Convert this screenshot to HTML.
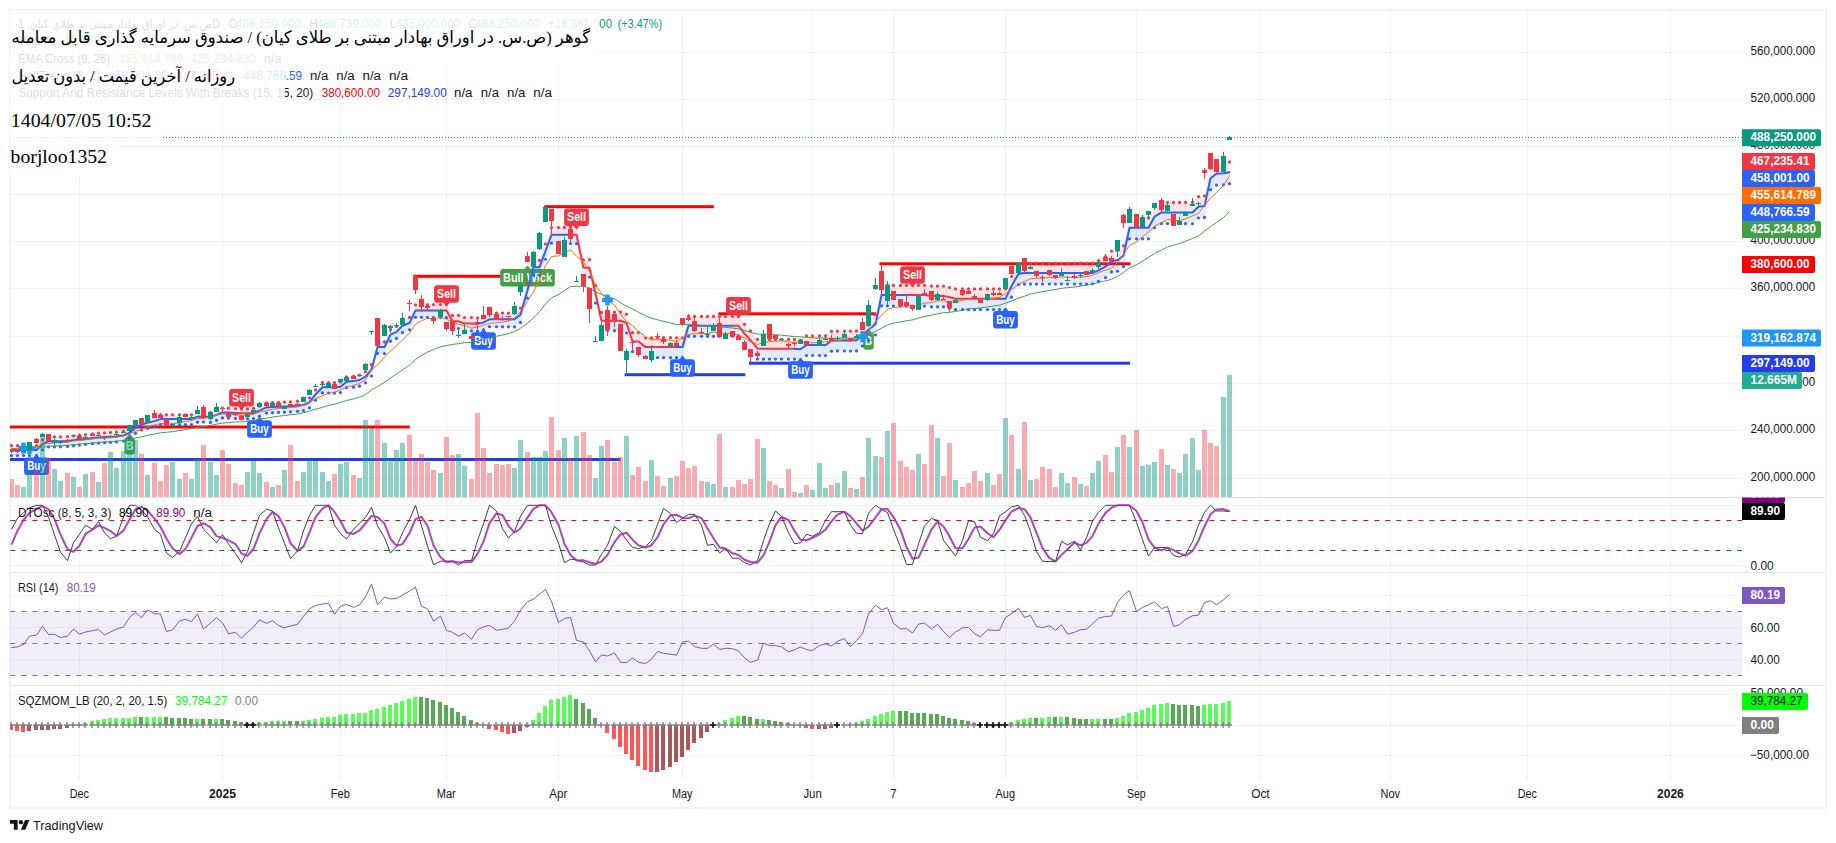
<!DOCTYPE html>
<html><head><meta charset="utf-8"><title>chart</title>
<style>html,body{margin:0;padding:0;background:#fff;overflow:hidden}svg{display:block}text{font-family:"Liberation Sans", Arial, sans-serif;white-space:pre}</style>
</head><body>
<svg width="1836" height="843" viewBox="0 0 1836 843">
<rect width="1836" height="843" fill="#fff"/>
<rect x="10" y="10" width="1816" height="798" fill="none" stroke="#f0f3fa" stroke-width="2" shape-rendering="crispEdges"/>
<g shape-rendering="crispEdges">
<rect x="79" y="11" width="1" height="769" fill="rgba(42,46,57,0.06)"/>
<rect x="222" y="11" width="1" height="769" fill="rgba(42,46,57,0.06)"/>
<rect x="340" y="11" width="1" height="769" fill="rgba(42,46,57,0.06)"/>
<rect x="446" y="11" width="1" height="769" fill="rgba(42,46,57,0.06)"/>
<rect x="558" y="11" width="1" height="769" fill="rgba(42,46,57,0.06)"/>
<rect x="682" y="11" width="1" height="769" fill="rgba(42,46,57,0.06)"/>
<rect x="812" y="11" width="1" height="769" fill="rgba(42,46,57,0.06)"/>
<rect x="893" y="11" width="1" height="769" fill="rgba(42,46,57,0.06)"/>
<rect x="1005" y="11" width="1" height="769" fill="rgba(42,46,57,0.06)"/>
<rect x="1136" y="11" width="1" height="769" fill="rgba(42,46,57,0.06)"/>
<rect x="1260" y="11" width="1" height="769" fill="rgba(42,46,57,0.06)"/>
<rect x="1390" y="11" width="1" height="769" fill="rgba(42,46,57,0.06)"/>
<rect x="1527" y="11" width="1" height="769" fill="rgba(42,46,57,0.06)"/>
<rect x="1670" y="11" width="1" height="769" fill="rgba(42,46,57,0.06)"/>
<rect x="10" y="52" width="1732" height="1" fill="rgba(42,46,57,0.06)"/>
<rect x="10" y="99" width="1732" height="1" fill="rgba(42,46,57,0.06)"/>
<rect x="10" y="146" width="1732" height="1" fill="rgba(42,46,57,0.06)"/>
<rect x="10" y="194" width="1732" height="1" fill="rgba(42,46,57,0.06)"/>
<rect x="10" y="241" width="1732" height="1" fill="rgba(42,46,57,0.06)"/>
<rect x="10" y="288" width="1732" height="1" fill="rgba(42,46,57,0.06)"/>
<rect x="10" y="336" width="1732" height="1" fill="rgba(42,46,57,0.06)"/>
<rect x="10" y="383" width="1732" height="1" fill="rgba(42,46,57,0.06)"/>
<rect x="10" y="430" width="1732" height="1" fill="rgba(42,46,57,0.06)"/>
<rect x="10" y="478" width="1732" height="1" fill="rgba(42,46,57,0.06)"/>
<rect x="10" y="505" width="1732" height="1" fill="rgba(42,46,57,0.06)"/>
<rect x="10" y="565" width="1732" height="1" fill="rgba(42,46,57,0.06)"/>
<rect x="10" y="595" width="1732" height="1" fill="rgba(42,46,57,0.06)"/>
<rect x="10" y="627" width="1732" height="1" fill="rgba(42,46,57,0.06)"/>
<rect x="10" y="659" width="1732" height="1" fill="rgba(42,46,57,0.06)"/>
<rect x="10" y="694" width="1732" height="1" fill="rgba(42,46,57,0.06)"/>
<rect x="10" y="725" width="1732" height="1" fill="rgba(42,46,57,0.06)"/>
<rect x="10" y="755" width="1732" height="1" fill="rgba(42,46,57,0.06)"/>
</g>
<rect x="10" y="611.5" width="1732" height="64" fill="rgba(126,87,194,0.1)"/>
<clipPath id="cm"><rect x="10" y="10" width="1732" height="487"/></clipPath>
<g clip-path="url(#cm)">
<rect x="10" y="425.5" width="399.7" height="3" fill="#ff0000"/>
<rect x="413.3" y="274.8" width="119.7" height="3" fill="#ff0000"/>
<rect x="544.2" y="205.2" width="169.6" height="3" fill="#ff0000"/>
<rect x="718.3" y="312.3" width="157.8" height="3" fill="#ff0000"/>
<rect x="879.4" y="262.3" width="251.2" height="3" fill="#ff0000"/>
<rect x="10" y="458" width="610.7" height="3" fill="#233dee"/>
<rect x="624.6" y="373.2" width="120.7" height="3" fill="#233dee"/>
<rect x="748.9" y="361.7" width="381.1" height="3" fill="#233dee"/>
<path d="M129.7 433.6 L132.7 437.2 L131.95 437.2 Q134.95 437.2 134.95 440.2 L134.95 451.4 Q134.95 454.4 131.95 454.4 L127.45 454.4 Q124.45 454.4 124.45 451.4 L124.45 440.2 Q124.45 437.2 127.45 437.2 L126.7 437.2Z" fill="#43a047" opacity="1"/>
<text x="129.7" y="450.1" font-size="12" fill="#fff" font-weight="bold" text-anchor="middle" textLength="7" lengthAdjust="spacingAndGlyphs">B</text>
<path d="M868.5 328.9 L871.5 332.5 L870.75 332.5 Q873.75 332.5 873.75 335.5 L873.75 346.7 Q873.75 349.7 870.75 349.7 L866.25 349.7 Q863.25 349.7 863.25 346.7 L863.25 335.5 Q863.25 332.5 866.25 332.5 L865.5 332.5Z" fill="#43a047" opacity="1"/>
<text x="868.5" y="345.4" font-size="12" fill="#fff" font-weight="bold" text-anchor="middle" textLength="7" lengthAdjust="spacingAndGlyphs">B</text>
<path d="M527.5 265.5 L530.5 269.1 L551.85 269.1 Q554.85 269.1 554.85 272.1 L554.85 283.6 Q554.85 286.6 551.85 286.6 L503.15 286.6 Q500.15 286.6 500.15 283.6 L500.15 272.1 Q500.15 269.1 503.15 269.1 L524.5 269.1Z" fill="#43a047" opacity="1"/>
<text x="527.5" y="282.15" font-size="12" fill="#fff" font-weight="bold" text-anchor="middle" textLength="48.9" lengthAdjust="spacingAndGlyphs">Bull Wick</text>
<path d="M11.5 450 L17.5 450 L23.5 450 L29.5 450 L36.5 450 L42.5 444.22 L48.5 441.33 L54.5 441.33 L60.5 441.22 L67.5 440.89 L73.5 440.22 L79.5 439.56 L85.5 438.89 L92.5 438.11 L98.5 437.56 L104.5 437.11 L110.5 436.78 L116.5 436.44 L123.5 435.56 L129.5 432.78 L135.5 427.78 L141.5 424.44 L147.5 422.78 L154.5 421.11 L160.5 419.11 L166.5 419.11 L172.5 419.11 L179.5 419.11 L185.5 419.11 L191.5 419.11 L197.5 416.67 L203.5 416.44 L210.5 416.89 L216.5 414.88 L222.5 412.38 L228.5 412.6 L235.5 412.88 L241.5 413.31 L247.5 413.31 L253.5 412.88 L259.5 410.6 L266.5 407.4 L272.5 407.05 L278.5 406.76 L284.5 406.48 L290.5 406.19 L297.5 405.62 L303.5 405 L309.5 402.22 L315.5 394.44 L322.5 387.22 L328.5 387.22 L334.5 387.22 L340.5 386.67 L346.5 381.67 L353.5 381.11 L359.5 380 L365.5 376.67 L371.5 369.78 L377.5 347.11 L384.5 347.11 L390.5 334.67 L396.5 331.89 L402.5 325.78 L409.5 323 L415.5 310.44 L421.5 310.44 L427.5 310.44 L433.5 310.44 L440.5 310.44 L446.5 310.44 L452.5 321.33 L458.5 321.33 L464.5 323.56 L471.5 323.56 L477.5 323.89 L483.5 322.44 L489.5 319.33 L496.5 319.33 L502.5 319.33 L508.5 319.33 L514.5 319.33 L520.5 314.67 L527.5 290.22 L533.5 267.22 L539.5 267.22 L545.5 251 L551.5 234.78 L558.5 234.78 L564.5 234.78 L570.5 234.78 L576.5 234.78 L583.5 267.78 L589.5 267.78 L595.5 293.56 L601.5 320.78 L607.5 320.78 L614.5 320.78 L620.5 320.78 L626.5 323 L632.5 341.56 L638.5 341.56 L645.5 347.11 L651.5 347.11 L657.5 347.11 L663.5 347.11 L670.5 347.11 L676.5 347.11 L682.5 347.11 L688.5 325.78 L694.5 325.78 L701.5 325.78 L707.5 325.78 L713.5 325.78 L719.5 325.78 L725.5 325.78 L732.5 325.78 L738.5 325.78 L744.5 333.56 L750.5 340.22 L757.5 348.56 L763.5 348.67 L769.5 348.67 L775.5 348.67 L781.5 348.67 L788.5 348.67 L794.5 348.67 L800.5 349.22 L806.5 345.11 L812.5 345.11 L819.5 345.11 L825.5 345.11 L831.5 340.67 L837.5 340.44 L844.5 340.44 L850.5 340.44 L856.5 340.33 L862.5 335.33 L868.5 329.78 L875.5 324.22 L881.5 295.11 L887.5 295.11 L893.5 295.11 L900.5 295.11 L906.5 295.11 L912.5 295.11 L918.5 295.11 L924.5 295.11 L931.5 295.89 L937.5 295.89 L943.5 295.89 L949.5 297.33 L955.5 298.67 L962.5 298.67 L968.5 298.67 L974.5 298.67 L980.5 298.67 L987.5 298.67 L993.5 298.67 L999.5 298.67 L1005.5 298.67 L1011.5 286.22 L1018.5 273.67 L1024.5 273.11 L1030.5 273.11 L1036.5 273.11 L1042.5 273.11 L1049.5 273.11 L1055.5 273.11 L1061.5 273.11 L1067.5 273.11 L1074.5 273.11 L1080.5 273.11 L1086.5 273.11 L1092.5 272.89 L1098.5 270.33 L1105.5 266.67 L1111.5 260.89 L1117.5 260.22 L1123.5 255.56 L1129.5 227.78 L1136.5 227.78 L1142.5 227.78 L1148.5 227.78 L1154.5 216.67 L1161.5 212.44 L1167.5 212.44 L1173.5 212.44 L1179.5 212.44 L1185.5 212.44 L1192.5 212.44 L1198.5 206.67 L1204.5 206.11 L1210.5 178.33 L1216.5 173.67 L1223.5 173.33 L1229.5 172.22 L1229.5 161.92 L1223.5 163.07 L1216.5 163.44 L1210.5 168.14 L1204.5 195.96 L1198.5 196.55 L1192.5 202.36 L1185.5 202.4 L1179.5 202.44 L1173.5 202.47 L1167.5 202.51 L1161.5 202.54 L1154.5 206.78 L1148.5 217.9 L1142.5 217.92 L1136.5 217.93 L1129.5 217.94 L1123.5 245.74 L1117.5 250.42 L1111.5 251.1 L1105.5 256.89 L1098.5 260.57 L1092.5 263.14 L1086.5 263.37 L1080.5 263.38 L1074.5 263.4 L1067.5 263.41 L1061.5 263.41 L1055.5 263.4 L1049.5 263.4 L1042.5 263.4 L1036.5 263.39 L1030.5 263.39 L1024.5 263.38 L1018.5 263.93 L1011.5 276.49 L1005.5 288.93 L999.5 288.92 L993.5 288.92 L987.5 288.91 L980.5 288.91 L974.5 288.91 L968.5 288.9 L962.5 288.9 L955.5 288.89 L949.5 287.56 L943.5 286.11 L937.5 286.1 L931.5 286.1 L924.5 285.32 L918.5 285.32 L912.5 285.31 L906.5 285.35 L900.5 285.39 L893.5 285.43 L887.5 285.47 L881.5 285.51 L875.5 314.66 L868.5 320.26 L862.5 325.85 L856.5 330.89 L850.5 331.04 L844.5 331.08 L837.5 331.12 L831.5 331.39 L825.5 335.87 L819.5 335.91 L812.5 335.9 L806.5 335.9 L800.5 340 L794.5 339.44 L788.5 339.43 L781.5 339.43 L775.5 339.42 L769.5 339.41 L763.5 339.41 L757.5 339.29 L750.5 330.95 L744.5 324.28 L738.5 316.49 L732.5 316.48 L725.5 316.48 L719.5 316.47 L713.5 316.46 L707.5 316.45 L701.5 316.44 L694.5 316.43 L688.5 316.42 L682.5 337.74 L676.5 337.73 L670.5 337.72 L663.5 337.71 L657.5 337.81 L651.5 337.91 L645.5 338.01 L638.5 332.56 L632.5 332.66 L626.5 314.2 L620.5 312.08 L614.5 312.18 L607.5 312.28 L601.5 312.38 L595.5 285.32 L589.5 259.71 L583.5 259.88 L576.5 227.04 L570.5 227.21 L564.5 227.38 L558.5 227.5 L551.5 227.62 L545.5 243.97 L539.5 260.31 L533.5 260.43 L527.5 283.56 L520.5 308.12 L514.5 312.91 L508.5 313.03 L502.5 313.07 L496.5 313.11 L489.5 313.15 L483.5 316.3 L477.5 317.78 L471.5 317.49 L464.5 317.52 L458.5 315.34 L452.5 315.38 L446.5 304.53 L440.5 304.57 L433.5 304.61 L427.5 304.64 L421.5 304.73 L415.5 304.82 L409.5 317.46 L402.5 320.32 L396.5 326.52 L390.5 329.38 L384.5 341.91 L377.5 341.98 L371.5 364.72 L365.5 371.68 L359.5 375.08 L353.5 376.26 L346.5 376.89 L340.5 381.96 L334.5 382.58 L328.5 382.65 L322.5 382.72 L315.5 389.95 L309.5 397.74 L303.5 400.52 L297.5 401.15 L290.5 401.73 L284.5 402.02 L278.5 402.32 L272.5 402.61 L266.5 402.97 L259.5 406.18 L253.5 408.47 L247.5 408.91 L241.5 408.91 L235.5 408.49 L228.5 408.22 L222.5 408.01 L216.5 410.51 L210.5 412.53 L203.5 412.1 L197.5 412.33 L191.5 414.78 L185.5 414.79 L179.5 414.8 L172.5 414.8 L166.5 414.81 L160.5 414.81 L154.5 416.8 L147.5 418.47 L141.5 420.13 L135.5 423.46 L129.5 428.45 L123.5 431.23 L116.5 432.11 L110.5 432.44 L104.5 432.77 L98.5 433.21 L92.5 433.76 L85.5 434.54 L79.5 435.2 L73.5 435.86 L67.5 436.52 L60.5 436.85 L54.5 436.96 L48.5 436.96 L42.5 439.84 L36.5 445.62 L29.5 445.61 L23.5 445.61 L17.5 445.6 L11.5 445.6Z" fill="rgba(242,54,69,0.13)"/>
<path d="M11.5 450 L17.5 450 L23.5 450 L29.5 450 L36.5 450 L42.5 444.22 L48.5 441.33 L54.5 441.33 L60.5 441.22 L67.5 440.89 L73.5 440.22 L79.5 439.56 L85.5 438.89 L92.5 438.11 L98.5 437.56 L104.5 437.11 L110.5 436.78 L116.5 436.44 L123.5 435.56 L129.5 432.78 L135.5 427.78 L141.5 424.44 L147.5 422.78 L154.5 421.11 L160.5 419.11 L166.5 419.11 L172.5 419.11 L179.5 419.11 L185.5 419.11 L191.5 419.11 L197.5 416.67 L203.5 416.44 L210.5 416.89 L216.5 414.88 L222.5 412.38 L228.5 412.6 L235.5 412.88 L241.5 413.31 L247.5 413.31 L253.5 412.88 L259.5 410.6 L266.5 407.4 L272.5 407.05 L278.5 406.76 L284.5 406.48 L290.5 406.19 L297.5 405.62 L303.5 405 L309.5 402.22 L315.5 394.44 L322.5 387.22 L328.5 387.22 L334.5 387.22 L340.5 386.67 L346.5 381.67 L353.5 381.11 L359.5 380 L365.5 376.67 L371.5 369.78 L377.5 347.11 L384.5 347.11 L390.5 334.67 L396.5 331.89 L402.5 325.78 L409.5 323 L415.5 310.44 L421.5 310.44 L427.5 310.44 L433.5 310.44 L440.5 310.44 L446.5 310.44 L452.5 321.33 L458.5 321.33 L464.5 323.56 L471.5 323.56 L477.5 323.89 L483.5 322.44 L489.5 319.33 L496.5 319.33 L502.5 319.33 L508.5 319.33 L514.5 319.33 L520.5 314.67 L527.5 290.22 L533.5 267.22 L539.5 267.22 L545.5 251 L551.5 234.78 L558.5 234.78 L564.5 234.78 L570.5 234.78 L576.5 234.78 L583.5 267.78 L589.5 267.78 L595.5 293.56 L601.5 320.78 L607.5 320.78 L614.5 320.78 L620.5 320.78 L626.5 323 L632.5 341.56 L638.5 341.56 L645.5 347.11 L651.5 347.11 L657.5 347.11 L663.5 347.11 L670.5 347.11 L676.5 347.11 L682.5 347.11 L688.5 325.78 L694.5 325.78 L701.5 325.78 L707.5 325.78 L713.5 325.78 L719.5 325.78 L725.5 325.78 L732.5 325.78 L738.5 325.78 L744.5 333.56 L750.5 340.22 L757.5 348.56 L763.5 348.67 L769.5 348.67 L775.5 348.67 L781.5 348.67 L788.5 348.67 L794.5 348.67 L800.5 349.22 L806.5 345.11 L812.5 345.11 L819.5 345.11 L825.5 345.11 L831.5 340.67 L837.5 340.44 L844.5 340.44 L850.5 340.44 L856.5 340.33 L862.5 335.33 L868.5 329.78 L875.5 324.22 L881.5 295.11 L887.5 295.11 L893.5 295.11 L900.5 295.11 L906.5 295.11 L912.5 295.11 L918.5 295.11 L924.5 295.11 L931.5 295.89 L937.5 295.89 L943.5 295.89 L949.5 297.33 L955.5 298.67 L962.5 298.67 L968.5 298.67 L974.5 298.67 L980.5 298.67 L987.5 298.67 L993.5 298.67 L999.5 298.67 L1005.5 298.67 L1011.5 286.22 L1018.5 273.67 L1024.5 273.11 L1030.5 273.11 L1036.5 273.11 L1042.5 273.11 L1049.5 273.11 L1055.5 273.11 L1061.5 273.11 L1067.5 273.11 L1074.5 273.11 L1080.5 273.11 L1086.5 273.11 L1092.5 272.89 L1098.5 270.33 L1105.5 266.67 L1111.5 260.89 L1117.5 260.22 L1123.5 255.56 L1129.5 227.78 L1136.5 227.78 L1142.5 227.78 L1148.5 227.78 L1154.5 216.67 L1161.5 212.44 L1167.5 212.44 L1173.5 212.44 L1179.5 212.44 L1185.5 212.44 L1192.5 212.44 L1198.5 206.67 L1204.5 206.11 L1210.5 178.33 L1216.5 173.67 L1223.5 173.33 L1229.5 172.22 L1229.5 183.72 L1223.5 184.8 L1216.5 185.09 L1210.5 189.72 L1204.5 217.47 L1198.5 217.98 L1192.5 223.73 L1185.5 223.69 L1179.5 223.65 L1173.5 223.62 L1167.5 223.58 L1161.5 223.54 L1154.5 227.75 L1148.5 238.85 L1142.5 238.84 L1136.5 238.82 L1129.5 238.81 L1123.5 266.58 L1117.5 271.23 L1111.5 271.88 L1105.5 277.65 L1098.5 281.3 L1092.5 283.84 L1086.5 284.05 L1080.5 284.04 L1074.5 284.02 L1067.5 284.01 L1061.5 284.02 L1055.5 284.02 L1049.5 284.02 L1042.5 284.03 L1036.5 284.03 L1030.5 284.04 L1024.5 284.04 L1018.5 284.6 L1011.5 297.16 L1005.5 309.61 L999.5 309.61 L993.5 309.61 L987.5 309.62 L980.5 309.62 L974.5 309.63 L968.5 309.63 L962.5 309.63 L955.5 309.64 L949.5 308.31 L943.5 306.87 L937.5 306.87 L931.5 306.88 L924.5 306.1 L918.5 306.11 L912.5 306.11 L906.5 306.07 L900.5 306.03 L893.5 305.99 L887.5 305.95 L881.5 305.91 L875.5 334.98 L868.5 340.5 L862.5 346.01 L856.5 350.97 L850.5 351.04 L844.5 351 L837.5 350.96 L831.5 351.15 L825.5 355.55 L819.5 355.51 L812.5 355.52 L806.5 355.52 L800.5 359.64 L794.5 359.09 L788.5 359.1 L781.5 359.11 L775.5 359.11 L769.5 359.12 L763.5 359.13 L757.5 359.02 L750.5 350.7 L744.5 344.04 L738.5 336.26 L732.5 336.27 L725.5 336.28 L719.5 336.29 L713.5 336.3 L707.5 336.31 L701.5 336.32 L694.5 336.33 L688.5 336.34 L682.5 357.68 L676.5 357.69 L670.5 357.7 L663.5 357.71 L657.5 357.61 L651.5 357.51 L645.5 357.41 L638.5 351.76 L632.5 351.66 L626.5 333 L620.5 330.68 L614.5 330.58 L607.5 330.48 L601.5 330.38 L595.5 302.99 L589.5 277.04 L583.5 276.88 L576.5 243.71 L570.5 243.54 L564.5 243.38 L558.5 243.26 L551.5 243.13 L545.5 259.23 L539.5 275.33 L533.5 275.21 L527.5 298.09 L520.5 322.41 L514.5 326.96 L508.5 326.83 L502.5 326.79 L496.5 326.76 L489.5 326.72 L483.5 329.79 L477.5 331.2 L471.5 330.82 L464.5 330.79 L458.5 328.53 L452.5 328.49 L446.5 317.56 L440.5 317.52 L433.5 317.48 L427.5 317.44 L421.5 317.36 L415.5 317.27 L409.5 329.74 L402.5 332.43 L396.5 338.46 L390.5 341.15 L384.5 353.51 L377.5 353.44 L371.5 376.04 L365.5 382.86 L359.5 386.12 L353.5 387.16 L346.5 387.65 L340.5 392.58 L334.5 393.06 L328.5 392.99 L322.5 392.92 L315.5 400.14 L309.5 407.91 L303.5 410.68 L297.5 411.29 L290.5 411.85 L284.5 412.13 L278.5 412.41 L272.5 412.68 L266.5 413.03 L259.5 416.22 L253.5 418.49 L247.5 418.91 L241.5 418.91 L235.5 418.47 L228.5 418.18 L222.5 417.96 L216.5 420.44 L210.5 422.44 L203.5 421.99 L197.5 422.21 L191.5 424.64 L185.5 424.64 L179.5 424.63 L172.5 424.62 L166.5 424.61 L160.5 424.62 L154.5 426.62 L147.5 428.29 L141.5 429.96 L135.5 433.3 L129.5 438.3 L123.5 441.08 L116.5 441.98 L110.5 442.31 L104.5 442.65 L98.5 443.1 L92.5 443.66 L85.5 444.44 L79.5 445.11 L73.5 445.78 L67.5 446.45 L60.5 446.79 L54.5 446.91 L48.5 446.91 L42.5 449.8 L36.5 455.58 L29.5 455.59 L23.5 455.59 L17.5 455.6 L11.5 455.6Z" fill="rgba(41,98,255,0.14)"/>
<path d="M11.5 450 L17.5 450 L23.5 450 L29.5 450 L36.5 450 L42.5 444.22 L48.5 441.33 L54.5 441.33 L60.5 441.22 L67.5 440.89 L73.5 440.22 L79.5 439.56 L85.5 438.89 L92.5 438.11 L98.5 437.56 L104.5 437.11 L110.5 436.78 L116.5 436.44 L123.5 435.56 L129.5 432.78 L135.5 427.78 L141.5 424.44 L147.5 422.78 L154.5 421.11 L160.5 419.11 L166.5 419.11 L172.5 419.11 L179.5 419.11 L185.5 419.11 L191.5 419.11 L197.5 416.67 L203.5 416.44 L210.5 416.89 L216.5 414.88 L222.5 412.38 L228.5 412.6 L235.5 412.88" stroke="#2962ff" stroke-width="2" fill="none" stroke-linejoin="round" stroke-linecap="round"/>
<path d="M235.5 412.88 L241.5 413.31 L247.5 413.31 L253.5 412.88" stroke="#f23645" stroke-width="2" fill="none" stroke-linejoin="round" stroke-linecap="round"/>
<path d="M253.5 412.88 L259.5 410.6 L266.5 407.4 L272.5 407.05 L278.5 406.76 L284.5 406.48 L290.5 406.19 L297.5 405.62 L303.5 405 L309.5 402.22 L315.5 394.44 L322.5 387.22 L328.5 387.22 L334.5 387.22 L340.5 386.67 L346.5 381.67 L353.5 381.11 L359.5 380 L365.5 376.67 L371.5 369.78 L377.5 347.11 L384.5 347.11 L390.5 334.67 L396.5 331.89 L402.5 325.78 L409.5 323 L415.5 310.44 L421.5 310.44 L427.5 310.44 L433.5 310.44 L440.5 310.44" stroke="#2962ff" stroke-width="2" fill="none" stroke-linejoin="round" stroke-linecap="round"/>
<path d="M440.5 310.44 L446.5 310.44 L452.5 321.33 L458.5 321.33 L464.5 323.56 L471.5 323.56 L477.5 323.89" stroke="#f23645" stroke-width="2" fill="none" stroke-linejoin="round" stroke-linecap="round"/>
<path d="M477.5 323.89 L483.5 322.44 L489.5 319.33 L496.5 319.33 L502.5 319.33 L508.5 319.33 L514.5 319.33 L520.5 314.67 L527.5 290.22 L533.5 267.22 L539.5 267.22 L545.5 251 L551.5 234.78 L558.5 234.78 L564.5 234.78 L570.5 234.78" stroke="#2962ff" stroke-width="2" fill="none" stroke-linejoin="round" stroke-linecap="round"/>
<path d="M570.5 234.78 L576.5 234.78 L583.5 267.78 L589.5 267.78 L595.5 293.56 L601.5 320.78 L607.5 320.78 L614.5 320.78 L620.5 320.78 L626.5 323 L632.5 341.56 L638.5 341.56 L645.5 347.11 L651.5 347.11 L657.5 347.11 L663.5 347.11 L670.5 347.11 L676.5 347.11" stroke="#f23645" stroke-width="2" fill="none" stroke-linejoin="round" stroke-linecap="round"/>
<path d="M676.5 347.11 L682.5 347.11 L688.5 325.78 L694.5 325.78 L701.5 325.78 L707.5 325.78 L713.5 325.78 L719.5 325.78 L725.5 325.78 L732.5 325.78" stroke="#2962ff" stroke-width="2" fill="none" stroke-linejoin="round" stroke-linecap="round"/>
<path d="M732.5 325.78 L738.5 325.78 L744.5 333.56 L750.5 340.22 L757.5 348.56 L763.5 348.67 L769.5 348.67 L775.5 348.67 L781.5 348.67 L788.5 348.67 L794.5 348.67" stroke="#f23645" stroke-width="2" fill="none" stroke-linejoin="round" stroke-linecap="round"/>
<path d="M794.5 348.67 L800.5 349.22 L806.5 345.11 L812.5 345.11 L819.5 345.11 L825.5 345.11 L831.5 340.67 L837.5 340.44 L844.5 340.44 L850.5 340.44 L856.5 340.33 L862.5 335.33 L868.5 329.78 L875.5 324.22 L881.5 295.11 L887.5 295.11 L893.5 295.11 L900.5 295.11 L906.5 295.11" stroke="#2962ff" stroke-width="2" fill="none" stroke-linejoin="round" stroke-linecap="round"/>
<path d="M906.5 295.11 L912.5 295.11 L918.5 295.11 L924.5 295.11 L931.5 295.89 L937.5 295.89 L943.5 295.89 L949.5 297.33 L955.5 298.67 L962.5 298.67 L968.5 298.67 L974.5 298.67 L980.5 298.67 L987.5 298.67 L993.5 298.67 L999.5 298.67" stroke="#f23645" stroke-width="2" fill="none" stroke-linejoin="round" stroke-linecap="round"/>
<path d="M999.5 298.67 L1005.5 298.67 L1011.5 286.22 L1018.5 273.67 L1024.5 273.11 L1030.5 273.11 L1036.5 273.11 L1042.5 273.11 L1049.5 273.11 L1055.5 273.11 L1061.5 273.11 L1067.5 273.11 L1074.5 273.11 L1080.5 273.11 L1086.5 273.11 L1092.5 272.89 L1098.5 270.33 L1105.5 266.67 L1111.5 260.89 L1117.5 260.22 L1123.5 255.56 L1129.5 227.78 L1136.5 227.78 L1142.5 227.78 L1148.5 227.78 L1154.5 216.67 L1161.5 212.44 L1167.5 212.44 L1173.5 212.44 L1179.5 212.44 L1185.5 212.44 L1192.5 212.44 L1198.5 206.67 L1204.5 206.11 L1210.5 178.33 L1216.5 173.67 L1223.5 173.33 L1229.5 172.22" stroke="#2962ff" stroke-width="2" fill="none" stroke-linejoin="round" stroke-linecap="round"/>
<circle cx="11.5" cy="445.6" r="1.6" fill="#f23645"/>
<circle cx="11.5" cy="455.6" r="1.6" fill="#2962ff"/>
<circle cx="17.5" cy="445.6" r="1.6" fill="#f23645"/>
<circle cx="17.5" cy="455.6" r="1.6" fill="#2962ff"/>
<circle cx="23.5" cy="445.61" r="1.6" fill="#f23645"/>
<circle cx="23.5" cy="455.59" r="1.6" fill="#2962ff"/>
<circle cx="29.5" cy="445.61" r="1.6" fill="#f23645"/>
<circle cx="29.5" cy="455.59" r="1.6" fill="#2962ff"/>
<circle cx="36.5" cy="445.62" r="1.6" fill="#f23645"/>
<circle cx="36.5" cy="455.58" r="1.6" fill="#2962ff"/>
<circle cx="42.5" cy="439.84" r="1.6" fill="#f23645"/>
<circle cx="42.5" cy="449.8" r="1.6" fill="#2962ff"/>
<circle cx="48.5" cy="436.96" r="1.6" fill="#f23645"/>
<circle cx="48.5" cy="446.91" r="1.6" fill="#2962ff"/>
<circle cx="54.5" cy="436.96" r="1.6" fill="#f23645"/>
<circle cx="54.5" cy="446.91" r="1.6" fill="#2962ff"/>
<circle cx="60.5" cy="436.85" r="1.6" fill="#f23645"/>
<circle cx="60.5" cy="446.79" r="1.6" fill="#2962ff"/>
<circle cx="67.5" cy="436.52" r="1.6" fill="#f23645"/>
<circle cx="67.5" cy="446.45" r="1.6" fill="#2962ff"/>
<circle cx="73.5" cy="435.86" r="1.6" fill="#f23645"/>
<circle cx="73.5" cy="445.78" r="1.6" fill="#2962ff"/>
<circle cx="79.5" cy="435.2" r="1.6" fill="#f23645"/>
<circle cx="79.5" cy="445.11" r="1.6" fill="#2962ff"/>
<circle cx="85.5" cy="434.54" r="1.6" fill="#f23645"/>
<circle cx="85.5" cy="444.44" r="1.6" fill="#2962ff"/>
<circle cx="92.5" cy="433.76" r="1.6" fill="#f23645"/>
<circle cx="92.5" cy="443.66" r="1.6" fill="#2962ff"/>
<circle cx="98.5" cy="433.21" r="1.6" fill="#f23645"/>
<circle cx="98.5" cy="443.1" r="1.6" fill="#2962ff"/>
<circle cx="104.5" cy="432.77" r="1.6" fill="#f23645"/>
<circle cx="104.5" cy="442.65" r="1.6" fill="#2962ff"/>
<circle cx="110.5" cy="432.44" r="1.6" fill="#f23645"/>
<circle cx="110.5" cy="442.31" r="1.6" fill="#2962ff"/>
<circle cx="116.5" cy="432.11" r="1.6" fill="#f23645"/>
<circle cx="116.5" cy="441.98" r="1.6" fill="#2962ff"/>
<circle cx="123.5" cy="431.23" r="1.6" fill="#f23645"/>
<circle cx="123.5" cy="441.08" r="1.6" fill="#2962ff"/>
<circle cx="129.5" cy="428.45" r="1.6" fill="#f23645"/>
<circle cx="129.5" cy="438.3" r="1.6" fill="#2962ff"/>
<circle cx="135.5" cy="423.46" r="1.6" fill="#f23645"/>
<circle cx="135.5" cy="433.3" r="1.6" fill="#2962ff"/>
<circle cx="141.5" cy="420.13" r="1.6" fill="#f23645"/>
<circle cx="141.5" cy="429.96" r="1.6" fill="#2962ff"/>
<circle cx="147.5" cy="418.47" r="1.6" fill="#f23645"/>
<circle cx="147.5" cy="428.29" r="1.6" fill="#2962ff"/>
<circle cx="154.5" cy="416.8" r="1.6" fill="#f23645"/>
<circle cx="154.5" cy="426.62" r="1.6" fill="#2962ff"/>
<circle cx="160.5" cy="414.81" r="1.6" fill="#f23645"/>
<circle cx="160.5" cy="424.62" r="1.6" fill="#2962ff"/>
<circle cx="166.5" cy="414.81" r="1.6" fill="#f23645"/>
<circle cx="166.5" cy="424.61" r="1.6" fill="#2962ff"/>
<circle cx="172.5" cy="414.8" r="1.6" fill="#f23645"/>
<circle cx="172.5" cy="424.62" r="1.6" fill="#2962ff"/>
<circle cx="179.5" cy="414.8" r="1.6" fill="#f23645"/>
<circle cx="179.5" cy="424.63" r="1.6" fill="#2962ff"/>
<circle cx="185.5" cy="414.79" r="1.6" fill="#f23645"/>
<circle cx="185.5" cy="424.64" r="1.6" fill="#2962ff"/>
<circle cx="191.5" cy="414.78" r="1.6" fill="#f23645"/>
<circle cx="191.5" cy="424.64" r="1.6" fill="#2962ff"/>
<circle cx="197.5" cy="412.33" r="1.6" fill="#f23645"/>
<circle cx="197.5" cy="422.21" r="1.6" fill="#2962ff"/>
<circle cx="203.5" cy="412.1" r="1.6" fill="#f23645"/>
<circle cx="203.5" cy="421.99" r="1.6" fill="#2962ff"/>
<circle cx="210.5" cy="412.53" r="1.6" fill="#f23645"/>
<circle cx="210.5" cy="422.44" r="1.6" fill="#2962ff"/>
<circle cx="216.5" cy="410.51" r="1.6" fill="#f23645"/>
<circle cx="216.5" cy="420.44" r="1.6" fill="#2962ff"/>
<circle cx="222.5" cy="408.01" r="1.6" fill="#f23645"/>
<circle cx="222.5" cy="417.96" r="1.6" fill="#2962ff"/>
<circle cx="228.5" cy="408.22" r="1.6" fill="#f23645"/>
<circle cx="228.5" cy="418.18" r="1.6" fill="#2962ff"/>
<circle cx="235.5" cy="408.49" r="1.6" fill="#f23645"/>
<circle cx="235.5" cy="418.47" r="1.6" fill="#2962ff"/>
<circle cx="241.5" cy="408.91" r="1.6" fill="#f23645"/>
<circle cx="241.5" cy="418.91" r="1.6" fill="#2962ff"/>
<circle cx="247.5" cy="408.91" r="1.6" fill="#f23645"/>
<circle cx="247.5" cy="418.91" r="1.6" fill="#2962ff"/>
<circle cx="253.5" cy="408.47" r="1.6" fill="#f23645"/>
<circle cx="253.5" cy="418.49" r="1.6" fill="#2962ff"/>
<circle cx="259.5" cy="406.18" r="1.6" fill="#f23645"/>
<circle cx="259.5" cy="416.22" r="1.6" fill="#2962ff"/>
<circle cx="266.5" cy="402.97" r="1.6" fill="#f23645"/>
<circle cx="266.5" cy="413.03" r="1.6" fill="#2962ff"/>
<circle cx="272.5" cy="402.61" r="1.6" fill="#f23645"/>
<circle cx="272.5" cy="412.68" r="1.6" fill="#2962ff"/>
<circle cx="278.5" cy="402.32" r="1.6" fill="#f23645"/>
<circle cx="278.5" cy="412.41" r="1.6" fill="#2962ff"/>
<circle cx="284.5" cy="402.02" r="1.6" fill="#f23645"/>
<circle cx="284.5" cy="412.13" r="1.6" fill="#2962ff"/>
<circle cx="290.5" cy="401.73" r="1.6" fill="#f23645"/>
<circle cx="290.5" cy="411.85" r="1.6" fill="#2962ff"/>
<circle cx="297.5" cy="401.15" r="1.6" fill="#f23645"/>
<circle cx="297.5" cy="411.29" r="1.6" fill="#2962ff"/>
<circle cx="303.5" cy="400.52" r="1.6" fill="#f23645"/>
<circle cx="303.5" cy="410.68" r="1.6" fill="#2962ff"/>
<circle cx="309.5" cy="397.74" r="1.6" fill="#f23645"/>
<circle cx="309.5" cy="407.91" r="1.6" fill="#2962ff"/>
<circle cx="315.5" cy="389.95" r="1.6" fill="#f23645"/>
<circle cx="315.5" cy="400.14" r="1.6" fill="#2962ff"/>
<circle cx="322.5" cy="382.72" r="1.6" fill="#f23645"/>
<circle cx="322.5" cy="392.92" r="1.6" fill="#2962ff"/>
<circle cx="328.5" cy="382.65" r="1.6" fill="#f23645"/>
<circle cx="328.5" cy="392.99" r="1.6" fill="#2962ff"/>
<circle cx="334.5" cy="382.58" r="1.6" fill="#f23645"/>
<circle cx="334.5" cy="393.06" r="1.6" fill="#2962ff"/>
<circle cx="340.5" cy="381.96" r="1.6" fill="#f23645"/>
<circle cx="340.5" cy="392.58" r="1.6" fill="#2962ff"/>
<circle cx="346.5" cy="376.89" r="1.6" fill="#f23645"/>
<circle cx="346.5" cy="387.65" r="1.6" fill="#2962ff"/>
<circle cx="353.5" cy="376.26" r="1.6" fill="#f23645"/>
<circle cx="353.5" cy="387.16" r="1.6" fill="#2962ff"/>
<circle cx="359.5" cy="375.08" r="1.6" fill="#f23645"/>
<circle cx="359.5" cy="386.12" r="1.6" fill="#2962ff"/>
<circle cx="365.5" cy="371.68" r="1.6" fill="#f23645"/>
<circle cx="365.5" cy="382.86" r="1.6" fill="#2962ff"/>
<circle cx="371.5" cy="364.72" r="1.6" fill="#f23645"/>
<circle cx="371.5" cy="376.04" r="1.6" fill="#2962ff"/>
<circle cx="377.5" cy="341.98" r="1.6" fill="#f23645"/>
<circle cx="377.5" cy="353.44" r="1.6" fill="#2962ff"/>
<circle cx="384.5" cy="341.91" r="1.6" fill="#f23645"/>
<circle cx="384.5" cy="353.51" r="1.6" fill="#2962ff"/>
<circle cx="390.5" cy="329.38" r="1.6" fill="#f23645"/>
<circle cx="390.5" cy="341.15" r="1.6" fill="#2962ff"/>
<circle cx="396.5" cy="326.52" r="1.6" fill="#f23645"/>
<circle cx="396.5" cy="338.46" r="1.6" fill="#2962ff"/>
<circle cx="402.5" cy="320.32" r="1.6" fill="#f23645"/>
<circle cx="402.5" cy="332.43" r="1.6" fill="#2962ff"/>
<circle cx="409.5" cy="317.46" r="1.6" fill="#f23645"/>
<circle cx="409.5" cy="329.74" r="1.6" fill="#2962ff"/>
<circle cx="415.5" cy="304.82" r="1.6" fill="#f23645"/>
<circle cx="415.5" cy="317.27" r="1.6" fill="#2962ff"/>
<circle cx="421.5" cy="304.73" r="1.6" fill="#f23645"/>
<circle cx="421.5" cy="317.36" r="1.6" fill="#2962ff"/>
<circle cx="427.5" cy="304.64" r="1.6" fill="#f23645"/>
<circle cx="427.5" cy="317.44" r="1.6" fill="#2962ff"/>
<circle cx="433.5" cy="304.61" r="1.6" fill="#f23645"/>
<circle cx="433.5" cy="317.48" r="1.6" fill="#2962ff"/>
<circle cx="440.5" cy="304.57" r="1.6" fill="#f23645"/>
<circle cx="440.5" cy="317.52" r="1.6" fill="#2962ff"/>
<circle cx="446.5" cy="304.53" r="1.6" fill="#f23645"/>
<circle cx="446.5" cy="317.56" r="1.6" fill="#2962ff"/>
<circle cx="452.5" cy="315.38" r="1.6" fill="#f23645"/>
<circle cx="452.5" cy="328.49" r="1.6" fill="#2962ff"/>
<circle cx="458.5" cy="315.34" r="1.6" fill="#f23645"/>
<circle cx="458.5" cy="328.53" r="1.6" fill="#2962ff"/>
<circle cx="464.5" cy="317.52" r="1.6" fill="#f23645"/>
<circle cx="464.5" cy="330.79" r="1.6" fill="#2962ff"/>
<circle cx="471.5" cy="317.49" r="1.6" fill="#f23645"/>
<circle cx="471.5" cy="330.82" r="1.6" fill="#2962ff"/>
<circle cx="477.5" cy="317.78" r="1.6" fill="#f23645"/>
<circle cx="477.5" cy="331.2" r="1.6" fill="#2962ff"/>
<circle cx="483.5" cy="316.3" r="1.6" fill="#f23645"/>
<circle cx="483.5" cy="329.79" r="1.6" fill="#2962ff"/>
<circle cx="489.5" cy="313.15" r="1.6" fill="#f23645"/>
<circle cx="489.5" cy="326.72" r="1.6" fill="#2962ff"/>
<circle cx="496.5" cy="313.11" r="1.6" fill="#f23645"/>
<circle cx="496.5" cy="326.76" r="1.6" fill="#2962ff"/>
<circle cx="502.5" cy="313.07" r="1.6" fill="#f23645"/>
<circle cx="502.5" cy="326.79" r="1.6" fill="#2962ff"/>
<circle cx="508.5" cy="313.03" r="1.6" fill="#f23645"/>
<circle cx="508.5" cy="326.83" r="1.6" fill="#2962ff"/>
<circle cx="514.5" cy="312.91" r="1.6" fill="#f23645"/>
<circle cx="514.5" cy="326.96" r="1.6" fill="#2962ff"/>
<circle cx="520.5" cy="308.12" r="1.6" fill="#f23645"/>
<circle cx="520.5" cy="322.41" r="1.6" fill="#2962ff"/>
<circle cx="527.5" cy="283.56" r="1.6" fill="#f23645"/>
<circle cx="527.5" cy="298.09" r="1.6" fill="#2962ff"/>
<circle cx="533.5" cy="260.43" r="1.6" fill="#f23645"/>
<circle cx="533.5" cy="275.21" r="1.6" fill="#2962ff"/>
<circle cx="539.5" cy="260.31" r="1.6" fill="#f23645"/>
<circle cx="539.5" cy="275.33" r="1.6" fill="#2962ff"/>
<circle cx="545.5" cy="243.97" r="1.6" fill="#f23645"/>
<circle cx="545.5" cy="259.23" r="1.6" fill="#2962ff"/>
<circle cx="551.5" cy="227.62" r="1.6" fill="#f23645"/>
<circle cx="551.5" cy="243.13" r="1.6" fill="#2962ff"/>
<circle cx="558.5" cy="227.5" r="1.6" fill="#f23645"/>
<circle cx="558.5" cy="243.26" r="1.6" fill="#2962ff"/>
<circle cx="564.5" cy="227.38" r="1.6" fill="#f23645"/>
<circle cx="564.5" cy="243.38" r="1.6" fill="#2962ff"/>
<circle cx="570.5" cy="227.21" r="1.6" fill="#f23645"/>
<circle cx="570.5" cy="243.54" r="1.6" fill="#2962ff"/>
<circle cx="576.5" cy="227.04" r="1.6" fill="#f23645"/>
<circle cx="576.5" cy="243.71" r="1.6" fill="#2962ff"/>
<circle cx="583.5" cy="259.88" r="1.6" fill="#f23645"/>
<circle cx="583.5" cy="276.88" r="1.6" fill="#2962ff"/>
<circle cx="589.5" cy="259.71" r="1.6" fill="#f23645"/>
<circle cx="589.5" cy="277.04" r="1.6" fill="#2962ff"/>
<circle cx="595.5" cy="285.32" r="1.6" fill="#f23645"/>
<circle cx="595.5" cy="302.99" r="1.6" fill="#2962ff"/>
<circle cx="601.5" cy="312.38" r="1.6" fill="#f23645"/>
<circle cx="601.5" cy="330.38" r="1.6" fill="#2962ff"/>
<circle cx="607.5" cy="312.28" r="1.6" fill="#f23645"/>
<circle cx="607.5" cy="330.48" r="1.6" fill="#2962ff"/>
<circle cx="614.5" cy="312.18" r="1.6" fill="#f23645"/>
<circle cx="614.5" cy="330.58" r="1.6" fill="#2962ff"/>
<circle cx="620.5" cy="312.08" r="1.6" fill="#f23645"/>
<circle cx="620.5" cy="330.68" r="1.6" fill="#2962ff"/>
<circle cx="626.5" cy="314.2" r="1.6" fill="#f23645"/>
<circle cx="626.5" cy="333" r="1.6" fill="#2962ff"/>
<circle cx="632.5" cy="332.66" r="1.6" fill="#f23645"/>
<circle cx="632.5" cy="351.66" r="1.6" fill="#2962ff"/>
<circle cx="638.5" cy="332.56" r="1.6" fill="#f23645"/>
<circle cx="638.5" cy="351.76" r="1.6" fill="#2962ff"/>
<circle cx="645.5" cy="338.01" r="1.6" fill="#f23645"/>
<circle cx="645.5" cy="357.41" r="1.6" fill="#2962ff"/>
<circle cx="651.5" cy="337.91" r="1.6" fill="#f23645"/>
<circle cx="651.5" cy="357.51" r="1.6" fill="#2962ff"/>
<circle cx="657.5" cy="337.81" r="1.6" fill="#f23645"/>
<circle cx="657.5" cy="357.61" r="1.6" fill="#2962ff"/>
<circle cx="663.5" cy="337.71" r="1.6" fill="#f23645"/>
<circle cx="663.5" cy="357.71" r="1.6" fill="#2962ff"/>
<circle cx="670.5" cy="337.72" r="1.6" fill="#f23645"/>
<circle cx="670.5" cy="357.7" r="1.6" fill="#2962ff"/>
<circle cx="676.5" cy="337.73" r="1.6" fill="#f23645"/>
<circle cx="676.5" cy="357.69" r="1.6" fill="#2962ff"/>
<circle cx="682.5" cy="337.74" r="1.6" fill="#f23645"/>
<circle cx="682.5" cy="357.68" r="1.6" fill="#2962ff"/>
<circle cx="688.5" cy="316.42" r="1.6" fill="#f23645"/>
<circle cx="688.5" cy="336.34" r="1.6" fill="#2962ff"/>
<circle cx="694.5" cy="316.43" r="1.6" fill="#f23645"/>
<circle cx="694.5" cy="336.33" r="1.6" fill="#2962ff"/>
<circle cx="701.5" cy="316.44" r="1.6" fill="#f23645"/>
<circle cx="701.5" cy="336.32" r="1.6" fill="#2962ff"/>
<circle cx="707.5" cy="316.45" r="1.6" fill="#f23645"/>
<circle cx="707.5" cy="336.31" r="1.6" fill="#2962ff"/>
<circle cx="713.5" cy="316.46" r="1.6" fill="#f23645"/>
<circle cx="713.5" cy="336.3" r="1.6" fill="#2962ff"/>
<circle cx="719.5" cy="316.47" r="1.6" fill="#f23645"/>
<circle cx="719.5" cy="336.29" r="1.6" fill="#2962ff"/>
<circle cx="725.5" cy="316.48" r="1.6" fill="#f23645"/>
<circle cx="725.5" cy="336.28" r="1.6" fill="#2962ff"/>
<circle cx="732.5" cy="316.48" r="1.6" fill="#f23645"/>
<circle cx="732.5" cy="336.27" r="1.6" fill="#2962ff"/>
<circle cx="738.5" cy="316.49" r="1.6" fill="#f23645"/>
<circle cx="738.5" cy="336.26" r="1.6" fill="#2962ff"/>
<circle cx="744.5" cy="324.28" r="1.6" fill="#f23645"/>
<circle cx="744.5" cy="344.04" r="1.6" fill="#2962ff"/>
<circle cx="750.5" cy="330.95" r="1.6" fill="#f23645"/>
<circle cx="750.5" cy="350.7" r="1.6" fill="#2962ff"/>
<circle cx="757.5" cy="339.29" r="1.6" fill="#f23645"/>
<circle cx="757.5" cy="359.02" r="1.6" fill="#2962ff"/>
<circle cx="763.5" cy="339.41" r="1.6" fill="#f23645"/>
<circle cx="763.5" cy="359.13" r="1.6" fill="#2962ff"/>
<circle cx="769.5" cy="339.41" r="1.6" fill="#f23645"/>
<circle cx="769.5" cy="359.12" r="1.6" fill="#2962ff"/>
<circle cx="775.5" cy="339.42" r="1.6" fill="#f23645"/>
<circle cx="775.5" cy="359.11" r="1.6" fill="#2962ff"/>
<circle cx="781.5" cy="339.43" r="1.6" fill="#f23645"/>
<circle cx="781.5" cy="359.11" r="1.6" fill="#2962ff"/>
<circle cx="788.5" cy="339.43" r="1.6" fill="#f23645"/>
<circle cx="788.5" cy="359.1" r="1.6" fill="#2962ff"/>
<circle cx="794.5" cy="339.44" r="1.6" fill="#f23645"/>
<circle cx="794.5" cy="359.09" r="1.6" fill="#2962ff"/>
<circle cx="800.5" cy="340" r="1.6" fill="#f23645"/>
<circle cx="800.5" cy="359.64" r="1.6" fill="#2962ff"/>
<circle cx="806.5" cy="335.9" r="1.6" fill="#f23645"/>
<circle cx="806.5" cy="355.52" r="1.6" fill="#2962ff"/>
<circle cx="812.5" cy="335.9" r="1.6" fill="#f23645"/>
<circle cx="812.5" cy="355.52" r="1.6" fill="#2962ff"/>
<circle cx="819.5" cy="335.91" r="1.6" fill="#f23645"/>
<circle cx="819.5" cy="355.51" r="1.6" fill="#2962ff"/>
<circle cx="825.5" cy="335.87" r="1.6" fill="#f23645"/>
<circle cx="825.5" cy="355.55" r="1.6" fill="#2962ff"/>
<circle cx="831.5" cy="331.39" r="1.6" fill="#f23645"/>
<circle cx="831.5" cy="351.15" r="1.6" fill="#2962ff"/>
<circle cx="837.5" cy="331.12" r="1.6" fill="#f23645"/>
<circle cx="837.5" cy="350.96" r="1.6" fill="#2962ff"/>
<circle cx="844.5" cy="331.08" r="1.6" fill="#f23645"/>
<circle cx="844.5" cy="351" r="1.6" fill="#2962ff"/>
<circle cx="850.5" cy="331.04" r="1.6" fill="#f23645"/>
<circle cx="850.5" cy="351.04" r="1.6" fill="#2962ff"/>
<circle cx="856.5" cy="330.89" r="1.6" fill="#f23645"/>
<circle cx="856.5" cy="350.97" r="1.6" fill="#2962ff"/>
<circle cx="862.5" cy="325.85" r="1.6" fill="#f23645"/>
<circle cx="862.5" cy="346.01" r="1.6" fill="#2962ff"/>
<circle cx="868.5" cy="320.26" r="1.6" fill="#f23645"/>
<circle cx="868.5" cy="340.5" r="1.6" fill="#2962ff"/>
<circle cx="875.5" cy="314.66" r="1.6" fill="#f23645"/>
<circle cx="875.5" cy="334.98" r="1.6" fill="#2962ff"/>
<circle cx="881.5" cy="285.51" r="1.6" fill="#f23645"/>
<circle cx="881.5" cy="305.91" r="1.6" fill="#2962ff"/>
<circle cx="887.5" cy="285.47" r="1.6" fill="#f23645"/>
<circle cx="887.5" cy="305.95" r="1.6" fill="#2962ff"/>
<circle cx="893.5" cy="285.43" r="1.6" fill="#f23645"/>
<circle cx="893.5" cy="305.99" r="1.6" fill="#2962ff"/>
<circle cx="900.5" cy="285.39" r="1.6" fill="#f23645"/>
<circle cx="900.5" cy="306.03" r="1.6" fill="#2962ff"/>
<circle cx="906.5" cy="285.35" r="1.6" fill="#f23645"/>
<circle cx="906.5" cy="306.07" r="1.6" fill="#2962ff"/>
<circle cx="912.5" cy="285.31" r="1.6" fill="#f23645"/>
<circle cx="912.5" cy="306.11" r="1.6" fill="#2962ff"/>
<circle cx="918.5" cy="285.32" r="1.6" fill="#f23645"/>
<circle cx="918.5" cy="306.11" r="1.6" fill="#2962ff"/>
<circle cx="924.5" cy="285.32" r="1.6" fill="#f23645"/>
<circle cx="924.5" cy="306.1" r="1.6" fill="#2962ff"/>
<circle cx="931.5" cy="286.1" r="1.6" fill="#f23645"/>
<circle cx="931.5" cy="306.88" r="1.6" fill="#2962ff"/>
<circle cx="937.5" cy="286.1" r="1.6" fill="#f23645"/>
<circle cx="937.5" cy="306.87" r="1.6" fill="#2962ff"/>
<circle cx="943.5" cy="286.11" r="1.6" fill="#f23645"/>
<circle cx="943.5" cy="306.87" r="1.6" fill="#2962ff"/>
<circle cx="949.5" cy="287.56" r="1.6" fill="#f23645"/>
<circle cx="949.5" cy="308.31" r="1.6" fill="#2962ff"/>
<circle cx="955.5" cy="288.89" r="1.6" fill="#f23645"/>
<circle cx="955.5" cy="309.64" r="1.6" fill="#2962ff"/>
<circle cx="962.5" cy="288.9" r="1.6" fill="#f23645"/>
<circle cx="962.5" cy="309.63" r="1.6" fill="#2962ff"/>
<circle cx="968.5" cy="288.9" r="1.6" fill="#f23645"/>
<circle cx="968.5" cy="309.63" r="1.6" fill="#2962ff"/>
<circle cx="974.5" cy="288.91" r="1.6" fill="#f23645"/>
<circle cx="974.5" cy="309.63" r="1.6" fill="#2962ff"/>
<circle cx="980.5" cy="288.91" r="1.6" fill="#f23645"/>
<circle cx="980.5" cy="309.62" r="1.6" fill="#2962ff"/>
<circle cx="987.5" cy="288.91" r="1.6" fill="#f23645"/>
<circle cx="987.5" cy="309.62" r="1.6" fill="#2962ff"/>
<circle cx="993.5" cy="288.92" r="1.6" fill="#f23645"/>
<circle cx="993.5" cy="309.61" r="1.6" fill="#2962ff"/>
<circle cx="999.5" cy="288.92" r="1.6" fill="#f23645"/>
<circle cx="999.5" cy="309.61" r="1.6" fill="#2962ff"/>
<circle cx="1005.5" cy="288.93" r="1.6" fill="#f23645"/>
<circle cx="1005.5" cy="309.61" r="1.6" fill="#2962ff"/>
<circle cx="1011.5" cy="276.49" r="1.6" fill="#f23645"/>
<circle cx="1011.5" cy="297.16" r="1.6" fill="#2962ff"/>
<circle cx="1018.5" cy="263.93" r="1.6" fill="#f23645"/>
<circle cx="1018.5" cy="284.6" r="1.6" fill="#2962ff"/>
<circle cx="1024.5" cy="263.38" r="1.6" fill="#f23645"/>
<circle cx="1024.5" cy="284.04" r="1.6" fill="#2962ff"/>
<circle cx="1030.5" cy="263.39" r="1.6" fill="#f23645"/>
<circle cx="1030.5" cy="284.04" r="1.6" fill="#2962ff"/>
<circle cx="1036.5" cy="263.39" r="1.6" fill="#f23645"/>
<circle cx="1036.5" cy="284.03" r="1.6" fill="#2962ff"/>
<circle cx="1042.5" cy="263.4" r="1.6" fill="#f23645"/>
<circle cx="1042.5" cy="284.03" r="1.6" fill="#2962ff"/>
<circle cx="1049.5" cy="263.4" r="1.6" fill="#f23645"/>
<circle cx="1049.5" cy="284.02" r="1.6" fill="#2962ff"/>
<circle cx="1055.5" cy="263.4" r="1.6" fill="#f23645"/>
<circle cx="1055.5" cy="284.02" r="1.6" fill="#2962ff"/>
<circle cx="1061.5" cy="263.41" r="1.6" fill="#f23645"/>
<circle cx="1061.5" cy="284.02" r="1.6" fill="#2962ff"/>
<circle cx="1067.5" cy="263.41" r="1.6" fill="#f23645"/>
<circle cx="1067.5" cy="284.01" r="1.6" fill="#2962ff"/>
<circle cx="1074.5" cy="263.4" r="1.6" fill="#f23645"/>
<circle cx="1074.5" cy="284.02" r="1.6" fill="#2962ff"/>
<circle cx="1080.5" cy="263.38" r="1.6" fill="#f23645"/>
<circle cx="1080.5" cy="284.04" r="1.6" fill="#2962ff"/>
<circle cx="1086.5" cy="263.37" r="1.6" fill="#f23645"/>
<circle cx="1086.5" cy="284.05" r="1.6" fill="#2962ff"/>
<circle cx="1092.5" cy="263.14" r="1.6" fill="#f23645"/>
<circle cx="1092.5" cy="283.84" r="1.6" fill="#2962ff"/>
<circle cx="1098.5" cy="260.57" r="1.6" fill="#f23645"/>
<circle cx="1098.5" cy="281.3" r="1.6" fill="#2962ff"/>
<circle cx="1105.5" cy="256.89" r="1.6" fill="#f23645"/>
<circle cx="1105.5" cy="277.65" r="1.6" fill="#2962ff"/>
<circle cx="1111.5" cy="251.1" r="1.6" fill="#f23645"/>
<circle cx="1111.5" cy="271.88" r="1.6" fill="#2962ff"/>
<circle cx="1117.5" cy="250.42" r="1.6" fill="#f23645"/>
<circle cx="1117.5" cy="271.23" r="1.6" fill="#2962ff"/>
<circle cx="1123.5" cy="245.74" r="1.6" fill="#f23645"/>
<circle cx="1123.5" cy="266.58" r="1.6" fill="#2962ff"/>
<circle cx="1129.5" cy="217.94" r="1.6" fill="#f23645"/>
<circle cx="1129.5" cy="238.81" r="1.6" fill="#2962ff"/>
<circle cx="1136.5" cy="217.93" r="1.6" fill="#f23645"/>
<circle cx="1136.5" cy="238.82" r="1.6" fill="#2962ff"/>
<circle cx="1142.5" cy="217.92" r="1.6" fill="#f23645"/>
<circle cx="1142.5" cy="238.84" r="1.6" fill="#2962ff"/>
<circle cx="1148.5" cy="217.9" r="1.6" fill="#f23645"/>
<circle cx="1148.5" cy="238.85" r="1.6" fill="#2962ff"/>
<circle cx="1154.5" cy="206.78" r="1.6" fill="#f23645"/>
<circle cx="1154.5" cy="227.75" r="1.6" fill="#2962ff"/>
<circle cx="1161.5" cy="202.54" r="1.6" fill="#f23645"/>
<circle cx="1161.5" cy="223.54" r="1.6" fill="#2962ff"/>
<circle cx="1167.5" cy="202.51" r="1.6" fill="#f23645"/>
<circle cx="1167.5" cy="223.58" r="1.6" fill="#2962ff"/>
<circle cx="1173.5" cy="202.47" r="1.6" fill="#f23645"/>
<circle cx="1173.5" cy="223.62" r="1.6" fill="#2962ff"/>
<circle cx="1179.5" cy="202.44" r="1.6" fill="#f23645"/>
<circle cx="1179.5" cy="223.65" r="1.6" fill="#2962ff"/>
<circle cx="1185.5" cy="202.4" r="1.6" fill="#f23645"/>
<circle cx="1185.5" cy="223.69" r="1.6" fill="#2962ff"/>
<circle cx="1192.5" cy="202.36" r="1.6" fill="#f23645"/>
<circle cx="1192.5" cy="223.73" r="1.6" fill="#2962ff"/>
<circle cx="1198.5" cy="196.55" r="1.6" fill="#f23645"/>
<circle cx="1198.5" cy="217.98" r="1.6" fill="#2962ff"/>
<circle cx="1204.5" cy="195.96" r="1.6" fill="#f23645"/>
<circle cx="1204.5" cy="217.47" r="1.6" fill="#2962ff"/>
<circle cx="1210.5" cy="168.14" r="1.6" fill="#f23645"/>
<circle cx="1210.5" cy="189.72" r="1.6" fill="#2962ff"/>
<circle cx="1216.5" cy="163.44" r="1.6" fill="#f23645"/>
<circle cx="1216.5" cy="185.09" r="1.6" fill="#2962ff"/>
<circle cx="1223.5" cy="163.07" r="1.6" fill="#f23645"/>
<circle cx="1223.5" cy="184.8" r="1.6" fill="#2962ff"/>
<circle cx="1229.5" cy="161.92" r="1.6" fill="#f23645"/>
<circle cx="1229.5" cy="183.72" r="1.6" fill="#2962ff"/>
<path d="M36.5 453.8 L39.5 457.4 L45.9 457.4 Q48.9 457.4 48.9 460.4 L48.9 471.9 Q48.9 474.9 45.9 474.9 L27.1 474.9 Q24.1 474.9 24.1 471.9 L24.1 460.4 Q24.1 457.4 27.1 457.4 L33.5 457.4Z" fill="#2962ff" opacity="1"/>
<text x="36.5" y="470.45" font-size="12" fill="#fff" font-weight="bold" text-anchor="middle" textLength="18.5" lengthAdjust="spacingAndGlyphs">Buy</text>
<path d="M259.5 416.6 L262.5 420.2 L268.9 420.2 Q271.9 420.2 271.9 423.2 L271.9 434.7 Q271.9 437.7 268.9 437.7 L250.1 437.7 Q247.1 437.7 247.1 434.7 L247.1 423.2 Q247.1 420.2 250.1 420.2 L256.5 420.2Z" fill="#2962ff" opacity="1"/>
<text x="259.5" y="433.25" font-size="12" fill="#fff" font-weight="bold" text-anchor="middle" textLength="18.5" lengthAdjust="spacingAndGlyphs">Buy</text>
<path d="M483.5 328.6 L486.5 332.2 L492.9 332.2 Q495.9 332.2 495.9 335.2 L495.9 346.7 Q495.9 349.7 492.9 349.7 L474.1 349.7 Q471.1 349.7 471.1 346.7 L471.1 335.2 Q471.1 332.2 474.1 332.2 L480.5 332.2Z" fill="#2962ff" opacity="1"/>
<text x="483.5" y="345.25" font-size="12" fill="#fff" font-weight="bold" text-anchor="middle" textLength="18.5" lengthAdjust="spacingAndGlyphs">Buy</text>
<path d="M682.5 355.7 L685.5 359.3 L691.9 359.3 Q694.9 359.3 694.9 362.3 L694.9 373.8 Q694.9 376.8 691.9 376.8 L673.1 376.8 Q670.1 376.8 670.1 373.8 L670.1 362.3 Q670.1 359.3 673.1 359.3 L679.5 359.3Z" fill="#2962ff" opacity="1"/>
<text x="682.5" y="372.35" font-size="12" fill="#fff" font-weight="bold" text-anchor="middle" textLength="18.5" lengthAdjust="spacingAndGlyphs">Buy</text>
<path d="M800.5 357.7 L803.5 361.3 L809.9 361.3 Q812.9 361.3 812.9 364.3 L812.9 375.8 Q812.9 378.8 809.9 378.8 L791.1 378.8 Q788.1 378.8 788.1 375.8 L788.1 364.3 Q788.1 361.3 791.1 361.3 L797.5 361.3Z" fill="#2962ff" opacity="1"/>
<text x="800.5" y="374.35" font-size="12" fill="#fff" font-weight="bold" text-anchor="middle" textLength="18.5" lengthAdjust="spacingAndGlyphs">Buy</text>
<path d="M1005.5 307.5 L1008.5 311.1 L1014.9 311.1 Q1017.9 311.1 1017.9 314.1 L1017.9 325.6 Q1017.9 328.6 1014.9 328.6 L996.1 328.6 Q993.1 328.6 993.1 325.6 L993.1 314.1 Q993.1 311.1 996.1 311.1 L1002.5 311.1Z" fill="#2962ff" opacity="1"/>
<text x="1005.5" y="324.15" font-size="12" fill="#fff" font-weight="bold" text-anchor="middle" textLength="18.5" lengthAdjust="spacingAndGlyphs">Buy</text>
<path d="M241.5 410.1 L244.5 406.5 L250.9 406.5 Q253.9 406.5 253.9 403.5 L253.9 392 Q253.9 389 250.9 389 L232.1 389 Q229.1 389 229.1 392 L229.1 403.5 Q229.1 406.5 232.1 406.5 L238.5 406.5Z" fill="#f23645" opacity="1"/>
<text x="241.5" y="402.05" font-size="12" fill="#fff" font-weight="bold" text-anchor="middle" textLength="18.9" lengthAdjust="spacingAndGlyphs">Sell</text>
<path d="M446.5 306.3 L449.5 302.7 L455.9 302.7 Q458.9 302.7 458.9 299.7 L458.9 288.2 Q458.9 285.2 455.9 285.2 L437.1 285.2 Q434.1 285.2 434.1 288.2 L434.1 299.7 Q434.1 302.7 437.1 302.7 L443.5 302.7Z" fill="#f23645" opacity="1"/>
<text x="446.5" y="298.25" font-size="12" fill="#fff" font-weight="bold" text-anchor="middle" textLength="18.9" lengthAdjust="spacingAndGlyphs">Sell</text>
<path d="M576.5 229.5 L579.5 225.9 L585.9 225.9 Q588.9 225.9 588.9 222.9 L588.9 211.4 Q588.9 208.4 585.9 208.4 L567.1 208.4 Q564.1 208.4 564.1 211.4 L564.1 222.9 Q564.1 225.9 567.1 225.9 L573.5 225.9Z" fill="#f23645" opacity="1"/>
<text x="576.5" y="221.45" font-size="12" fill="#fff" font-weight="bold" text-anchor="middle" textLength="18.9" lengthAdjust="spacingAndGlyphs">Sell</text>
<path d="M738.5 318 L741.5 314.4 L747.9 314.4 Q750.9 314.4 750.9 311.4 L750.9 299.9 Q750.9 296.9 747.9 296.9 L729.1 296.9 Q726.1 296.9 726.1 299.9 L726.1 311.4 Q726.1 314.4 729.1 314.4 L735.5 314.4Z" fill="#f23645" opacity="1"/>
<text x="738.5" y="309.95" font-size="12" fill="#fff" font-weight="bold" text-anchor="middle" textLength="18.9" lengthAdjust="spacingAndGlyphs">Sell</text>
<path d="M912.5 287.3 L915.5 283.7 L921.9 283.7 Q924.9 283.7 924.9 280.7 L924.9 269.2 Q924.9 266.2 921.9 266.2 L903.1 266.2 Q900.1 266.2 900.1 269.2 L900.1 280.7 Q900.1 283.7 903.1 283.7 L909.5 283.7Z" fill="#f23645" opacity="1"/>
<text x="912.5" y="279.25" font-size="12" fill="#fff" font-weight="bold" text-anchor="middle" textLength="18.9" lengthAdjust="spacingAndGlyphs">Sell</text>
<path d="M11.5 448.44 L17.5 449.2 L23.5 449.47 L29.5 448.02 L36.5 446.97 L42.5 444.36 L48.5 443.6 L54.5 442.88 L60.5 442.66 L67.5 442.35 L73.5 440.88 L79.5 440.48 L85.5 439.83 L92.5 439.02 L98.5 438.26 L104.5 438.27 L110.5 437.77 L116.5 437.04 L123.5 436.06 L129.5 433.91 L135.5 431.13 L141.5 429.68 L147.5 426.79 L154.5 424.99 L160.5 423.55 L166.5 423.95 L172.5 424.05 L179.5 422.57 L185.5 421.39 L191.5 420.56 L197.5 418.45 L203.5 418.42 L210.5 417.18 L216.5 415.12 L222.5 413.99 L228.5 414.52 L235.5 414.69 L241.5 415.7 L247.5 415.34 L253.5 414.27 L259.5 412.04 L266.5 410.74 L272.5 409.22 L278.5 408.48 L284.5 408.08 L290.5 407.57 L297.5 407.06 L303.5 405.09 L309.5 402.07 L315.5 398.81 L322.5 395.83 L328.5 393.29 L334.5 392.36 L340.5 389.71 L346.5 387.15 L353.5 385.45 L359.5 383.36 L365.5 379.47 L371.5 369.84 L377.5 365.03 L384.5 357.07 L390.5 350.81 L396.5 345.62 L402.5 340.14 L409.5 332.92 L415.5 324.27 L421.5 320.79 L427.5 318.28 L433.5 318.89 L440.5 317.11 L446.5 319.4 L452.5 321.68 L458.5 324.32 L464.5 325.54 L471.5 328.15 L477.5 327.09 L483.5 325.39 L489.5 323.35 L496.5 322.73 L502.5 322.09 L508.5 321.01 L514.5 318.07 L520.5 311.5 L527.5 301.54 L533.5 291.67 L539.5 280 L545.5 265.45 L551.5 256.47 L558.5 255.91 L564.5 252.73 L570.5 249.89 L576.5 256.14 L583.5 262.18 L589.5 271.45 L595.5 285.38 L601.5 293.35 L607.5 300.61 L614.5 304.98 L620.5 314.14 L626.5 321.47 L632.5 325.62 L638.5 331.43 L645.5 336.85 L651.5 339.64 L657.5 339.11 L663.5 339.67 L670.5 340.33 L676.5 341.42 L682.5 337.89 L688.5 334.4 L694.5 333.79 L701.5 333.65 L707.5 333.63 L713.5 332.06 L719.5 333.03 L725.5 333.24 L732.5 333.93 L738.5 335.08 L744.5 337.99 L750.5 341.88 L757.5 344.62 L763.5 342.43 L769.5 341.68 L775.5 341.19 L781.5 340.79 L788.5 341.88 L794.5 342.33 L800.5 341.93 L806.5 342.5 L812.5 342.84 L819.5 342.34 L825.5 341.65 L831.5 341.45 L837.5 340.74 L844.5 339.44 L850.5 339.84 L856.5 339.05 L862.5 337.19 L868.5 330.78 L875.5 321.64 L881.5 315.27 L887.5 309.24 L893.5 307.3 L900.5 307.02 L906.5 306.79 L912.5 307.28 L918.5 305 L924.5 303.18 L931.5 302.61 L937.5 300.93 L943.5 300.75 L949.5 302.22 L955.5 301.84 L962.5 300.43 L968.5 299.19 L974.5 299.19 L980.5 299.87 L987.5 298.74 L993.5 298.06 L999.5 297.4 L1005.5 293.54 L1011.5 289.57 L1018.5 284.28 L1024.5 281.6 L1030.5 278.75 L1036.5 278.29 L1042.5 278.16 L1049.5 277.6 L1055.5 277.77 L1061.5 276.72 L1067.5 277.38 L1074.5 277.59 L1080.5 277.1 L1086.5 276.63 L1092.5 275.22 L1098.5 272.57 L1105.5 270.17 L1111.5 268.25 L1117.5 262.6 L1123.5 254.63 L1129.5 245.53 L1136.5 241.87 L1142.5 236.94 L1148.5 231.82 L1154.5 226.08 L1161.5 222.82 L1167.5 219.25 L1173.5 220.51 L1179.5 220.63 L1185.5 218.91 L1192.5 215.9 L1198.5 213.34 L1204.5 205.23 L1210.5 197.96 L1216.5 192.7 L1223.5 185.43 L1229.5 175.68" stroke="#ff6d00" stroke-width="1" fill="none" stroke-linejoin="round"/>
<path d="M11.5 448.59 L17.5 448.86 L23.5 448.99 L29.5 448.48 L36.5 448.06 L42.5 447.01 L48.5 446.53 L54.5 446.05 L60.5 445.73 L67.5 445.39 L73.5 444.62 L79.5 444.2 L85.5 443.68 L92.5 443.09 L98.5 442.51 L104.5 442.2 L110.5 441.73 L116.5 441.16 L123.5 440.49 L129.5 439.37 L135.5 437.93 L141.5 436.89 L147.5 435.29 L154.5 433.99 L160.5 432.79 L166.5 432.25 L172.5 431.68 L179.5 430.56 L185.5 429.53 L191.5 428.62 L197.5 427.24 L203.5 426.58 L210.5 425.52 L216.5 424.14 L222.5 423.05 L228.5 422.58 L235.5 422.04 L241.5 421.87 L247.5 421.28 L253.5 420.45 L259.5 419.16 L266.5 418.15 L272.5 417.04 L278.5 416.19 L284.5 415.47 L290.5 414.73 L297.5 414.01 L303.5 412.77 L309.5 411.08 L315.5 409.21 L322.5 407.33 L328.5 405.54 L334.5 404.29 L340.5 402.42 L346.5 400.53 L353.5 398.91 L359.5 397.14 L365.5 394.68 L371.5 389.99 L377.5 386.71 L384.5 382.16 L390.5 377.98 L396.5 374.05 L402.5 369.91 L409.5 365.03 L415.5 359.45 L421.5 355.55 L427.5 352.05 L433.5 349.77 L440.5 346.83 L446.5 345.47 L452.5 344.38 L458.5 343.68 L464.5 342.7 L471.5 342.39 L477.5 340.95 L483.5 339.29 L489.5 337.51 L496.5 336.23 L502.5 334.99 L508.5 333.63 L514.5 331.61 L520.5 328.18 L527.5 323.25 L533.5 317.99 L539.5 311.72 L545.5 303.98 L551.5 297.8 L558.5 294.53 L564.5 290.49 L570.5 286.64 L576.5 286.23 L583.5 286.24 L589.5 287.89 L595.5 291.84 L601.5 294.31 L607.5 296.93 L614.5 298.82 L620.5 302.67 L626.5 306.23 L632.5 308.9 L638.5 312.29 L645.5 315.71 L651.5 318.31 L657.5 319.7 L663.5 321.34 L670.5 322.94 L676.5 324.64 L682.5 324.57 L688.5 324.27 L694.5 324.79 L701.5 325.41 L707.5 326.01 L713.5 325.99 L719.5 326.8 L725.5 327.34 L732.5 328.03 L738.5 328.89 L744.5 330.43 L750.5 332.43 L757.5 334.15 L763.5 334.11 L769.5 334.45 L775.5 334.8 L781.5 335.13 L788.5 335.95 L794.5 336.56 L800.5 336.84 L806.5 337.42 L812.5 337.93 L819.5 338.11 L825.5 338.16 L831.5 338.35 L837.5 338.31 L844.5 338.01 L850.5 338.27 L856.5 338.09 L862.5 337.47 L868.5 335.08 L875.5 331.38 L881.5 328.29 L887.5 325.1 L893.5 323.2 L900.5 321.92 L906.5 320.73 L912.5 319.88 L918.5 318.1 L924.5 316.46 L931.5 315.26 L937.5 313.71 L943.5 312.69 L949.5 312.35 L955.5 311.46 L962.5 310.22 L968.5 309.04 L974.5 308.31 L980.5 307.89 L987.5 306.87 L993.5 306.02 L999.5 305.19 L1005.5 303.18 L1011.5 300.99 L1018.5 298.19 L1024.5 296.17 L1030.5 294.03 L1036.5 292.73 L1042.5 291.61 L1049.5 290.41 L1055.5 289.52 L1061.5 288.26 L1067.5 287.65 L1074.5 286.97 L1080.5 286.09 L1086.5 285.25 L1092.5 284.09 L1098.5 282.45 L1105.5 280.83 L1111.5 279.33 L1117.5 276.42 L1123.5 272.44 L1129.5 267.75 L1136.5 264.75 L1142.5 261.23 L1148.5 257.53 L1154.5 253.5 L1161.5 250.26 L1167.5 246.91 L1173.5 245.33 L1179.5 243.53 L1185.5 241.2 L1192.5 238.44 L1198.5 235.82 L1204.5 231.15 L1210.5 226.54 L1216.5 222.47 L1223.5 217.57 L1229.5 211.58" stroke="#43a047" stroke-width="1" fill="none" stroke-linejoin="round"/>
<rect x="18" y="445.9" width="11" height="4.4" fill="#2196f3"/>
<rect x="21.3" y="442.6" width="4.4" height="11" fill="#2196f3"/>
<rect x="24" y="446.3" width="11" height="4.4" fill="#2196f3"/>
<rect x="27.3" y="443" width="4.4" height="11" fill="#2196f3"/>
<rect x="602" y="297.8" width="11" height="4.4" fill="#2196f3"/>
<rect x="605.3" y="294.5" width="4.4" height="11" fill="#2196f3"/>
<rect x="857" y="334.5" width="11" height="4.4" fill="#2196f3"/>
<rect x="860.3" y="331.2" width="4.4" height="11" fill="#2196f3"/>
</g>
<g shape-rendering="crispEdges">
<rect x="10" y="479" width="4" height="18" fill="rgba(242,54,69,0.42)"/>
<rect x="15" y="485" width="5" height="12" fill="rgba(242,54,69,0.42)"/>
<rect x="21" y="487" width="5" height="10" fill="rgba(8,153,129,0.45)"/>
<rect x="27" y="471" width="5" height="26" fill="rgba(8,153,129,0.45)"/>
<rect x="34" y="469" width="5" height="28" fill="rgba(242,54,69,0.42)"/>
<rect x="40" y="437" width="5" height="60" fill="rgba(8,153,129,0.45)"/>
<rect x="46" y="459" width="5" height="38" fill="rgba(242,54,69,0.42)"/>
<rect x="52" y="469" width="5" height="28" fill="rgba(8,153,129,0.45)"/>
<rect x="58" y="481" width="5" height="16" fill="rgba(8,153,129,0.45)"/>
<rect x="65" y="473" width="5" height="24" fill="rgba(242,54,69,0.42)"/>
<rect x="71" y="477" width="5" height="20" fill="rgba(8,153,129,0.45)"/>
<rect x="77" y="487" width="5" height="10" fill="rgba(242,54,69,0.42)"/>
<rect x="83" y="474" width="5" height="23" fill="rgba(8,153,129,0.45)"/>
<rect x="90" y="472" width="5" height="25" fill="rgba(242,54,69,0.42)"/>
<rect x="96" y="482" width="5" height="15" fill="rgba(8,153,129,0.45)"/>
<rect x="102" y="463" width="5" height="34" fill="rgba(242,54,69,0.42)"/>
<rect x="108" y="452" width="5" height="45" fill="rgba(8,153,129,0.45)"/>
<rect x="114" y="468" width="5" height="29" fill="rgba(8,153,129,0.45)"/>
<rect x="121" y="451" width="5" height="46" fill="rgba(8,153,129,0.45)"/>
<rect x="127" y="438" width="5" height="59" fill="rgba(8,153,129,0.45)"/>
<rect x="133" y="440" width="5" height="57" fill="rgba(8,153,129,0.45)"/>
<rect x="139" y="454" width="5" height="43" fill="rgba(242,54,69,0.42)"/>
<rect x="145" y="475" width="5" height="22" fill="rgba(8,153,129,0.45)"/>
<rect x="152" y="463" width="5" height="34" fill="rgba(242,54,69,0.42)"/>
<rect x="158" y="481" width="5" height="16" fill="rgba(242,54,69,0.42)"/>
<rect x="164" y="465" width="5" height="32" fill="rgba(242,54,69,0.42)"/>
<rect x="170" y="462" width="5" height="35" fill="rgba(8,153,129,0.45)"/>
<rect x="177" y="479" width="5" height="18" fill="rgba(8,153,129,0.45)"/>
<rect x="183" y="473" width="5" height="24" fill="rgba(242,54,69,0.42)"/>
<rect x="189" y="479" width="5" height="18" fill="rgba(8,153,129,0.45)"/>
<rect x="195" y="459" width="5" height="38" fill="rgba(8,153,129,0.45)"/>
<rect x="201" y="445" width="5" height="52" fill="rgba(242,54,69,0.42)"/>
<rect x="208" y="462" width="5" height="35" fill="rgba(8,153,129,0.45)"/>
<rect x="214" y="475" width="5" height="22" fill="rgba(8,153,129,0.45)"/>
<rect x="220" y="450" width="5" height="47" fill="rgba(242,54,69,0.42)"/>
<rect x="226" y="464" width="5" height="33" fill="rgba(242,54,69,0.42)"/>
<rect x="233" y="483" width="5" height="14" fill="rgba(242,54,69,0.42)"/>
<rect x="239" y="485" width="5" height="12" fill="rgba(242,54,69,0.42)"/>
<rect x="245" y="472" width="5" height="25" fill="rgba(8,153,129,0.45)"/>
<rect x="251" y="461" width="5" height="36" fill="rgba(8,153,129,0.45)"/>
<rect x="257" y="473" width="5" height="24" fill="rgba(8,153,129,0.45)"/>
<rect x="264" y="482" width="5" height="15" fill="rgba(242,54,69,0.42)"/>
<rect x="270" y="487" width="5" height="10" fill="rgba(8,153,129,0.45)"/>
<rect x="276" y="485" width="5" height="12" fill="rgba(242,54,69,0.42)"/>
<rect x="282" y="470" width="5" height="27" fill="rgba(8,153,129,0.45)"/>
<rect x="288" y="445" width="5" height="52" fill="rgba(242,54,69,0.42)"/>
<rect x="295" y="481" width="5" height="16" fill="rgba(242,54,69,0.42)"/>
<rect x="301" y="472" width="5" height="25" fill="rgba(8,153,129,0.45)"/>
<rect x="307" y="460" width="5" height="37" fill="rgba(8,153,129,0.45)"/>
<rect x="313" y="461" width="5" height="36" fill="rgba(8,153,129,0.45)"/>
<rect x="320" y="472" width="5" height="25" fill="rgba(8,153,129,0.45)"/>
<rect x="326" y="481" width="5" height="16" fill="rgba(8,153,129,0.45)"/>
<rect x="332" y="474" width="5" height="23" fill="rgba(242,54,69,0.42)"/>
<rect x="338" y="464" width="5" height="33" fill="rgba(8,153,129,0.45)"/>
<rect x="344" y="462" width="5" height="35" fill="rgba(8,153,129,0.45)"/>
<rect x="351" y="475" width="5" height="22" fill="rgba(242,54,69,0.42)"/>
<rect x="357" y="478" width="5" height="19" fill="rgba(8,153,129,0.45)"/>
<rect x="363" y="420" width="5" height="77" fill="rgba(8,153,129,0.45)"/>
<rect x="369" y="428" width="5" height="69" fill="rgba(8,153,129,0.45)"/>
<rect x="375" y="420" width="5" height="77" fill="rgba(242,54,69,0.42)"/>
<rect x="382" y="443" width="5" height="54" fill="rgba(8,153,129,0.45)"/>
<rect x="388" y="459" width="5" height="38" fill="rgba(8,153,129,0.45)"/>
<rect x="394" y="450" width="5" height="47" fill="rgba(8,153,129,0.45)"/>
<rect x="400" y="443" width="5" height="54" fill="rgba(8,153,129,0.45)"/>
<rect x="407" y="435" width="5" height="62" fill="rgba(242,54,69,0.42)"/>
<rect x="413" y="459" width="5" height="38" fill="rgba(242,54,69,0.42)"/>
<rect x="419" y="454" width="5" height="43" fill="rgba(242,54,69,0.42)"/>
<rect x="425" y="462" width="5" height="35" fill="rgba(242,54,69,0.42)"/>
<rect x="431" y="470" width="5" height="27" fill="rgba(242,54,69,0.42)"/>
<rect x="438" y="473" width="5" height="24" fill="rgba(8,153,129,0.45)"/>
<rect x="444" y="437" width="5" height="60" fill="rgba(242,54,69,0.42)"/>
<rect x="450" y="455" width="5" height="42" fill="rgba(242,54,69,0.42)"/>
<rect x="456" y="454" width="5" height="43" fill="rgba(8,153,129,0.45)"/>
<rect x="462" y="466" width="5" height="31" fill="rgba(8,153,129,0.45)"/>
<rect x="469" y="479" width="5" height="18" fill="rgba(242,54,69,0.42)"/>
<rect x="475" y="413" width="5" height="84" fill="rgba(242,54,69,0.42)"/>
<rect x="481" y="448" width="5" height="49" fill="rgba(242,54,69,0.42)"/>
<rect x="487" y="473" width="5" height="24" fill="rgba(242,54,69,0.42)"/>
<rect x="494" y="464" width="5" height="33" fill="rgba(242,54,69,0.42)"/>
<rect x="500" y="465" width="5" height="32" fill="rgba(242,54,69,0.42)"/>
<rect x="506" y="464" width="5" height="33" fill="rgba(242,54,69,0.42)"/>
<rect x="512" y="468" width="5" height="29" fill="rgba(8,153,129,0.45)"/>
<rect x="518" y="440" width="5" height="57" fill="rgba(8,153,129,0.45)"/>
<rect x="525" y="452" width="5" height="45" fill="rgba(242,54,69,0.42)"/>
<rect x="531" y="457" width="5" height="40" fill="rgba(8,153,129,0.45)"/>
<rect x="537" y="457" width="5" height="40" fill="rgba(8,153,129,0.45)"/>
<rect x="543" y="451" width="5" height="46" fill="rgba(8,153,129,0.45)"/>
<rect x="549" y="417" width="5" height="80" fill="rgba(242,54,69,0.42)"/>
<rect x="556" y="450" width="5" height="47" fill="rgba(242,54,69,0.42)"/>
<rect x="562" y="438" width="5" height="59" fill="rgba(8,153,129,0.45)"/>
<rect x="568" y="458" width="5" height="39" fill="rgba(242,54,69,0.42)"/>
<rect x="574" y="436" width="5" height="61" fill="rgba(8,153,129,0.45)"/>
<rect x="581" y="432" width="5" height="65" fill="rgba(242,54,69,0.42)"/>
<rect x="587" y="455" width="5" height="42" fill="rgba(242,54,69,0.42)"/>
<rect x="593" y="478" width="5" height="19" fill="rgba(8,153,129,0.45)"/>
<rect x="599" y="446" width="5" height="51" fill="rgba(8,153,129,0.45)"/>
<rect x="605" y="440" width="5" height="57" fill="rgba(242,54,69,0.42)"/>
<rect x="612" y="462" width="5" height="35" fill="rgba(242,54,69,0.42)"/>
<rect x="618" y="457" width="5" height="40" fill="rgba(242,54,69,0.42)"/>
<rect x="624" y="436" width="5" height="61" fill="rgba(8,153,129,0.45)"/>
<rect x="630" y="475" width="5" height="22" fill="rgba(242,54,69,0.42)"/>
<rect x="636" y="467" width="5" height="30" fill="rgba(242,54,69,0.42)"/>
<rect x="643" y="481" width="5" height="16" fill="rgba(242,54,69,0.42)"/>
<rect x="649" y="460" width="5" height="37" fill="rgba(8,153,129,0.45)"/>
<rect x="655" y="476" width="5" height="21" fill="rgba(242,54,69,0.42)"/>
<rect x="661" y="486" width="5" height="11" fill="rgba(242,54,69,0.42)"/>
<rect x="668" y="478" width="5" height="19" fill="rgba(8,153,129,0.45)"/>
<rect x="674" y="476" width="5" height="21" fill="rgba(242,54,69,0.42)"/>
<rect x="680" y="461" width="5" height="36" fill="rgba(242,54,69,0.42)"/>
<rect x="686" y="468" width="5" height="29" fill="rgba(242,54,69,0.42)"/>
<rect x="692" y="466" width="5" height="31" fill="rgba(242,54,69,0.42)"/>
<rect x="699" y="481" width="5" height="16" fill="rgba(242,54,69,0.42)"/>
<rect x="705" y="482" width="5" height="15" fill="rgba(8,153,129,0.45)"/>
<rect x="711" y="484" width="5" height="13" fill="rgba(8,153,129,0.45)"/>
<rect x="717" y="434" width="5" height="63" fill="rgba(242,54,69,0.42)"/>
<rect x="723" y="487" width="5" height="10" fill="rgba(8,153,129,0.45)"/>
<rect x="730" y="487" width="5" height="10" fill="rgba(242,54,69,0.42)"/>
<rect x="736" y="480" width="5" height="17" fill="rgba(242,54,69,0.42)"/>
<rect x="742" y="484" width="5" height="13" fill="rgba(242,54,69,0.42)"/>
<rect x="748" y="479" width="5" height="18" fill="rgba(242,54,69,0.42)"/>
<rect x="755" y="439" width="5" height="58" fill="rgba(242,54,69,0.42)"/>
<rect x="761" y="448" width="5" height="49" fill="rgba(8,153,129,0.45)"/>
<rect x="767" y="481" width="5" height="16" fill="rgba(242,54,69,0.42)"/>
<rect x="773" y="485" width="5" height="12" fill="rgba(242,54,69,0.42)"/>
<rect x="779" y="488" width="5" height="9" fill="rgba(8,153,129,0.45)"/>
<rect x="786" y="469" width="5" height="28" fill="rgba(242,54,69,0.42)"/>
<rect x="792" y="492" width="5" height="5" fill="rgba(242,54,69,0.42)"/>
<rect x="798" y="493" width="5" height="4" fill="rgba(8,153,129,0.45)"/>
<rect x="804" y="485" width="5" height="12" fill="rgba(242,54,69,0.42)"/>
<rect x="810" y="490" width="5" height="7" fill="rgba(8,153,129,0.45)"/>
<rect x="817" y="463" width="5" height="34" fill="rgba(8,153,129,0.45)"/>
<rect x="823" y="488" width="5" height="9" fill="rgba(8,153,129,0.45)"/>
<rect x="829" y="485" width="5" height="12" fill="rgba(242,54,69,0.42)"/>
<rect x="835" y="483" width="5" height="14" fill="rgba(8,153,129,0.45)"/>
<rect x="842" y="471" width="5" height="26" fill="rgba(8,153,129,0.45)"/>
<rect x="848" y="488" width="5" height="9" fill="rgba(242,54,69,0.42)"/>
<rect x="854" y="489" width="5" height="8" fill="rgba(8,153,129,0.45)"/>
<rect x="860" y="477" width="5" height="20" fill="rgba(242,54,69,0.42)"/>
<rect x="866" y="438" width="5" height="59" fill="rgba(8,153,129,0.45)"/>
<rect x="873" y="456" width="5" height="41" fill="rgba(8,153,129,0.45)"/>
<rect x="879" y="457" width="5" height="40" fill="rgba(242,54,69,0.42)"/>
<rect x="885" y="431" width="5" height="66" fill="rgba(8,153,129,0.45)"/>
<rect x="891" y="423" width="5" height="74" fill="rgba(242,54,69,0.42)"/>
<rect x="898" y="461" width="5" height="36" fill="rgba(242,54,69,0.42)"/>
<rect x="904" y="467" width="5" height="30" fill="rgba(242,54,69,0.42)"/>
<rect x="910" y="470" width="5" height="27" fill="rgba(242,54,69,0.42)"/>
<rect x="916" y="454" width="5" height="43" fill="rgba(8,153,129,0.45)"/>
<rect x="922" y="464" width="5" height="33" fill="rgba(242,54,69,0.42)"/>
<rect x="929" y="425" width="5" height="72" fill="rgba(242,54,69,0.42)"/>
<rect x="935" y="438" width="5" height="59" fill="rgba(8,153,129,0.45)"/>
<rect x="941" y="476" width="5" height="21" fill="rgba(242,54,69,0.42)"/>
<rect x="947" y="443" width="5" height="54" fill="rgba(242,54,69,0.42)"/>
<rect x="953" y="480" width="5" height="17" fill="rgba(8,153,129,0.45)"/>
<rect x="960" y="487" width="5" height="10" fill="rgba(242,54,69,0.42)"/>
<rect x="966" y="483" width="5" height="14" fill="rgba(242,54,69,0.42)"/>
<rect x="972" y="471" width="5" height="26" fill="rgba(242,54,69,0.42)"/>
<rect x="978" y="481" width="5" height="16" fill="rgba(242,54,69,0.42)"/>
<rect x="985" y="473" width="5" height="24" fill="rgba(8,153,129,0.45)"/>
<rect x="991" y="485" width="5" height="12" fill="rgba(242,54,69,0.42)"/>
<rect x="997" y="474" width="5" height="23" fill="rgba(242,54,69,0.42)"/>
<rect x="1003" y="418" width="5" height="79" fill="rgba(8,153,129,0.45)"/>
<rect x="1009" y="435" width="5" height="62" fill="rgba(242,54,69,0.42)"/>
<rect x="1016" y="469" width="5" height="28" fill="rgba(8,153,129,0.45)"/>
<rect x="1022" y="422" width="5" height="75" fill="rgba(242,54,69,0.42)"/>
<rect x="1028" y="480" width="5" height="17" fill="rgba(8,153,129,0.45)"/>
<rect x="1034" y="479" width="5" height="18" fill="rgba(242,54,69,0.42)"/>
<rect x="1040" y="467" width="5" height="30" fill="rgba(242,54,69,0.42)"/>
<rect x="1047" y="469" width="5" height="28" fill="rgba(242,54,69,0.42)"/>
<rect x="1053" y="487" width="5" height="10" fill="rgba(242,54,69,0.42)"/>
<rect x="1059" y="473" width="5" height="24" fill="rgba(8,153,129,0.45)"/>
<rect x="1065" y="483" width="5" height="14" fill="rgba(8,153,129,0.45)"/>
<rect x="1072" y="477" width="5" height="20" fill="rgba(242,54,69,0.42)"/>
<rect x="1078" y="484" width="5" height="13" fill="rgba(8,153,129,0.45)"/>
<rect x="1084" y="486" width="5" height="11" fill="rgba(242,54,69,0.42)"/>
<rect x="1090" y="473" width="5" height="24" fill="rgba(8,153,129,0.45)"/>
<rect x="1096" y="461" width="5" height="36" fill="rgba(8,153,129,0.45)"/>
<rect x="1103" y="455" width="5" height="42" fill="rgba(242,54,69,0.42)"/>
<rect x="1109" y="472" width="5" height="25" fill="rgba(242,54,69,0.42)"/>
<rect x="1115" y="447" width="5" height="50" fill="rgba(8,153,129,0.45)"/>
<rect x="1121" y="435" width="5" height="62" fill="rgba(242,54,69,0.42)"/>
<rect x="1127" y="447" width="5" height="50" fill="rgba(8,153,129,0.45)"/>
<rect x="1134" y="430" width="5" height="67" fill="rgba(242,54,69,0.42)"/>
<rect x="1140" y="466" width="5" height="31" fill="rgba(8,153,129,0.45)"/>
<rect x="1146" y="465" width="5" height="32" fill="rgba(8,153,129,0.45)"/>
<rect x="1152" y="462" width="5" height="35" fill="rgba(8,153,129,0.45)"/>
<rect x="1159" y="449" width="5" height="48" fill="rgba(242,54,69,0.42)"/>
<rect x="1165" y="465" width="5" height="32" fill="rgba(8,153,129,0.45)"/>
<rect x="1171" y="469" width="5" height="28" fill="rgba(242,54,69,0.42)"/>
<rect x="1177" y="473" width="5" height="24" fill="rgba(8,153,129,0.45)"/>
<rect x="1183" y="454" width="5" height="43" fill="rgba(8,153,129,0.45)"/>
<rect x="1190" y="438" width="5" height="59" fill="rgba(8,153,129,0.45)"/>
<rect x="1196" y="470" width="5" height="27" fill="rgba(8,153,129,0.45)"/>
<rect x="1202" y="430" width="5" height="67" fill="rgba(242,54,69,0.42)"/>
<rect x="1208" y="443" width="5" height="54" fill="rgba(242,54,69,0.42)"/>
<rect x="1214" y="446" width="5" height="51" fill="rgba(242,54,69,0.42)"/>
<rect x="1221" y="397" width="5" height="100" fill="rgba(8,153,129,0.45)"/>
<rect x="1227" y="375" width="5" height="122" fill="rgba(8,153,129,0.45)"/>
</g>
<g shape-rendering="crispEdges">
<rect x="11" y="449" width="1" height="4" fill="#f23645"/>
<rect x="10" y="449" width="4" height="3" fill="#f23645"/>
<rect x="17" y="449" width="1" height="4" fill="#f23645"/>
<rect x="15" y="449" width="5" height="3" fill="#f23645"/>
<rect x="23" y="450" width="1" height="2" fill="#089981"/>
<rect x="21" y="451" width="5" height="1" fill="#089981"/>
<rect x="29" y="442" width="1" height="9" fill="#089981"/>
<rect x="27" y="442" width="5" height="8" fill="#089981"/>
<rect x="36" y="438" width="1" height="5" fill="#f23645"/>
<rect x="34" y="439" width="5" height="4" fill="#f23645"/>
<rect x="42" y="433" width="1" height="4" fill="#089981"/>
<rect x="40" y="434" width="5" height="3" fill="#089981"/>
<rect x="48" y="434" width="1" height="7" fill="#f23645"/>
<rect x="46" y="434" width="5" height="7" fill="#f23645"/>
<rect x="54" y="439" width="1" height="7" fill="#089981"/>
<rect x="52" y="440" width="5" height="3" fill="#089981"/>
<rect x="60" y="441" width="1" height="3" fill="#089981"/>
<rect x="58" y="442" width="5" height="1" fill="#089981"/>
<rect x="67" y="439" width="1" height="3" fill="#f23645"/>
<rect x="65" y="440" width="5" height="1" fill="#f23645"/>
<rect x="73" y="435" width="1" height="1" fill="#089981"/>
<rect x="71" y="435" width="5" height="1" fill="#089981"/>
<rect x="79" y="434" width="1" height="5" fill="#f23645"/>
<rect x="77" y="436" width="5" height="3" fill="#f23645"/>
<rect x="85" y="435" width="1" height="5" fill="#089981"/>
<rect x="83" y="437" width="5" height="2" fill="#089981"/>
<rect x="92" y="434" width="1" height="2" fill="#f23645"/>
<rect x="90" y="434" width="5" height="2" fill="#f23645"/>
<rect x="98" y="435" width="1" height="1" fill="#089981"/>
<rect x="96" y="435" width="5" height="1" fill="#089981"/>
<rect x="104" y="437" width="1" height="3" fill="#f23645"/>
<rect x="102" y="437" width="5" height="1" fill="#f23645"/>
<rect x="110" y="435" width="1" height="3" fill="#089981"/>
<rect x="108" y="436" width="5" height="1" fill="#089981"/>
<rect x="116" y="434" width="1" height="2" fill="#089981"/>
<rect x="114" y="434" width="5" height="1" fill="#089981"/>
<rect x="123" y="432" width="1" height="1" fill="#089981"/>
<rect x="121" y="432" width="5" height="1" fill="#089981"/>
<rect x="129" y="425" width="1" height="7" fill="#089981"/>
<rect x="127" y="425" width="5" height="6" fill="#089981"/>
<rect x="135" y="420" width="1" height="6" fill="#089981"/>
<rect x="133" y="420" width="5" height="6" fill="#089981"/>
<rect x="141" y="418" width="1" height="6" fill="#f23645"/>
<rect x="139" y="418" width="5" height="6" fill="#f23645"/>
<rect x="147" y="415" width="1" height="8" fill="#089981"/>
<rect x="145" y="415" width="5" height="8" fill="#089981"/>
<rect x="154" y="410" width="1" height="8" fill="#f23645"/>
<rect x="152" y="413" width="5" height="5" fill="#f23645"/>
<rect x="160" y="413" width="1" height="5" fill="#f23645"/>
<rect x="158" y="415" width="5" height="3" fill="#f23645"/>
<rect x="166" y="419" width="1" height="7" fill="#f23645"/>
<rect x="164" y="419" width="5" height="7" fill="#f23645"/>
<rect x="172" y="424" width="1" height="5" fill="#089981"/>
<rect x="170" y="424" width="5" height="2" fill="#089981"/>
<rect x="179" y="415" width="1" height="8" fill="#089981"/>
<rect x="177" y="417" width="5" height="6" fill="#089981"/>
<rect x="185" y="414" width="1" height="3" fill="#f23645"/>
<rect x="183" y="414" width="5" height="3" fill="#f23645"/>
<rect x="191" y="416" width="1" height="4" fill="#089981"/>
<rect x="189" y="417" width="5" height="2" fill="#089981"/>
<rect x="197" y="406" width="1" height="8" fill="#089981"/>
<rect x="195" y="410" width="5" height="4" fill="#089981"/>
<rect x="203" y="405" width="1" height="14" fill="#f23645"/>
<rect x="201" y="407" width="5" height="11" fill="#f23645"/>
<rect x="210" y="411" width="1" height="9" fill="#089981"/>
<rect x="208" y="412" width="5" height="7" fill="#089981"/>
<rect x="216" y="403" width="1" height="9" fill="#089981"/>
<rect x="214" y="407" width="5" height="5" fill="#089981"/>
<rect x="222" y="407" width="1" height="5" fill="#f23645"/>
<rect x="220" y="408" width="5" height="1" fill="#f23645"/>
<rect x="228" y="412" width="1" height="5" fill="#f23645"/>
<rect x="226" y="412" width="5" height="5" fill="#f23645"/>
<rect x="235" y="413" width="1" height="3" fill="#f23645"/>
<rect x="233" y="414" width="5" height="1" fill="#f23645"/>
<rect x="241" y="415" width="1" height="5" fill="#f23645"/>
<rect x="239" y="416" width="5" height="4" fill="#f23645"/>
<rect x="247" y="413" width="1" height="5" fill="#089981"/>
<rect x="245" y="414" width="5" height="3" fill="#089981"/>
<rect x="253" y="409" width="1" height="4" fill="#089981"/>
<rect x="251" y="410" width="5" height="3" fill="#089981"/>
<rect x="259" y="402" width="1" height="5" fill="#089981"/>
<rect x="257" y="403" width="5" height="4" fill="#089981"/>
<rect x="266" y="403" width="1" height="4" fill="#f23645"/>
<rect x="264" y="403" width="5" height="3" fill="#f23645"/>
<rect x="272" y="401" width="1" height="5" fill="#089981"/>
<rect x="270" y="403" width="5" height="3" fill="#089981"/>
<rect x="278" y="402" width="1" height="4" fill="#f23645"/>
<rect x="276" y="403" width="5" height="3" fill="#f23645"/>
<rect x="284" y="406" width="1" height="3" fill="#089981"/>
<rect x="282" y="406" width="5" height="3" fill="#089981"/>
<rect x="290" y="404" width="1" height="2" fill="#f23645"/>
<rect x="288" y="404" width="5" height="2" fill="#f23645"/>
<rect x="297" y="403" width="1" height="2" fill="#f23645"/>
<rect x="295" y="404" width="5" height="1" fill="#f23645"/>
<rect x="303" y="397" width="1" height="5" fill="#089981"/>
<rect x="301" y="397" width="5" height="5" fill="#089981"/>
<rect x="309" y="389" width="1" height="6" fill="#089981"/>
<rect x="307" y="390" width="5" height="5" fill="#089981"/>
<rect x="315" y="384" width="1" height="3" fill="#089981"/>
<rect x="313" y="386" width="5" height="1" fill="#089981"/>
<rect x="322" y="383" width="1" height="3" fill="#089981"/>
<rect x="320" y="384" width="5" height="1" fill="#089981"/>
<rect x="328" y="383" width="1" height="4" fill="#089981"/>
<rect x="326" y="383" width="5" height="4" fill="#089981"/>
<rect x="334" y="384" width="1" height="5" fill="#f23645"/>
<rect x="332" y="384" width="5" height="5" fill="#f23645"/>
<rect x="340" y="379" width="1" height="3" fill="#089981"/>
<rect x="338" y="379" width="5" height="3" fill="#089981"/>
<rect x="346" y="376" width="1" height="5" fill="#089981"/>
<rect x="344" y="377" width="5" height="4" fill="#089981"/>
<rect x="353" y="375" width="1" height="4" fill="#f23645"/>
<rect x="351" y="376" width="5" height="3" fill="#f23645"/>
<rect x="359" y="375" width="1" height="1" fill="#089981"/>
<rect x="357" y="375" width="5" height="1" fill="#089981"/>
<rect x="365" y="363" width="1" height="8" fill="#089981"/>
<rect x="363" y="364" width="5" height="6" fill="#089981"/>
<rect x="371" y="331" width="1" height="4" fill="#089981"/>
<rect x="369" y="331" width="5" height="1" fill="#089981"/>
<rect x="377" y="318" width="1" height="29" fill="#f23645"/>
<rect x="375" y="318" width="5" height="28" fill="#f23645"/>
<rect x="384" y="324" width="1" height="12" fill="#089981"/>
<rect x="382" y="325" width="5" height="11" fill="#089981"/>
<rect x="390" y="325" width="1" height="8" fill="#089981"/>
<rect x="388" y="326" width="5" height="2" fill="#089981"/>
<rect x="396" y="323" width="1" height="4" fill="#089981"/>
<rect x="394" y="325" width="5" height="1" fill="#089981"/>
<rect x="402" y="313" width="1" height="12" fill="#089981"/>
<rect x="400" y="318" width="5" height="7" fill="#089981"/>
<rect x="409" y="300" width="1" height="11" fill="#f23645"/>
<rect x="407" y="303" width="5" height="1" fill="#f23645"/>
<rect x="415" y="275" width="1" height="19" fill="#f23645"/>
<rect x="413" y="276" width="5" height="14" fill="#f23645"/>
<rect x="421" y="295" width="1" height="17" fill="#f23645"/>
<rect x="419" y="299" width="5" height="8" fill="#f23645"/>
<rect x="427" y="304" width="1" height="7" fill="#f23645"/>
<rect x="425" y="306" width="5" height="2" fill="#f23645"/>
<rect x="433" y="317" width="1" height="7" fill="#f23645"/>
<rect x="431" y="318" width="5" height="3" fill="#f23645"/>
<rect x="440" y="309" width="1" height="9" fill="#089981"/>
<rect x="438" y="310" width="5" height="7" fill="#089981"/>
<rect x="446" y="322" width="1" height="9" fill="#f23645"/>
<rect x="444" y="322" width="5" height="7" fill="#f23645"/>
<rect x="452" y="321" width="1" height="14" fill="#f23645"/>
<rect x="450" y="321" width="5" height="10" fill="#f23645"/>
<rect x="458" y="328" width="1" height="10" fill="#089981"/>
<rect x="456" y="335" width="5" height="1" fill="#089981"/>
<rect x="464" y="324" width="1" height="10" fill="#089981"/>
<rect x="462" y="330" width="5" height="4" fill="#089981"/>
<rect x="471" y="336" width="1" height="3" fill="#f23645"/>
<rect x="469" y="336" width="5" height="3" fill="#f23645"/>
<rect x="477" y="317" width="1" height="12" fill="#f23645"/>
<rect x="475" y="322" width="5" height="1" fill="#f23645"/>
<rect x="483" y="306" width="1" height="13" fill="#f23645"/>
<rect x="481" y="315" width="5" height="4" fill="#f23645"/>
<rect x="489" y="307" width="1" height="10" fill="#f23645"/>
<rect x="487" y="307" width="5" height="8" fill="#f23645"/>
<rect x="496" y="312" width="1" height="8" fill="#f23645"/>
<rect x="494" y="314" width="5" height="6" fill="#f23645"/>
<rect x="502" y="316" width="1" height="5" fill="#f23645"/>
<rect x="500" y="319" width="5" height="1" fill="#f23645"/>
<rect x="508" y="316" width="1" height="5" fill="#f23645"/>
<rect x="506" y="316" width="5" height="1" fill="#f23645"/>
<rect x="514" y="302" width="1" height="13" fill="#089981"/>
<rect x="512" y="306" width="5" height="8" fill="#089981"/>
<rect x="520" y="284" width="1" height="12" fill="#089981"/>
<rect x="518" y="285" width="5" height="7" fill="#089981"/>
<rect x="527" y="252" width="1" height="10" fill="#f23645"/>
<rect x="525" y="256" width="5" height="6" fill="#f23645"/>
<rect x="533" y="251" width="1" height="16" fill="#089981"/>
<rect x="531" y="252" width="5" height="15" fill="#089981"/>
<rect x="539" y="232" width="1" height="18" fill="#089981"/>
<rect x="537" y="233" width="5" height="16" fill="#089981"/>
<rect x="545" y="207" width="1" height="15" fill="#089981"/>
<rect x="543" y="207" width="5" height="15" fill="#089981"/>
<rect x="551" y="209" width="1" height="26" fill="#f23645"/>
<rect x="549" y="209" width="5" height="12" fill="#f23645"/>
<rect x="558" y="241" width="1" height="13" fill="#f23645"/>
<rect x="556" y="241" width="5" height="13" fill="#f23645"/>
<rect x="564" y="237" width="1" height="20" fill="#089981"/>
<rect x="562" y="240" width="5" height="17" fill="#089981"/>
<rect x="570" y="227" width="1" height="15" fill="#f23645"/>
<rect x="568" y="229" width="5" height="10" fill="#f23645"/>
<rect x="576" y="276" width="1" height="6" fill="#089981"/>
<rect x="574" y="281" width="5" height="1" fill="#089981"/>
<rect x="583" y="274" width="1" height="18" fill="#f23645"/>
<rect x="581" y="274" width="5" height="12" fill="#f23645"/>
<rect x="589" y="288" width="1" height="35" fill="#f23645"/>
<rect x="587" y="288" width="5" height="21" fill="#f23645"/>
<rect x="595" y="336" width="1" height="6" fill="#089981"/>
<rect x="593" y="341" width="5" height="1" fill="#089981"/>
<rect x="601" y="322" width="1" height="19" fill="#089981"/>
<rect x="599" y="325" width="5" height="16" fill="#089981"/>
<rect x="607" y="306" width="1" height="30" fill="#f23645"/>
<rect x="605" y="310" width="5" height="20" fill="#f23645"/>
<rect x="614" y="311" width="1" height="16" fill="#f23645"/>
<rect x="612" y="314" width="5" height="8" fill="#f23645"/>
<rect x="620" y="324" width="1" height="27" fill="#f23645"/>
<rect x="618" y="324" width="5" height="27" fill="#f23645"/>
<rect x="626" y="349" width="1" height="26" fill="#089981"/>
<rect x="624" y="351" width="5" height="9" fill="#089981"/>
<rect x="632" y="341" width="1" height="9" fill="#f23645"/>
<rect x="630" y="342" width="5" height="1" fill="#f23645"/>
<rect x="638" y="347" width="1" height="10" fill="#f23645"/>
<rect x="636" y="347" width="5" height="8" fill="#f23645"/>
<rect x="645" y="355" width="1" height="4" fill="#f23645"/>
<rect x="643" y="356" width="5" height="3" fill="#f23645"/>
<rect x="651" y="345" width="1" height="17" fill="#089981"/>
<rect x="649" y="351" width="5" height="9" fill="#089981"/>
<rect x="657" y="333" width="1" height="6" fill="#f23645"/>
<rect x="655" y="336" width="5" height="1" fill="#f23645"/>
<rect x="663" y="337" width="1" height="7" fill="#f23645"/>
<rect x="661" y="339" width="5" height="3" fill="#f23645"/>
<rect x="670" y="342" width="1" height="4" fill="#089981"/>
<rect x="668" y="343" width="5" height="3" fill="#089981"/>
<rect x="676" y="340" width="1" height="6" fill="#f23645"/>
<rect x="674" y="343" width="5" height="3" fill="#f23645"/>
<rect x="682" y="318" width="1" height="8" fill="#f23645"/>
<rect x="680" y="318" width="5" height="6" fill="#f23645"/>
<rect x="688" y="314" width="1" height="7" fill="#f23645"/>
<rect x="686" y="318" width="5" height="2" fill="#f23645"/>
<rect x="694" y="317" width="1" height="15" fill="#f23645"/>
<rect x="692" y="321" width="5" height="10" fill="#f23645"/>
<rect x="701" y="328" width="1" height="6" fill="#f23645"/>
<rect x="699" y="332" width="5" height="1" fill="#f23645"/>
<rect x="707" y="327" width="1" height="9" fill="#089981"/>
<rect x="705" y="334" width="5" height="1" fill="#089981"/>
<rect x="713" y="323" width="1" height="8" fill="#089981"/>
<rect x="711" y="326" width="5" height="5" fill="#089981"/>
<rect x="719" y="314" width="1" height="23" fill="#f23645"/>
<rect x="717" y="323" width="5" height="14" fill="#f23645"/>
<rect x="725" y="332" width="1" height="7" fill="#089981"/>
<rect x="723" y="334" width="5" height="5" fill="#089981"/>
<rect x="732" y="331" width="1" height="6" fill="#f23645"/>
<rect x="730" y="331" width="5" height="6" fill="#f23645"/>
<rect x="738" y="334" width="1" height="6" fill="#f23645"/>
<rect x="736" y="336" width="5" height="4" fill="#f23645"/>
<rect x="744" y="340" width="1" height="10" fill="#f23645"/>
<rect x="742" y="342" width="5" height="8" fill="#f23645"/>
<rect x="750" y="349" width="1" height="14" fill="#f23645"/>
<rect x="748" y="349" width="5" height="8" fill="#f23645"/>
<rect x="757" y="351" width="1" height="8" fill="#f23645"/>
<rect x="755" y="353" width="5" height="3" fill="#f23645"/>
<rect x="763" y="330" width="1" height="16" fill="#089981"/>
<rect x="761" y="334" width="5" height="12" fill="#089981"/>
<rect x="769" y="324" width="1" height="16" fill="#f23645"/>
<rect x="767" y="324" width="5" height="15" fill="#f23645"/>
<rect x="775" y="335" width="1" height="4" fill="#f23645"/>
<rect x="773" y="335" width="5" height="4" fill="#f23645"/>
<rect x="781" y="338" width="1" height="3" fill="#089981"/>
<rect x="779" y="339" width="5" height="1" fill="#089981"/>
<rect x="788" y="343" width="1" height="5" fill="#f23645"/>
<rect x="786" y="344" width="5" height="2" fill="#f23645"/>
<rect x="794" y="342" width="1" height="4" fill="#f23645"/>
<rect x="792" y="343" width="5" height="1" fill="#f23645"/>
<rect x="800" y="339" width="1" height="5" fill="#089981"/>
<rect x="798" y="340" width="5" height="4" fill="#089981"/>
<rect x="806" y="341" width="1" height="4" fill="#f23645"/>
<rect x="804" y="341" width="5" height="4" fill="#f23645"/>
<rect x="812" y="344" width="1" height="1" fill="#089981"/>
<rect x="810" y="344" width="5" height="1" fill="#089981"/>
<rect x="819" y="338" width="1" height="8" fill="#089981"/>
<rect x="817" y="340" width="5" height="5" fill="#089981"/>
<rect x="825" y="337" width="1" height="3" fill="#089981"/>
<rect x="823" y="339" width="5" height="1" fill="#089981"/>
<rect x="831" y="335" width="1" height="6" fill="#f23645"/>
<rect x="829" y="338" width="5" height="3" fill="#f23645"/>
<rect x="837" y="336" width="1" height="4" fill="#089981"/>
<rect x="835" y="338" width="5" height="1" fill="#089981"/>
<rect x="844" y="330" width="1" height="8" fill="#089981"/>
<rect x="842" y="334" width="5" height="4" fill="#089981"/>
<rect x="850" y="338" width="1" height="4" fill="#f23645"/>
<rect x="848" y="338" width="5" height="3" fill="#f23645"/>
<rect x="856" y="334" width="1" height="4" fill="#089981"/>
<rect x="854" y="336" width="5" height="2" fill="#089981"/>
<rect x="862" y="318" width="1" height="12" fill="#f23645"/>
<rect x="860" y="322" width="5" height="8" fill="#f23645"/>
<rect x="868" y="300" width="1" height="27" fill="#089981"/>
<rect x="866" y="305" width="5" height="21" fill="#089981"/>
<rect x="875" y="278" width="1" height="12" fill="#089981"/>
<rect x="873" y="285" width="5" height="4" fill="#089981"/>
<rect x="881" y="264" width="1" height="31" fill="#f23645"/>
<rect x="879" y="271" width="5" height="19" fill="#f23645"/>
<rect x="887" y="281" width="1" height="25" fill="#089981"/>
<rect x="885" y="285" width="5" height="16" fill="#089981"/>
<rect x="893" y="291" width="1" height="9" fill="#f23645"/>
<rect x="891" y="291" width="5" height="9" fill="#f23645"/>
<rect x="900" y="299" width="1" height="7" fill="#f23645"/>
<rect x="898" y="299" width="5" height="7" fill="#f23645"/>
<rect x="906" y="295" width="1" height="11" fill="#f23645"/>
<rect x="904" y="302" width="5" height="4" fill="#f23645"/>
<rect x="912" y="305" width="1" height="6" fill="#f23645"/>
<rect x="910" y="305" width="5" height="4" fill="#f23645"/>
<rect x="918" y="294" width="1" height="16" fill="#089981"/>
<rect x="916" y="296" width="5" height="14" fill="#089981"/>
<rect x="924" y="289" width="1" height="7" fill="#f23645"/>
<rect x="922" y="293" width="5" height="3" fill="#f23645"/>
<rect x="931" y="291" width="1" height="10" fill="#f23645"/>
<rect x="929" y="291" width="5" height="9" fill="#f23645"/>
<rect x="937" y="292" width="1" height="9" fill="#089981"/>
<rect x="935" y="294" width="5" height="6" fill="#089981"/>
<rect x="943" y="297" width="1" height="3" fill="#f23645"/>
<rect x="941" y="299" width="5" height="1" fill="#f23645"/>
<rect x="949" y="301" width="1" height="11" fill="#f23645"/>
<rect x="947" y="301" width="5" height="7" fill="#f23645"/>
<rect x="955" y="299" width="1" height="4" fill="#089981"/>
<rect x="953" y="300" width="5" height="3" fill="#089981"/>
<rect x="962" y="288" width="1" height="8" fill="#f23645"/>
<rect x="960" y="290" width="5" height="5" fill="#f23645"/>
<rect x="968" y="288" width="1" height="6" fill="#f23645"/>
<rect x="966" y="291" width="5" height="3" fill="#f23645"/>
<rect x="974" y="294" width="1" height="5" fill="#f23645"/>
<rect x="972" y="296" width="5" height="3" fill="#f23645"/>
<rect x="980" y="300" width="1" height="3" fill="#f23645"/>
<rect x="978" y="300" width="5" height="3" fill="#f23645"/>
<rect x="987" y="294" width="1" height="7" fill="#089981"/>
<rect x="985" y="294" width="5" height="6" fill="#089981"/>
<rect x="993" y="291" width="1" height="5" fill="#f23645"/>
<rect x="991" y="293" width="5" height="2" fill="#f23645"/>
<rect x="999" y="292" width="1" height="3" fill="#f23645"/>
<rect x="997" y="293" width="5" height="2" fill="#f23645"/>
<rect x="1005" y="278" width="1" height="11" fill="#089981"/>
<rect x="1003" y="278" width="5" height="11" fill="#089981"/>
<rect x="1011" y="266" width="1" height="8" fill="#f23645"/>
<rect x="1009" y="266" width="5" height="8" fill="#f23645"/>
<rect x="1018" y="263" width="1" height="10" fill="#089981"/>
<rect x="1016" y="263" width="5" height="10" fill="#089981"/>
<rect x="1024" y="258" width="1" height="15" fill="#f23645"/>
<rect x="1022" y="258" width="5" height="13" fill="#f23645"/>
<rect x="1030" y="265" width="1" height="4" fill="#089981"/>
<rect x="1028" y="267" width="5" height="2" fill="#089981"/>
<rect x="1036" y="271" width="1" height="7" fill="#f23645"/>
<rect x="1034" y="271" width="5" height="5" fill="#f23645"/>
<rect x="1042" y="275" width="1" height="7" fill="#f23645"/>
<rect x="1040" y="277" width="5" height="1" fill="#f23645"/>
<rect x="1049" y="270" width="1" height="6" fill="#f23645"/>
<rect x="1047" y="270" width="5" height="5" fill="#f23645"/>
<rect x="1055" y="275" width="1" height="4" fill="#f23645"/>
<rect x="1053" y="275" width="5" height="3" fill="#f23645"/>
<rect x="1061" y="268" width="1" height="8" fill="#089981"/>
<rect x="1059" y="273" width="5" height="3" fill="#089981"/>
<rect x="1067" y="276" width="1" height="5" fill="#089981"/>
<rect x="1065" y="280" width="5" height="1" fill="#089981"/>
<rect x="1074" y="274" width="1" height="5" fill="#f23645"/>
<rect x="1072" y="276" width="5" height="2" fill="#f23645"/>
<rect x="1080" y="274" width="1" height="4" fill="#089981"/>
<rect x="1078" y="275" width="5" height="1" fill="#089981"/>
<rect x="1086" y="271" width="1" height="4" fill="#f23645"/>
<rect x="1084" y="271" width="5" height="4" fill="#f23645"/>
<rect x="1092" y="268" width="1" height="4" fill="#089981"/>
<rect x="1090" y="270" width="5" height="2" fill="#089981"/>
<rect x="1098" y="262" width="1" height="7" fill="#089981"/>
<rect x="1096" y="262" width="5" height="5" fill="#089981"/>
<rect x="1105" y="254" width="1" height="7" fill="#f23645"/>
<rect x="1103" y="257" width="5" height="4" fill="#f23645"/>
<rect x="1111" y="256" width="1" height="5" fill="#f23645"/>
<rect x="1109" y="258" width="5" height="3" fill="#f23645"/>
<rect x="1117" y="240" width="1" height="17" fill="#089981"/>
<rect x="1115" y="240" width="5" height="11" fill="#089981"/>
<rect x="1123" y="214" width="1" height="14" fill="#f23645"/>
<rect x="1121" y="215" width="5" height="8" fill="#f23645"/>
<rect x="1129" y="207" width="1" height="16" fill="#089981"/>
<rect x="1127" y="209" width="5" height="14" fill="#089981"/>
<rect x="1136" y="214" width="1" height="15" fill="#f23645"/>
<rect x="1134" y="214" width="5" height="13" fill="#f23645"/>
<rect x="1142" y="215" width="1" height="12" fill="#089981"/>
<rect x="1140" y="217" width="5" height="10" fill="#089981"/>
<rect x="1148" y="211" width="1" height="6" fill="#089981"/>
<rect x="1146" y="211" width="5" height="4" fill="#089981"/>
<rect x="1154" y="203" width="1" height="7" fill="#089981"/>
<rect x="1152" y="203" width="5" height="5" fill="#089981"/>
<rect x="1161" y="198" width="1" height="15" fill="#f23645"/>
<rect x="1159" y="200" width="5" height="10" fill="#f23645"/>
<rect x="1167" y="204" width="1" height="9" fill="#089981"/>
<rect x="1165" y="205" width="5" height="6" fill="#089981"/>
<rect x="1173" y="214" width="1" height="12" fill="#f23645"/>
<rect x="1171" y="214" width="5" height="12" fill="#f23645"/>
<rect x="1179" y="217" width="1" height="8" fill="#089981"/>
<rect x="1177" y="221" width="5" height="4" fill="#089981"/>
<rect x="1185" y="211" width="1" height="5" fill="#089981"/>
<rect x="1183" y="212" width="5" height="4" fill="#089981"/>
<rect x="1192" y="198" width="1" height="8" fill="#089981"/>
<rect x="1190" y="204" width="5" height="2" fill="#089981"/>
<rect x="1198" y="202" width="1" height="5" fill="#089981"/>
<rect x="1196" y="203" width="5" height="1" fill="#089981"/>
<rect x="1204" y="168" width="1" height="11" fill="#f23645"/>
<rect x="1202" y="170" width="5" height="3" fill="#f23645"/>
<rect x="1210" y="153" width="1" height="17" fill="#f23645"/>
<rect x="1208" y="153" width="5" height="16" fill="#f23645"/>
<rect x="1216" y="159" width="1" height="15" fill="#f23645"/>
<rect x="1214" y="159" width="5" height="13" fill="#f23645"/>
<rect x="1223" y="152" width="1" height="20" fill="#089981"/>
<rect x="1221" y="156" width="5" height="16" fill="#089981"/>
<rect x="1229" y="136" width="1" height="4" fill="#089981"/>
<rect x="1227" y="137" width="5" height="3" fill="#089981"/>
</g>
<line x1="13" y1="137.5" x2="1742" y2="137.5" stroke="#089981" stroke-width="1" stroke-dasharray="1 2"/>
<clipPath id="c2"><rect x="10" y="498" width="1732" height="74"/></clipPath><g clip-path="url(#c2)">
<line x1="10" y1="520.5" x2="1742" y2="520.5" stroke="#ff0000" stroke-width="1" stroke-dasharray="5 6" stroke-dashoffset="-0.36"/>
<line x1="10" y1="550.5" x2="1742" y2="550.5" stroke="#008000" stroke-width="1" stroke-dasharray="5 6" stroke-dashoffset="-0.36"/>
<path d="M11.5 529.33 L17.5 518.22 L23.5 512.67 L29.5 507.81 L36.5 505.31 L42.5 505.31 L48.5 516.83 L54.5 534.89 L60.5 552.25 L67.5 560.58 L73.5 542.53 L79.5 534.19 L85.5 525.17 L92.5 529.33 L98.5 521.69 L104.5 532.81 L110.5 538.78 L116.5 536.28 L123.5 516.83 L129.5 505.31 L135.5 505.31 L141.5 509.89 L147.5 516.83 L154.5 529.33 L160.5 534.19 L166.5 552.94 L172.5 557.39 L179.5 551.56 L185.5 537.67 L191.5 523.78 L197.5 516.56 L203.5 529.33 L210.5 536.28 L216.5 542.81 L222.5 534.61 L228.5 543.92 L235.5 553.64 L241.5 562.67 L247.5 551.56 L253.5 532.81 L259.5 515.44 L266.5 509.19 L272.5 511 L278.5 527.94 L284.5 543.22 L290.5 558.5 L297.5 550.86 L303.5 530.72 L309.5 515.44 L315.5 505.31 L322.5 505.31 L328.5 505.31 L334.5 525.17 L340.5 533.5 L346.5 539.06 L353.5 529.33 L359.5 523.08 L365.5 517.53 L371.5 507.39 L377.5 525.86 L384.5 537.67 L390.5 552.94 L396.5 546.69 L402.5 532.81 L409.5 519.61 L415.5 505.31 L421.5 525.86 L427.5 546 L433.5 564.75 L440.5 561.28 L446.5 561 L452.5 561.28 L458.5 565.03 L464.5 560.58 L471.5 560.58 L477.5 540.44 L483.5 523.78 L489.5 505.31 L496.5 511 L502.5 528.64 L508.5 538.08 L514.5 531.42 L520.5 516.14 L527.5 505.31 L533.5 505.31 L539.5 505.31 L545.5 505.31 L551.5 525.86 L558.5 543.22 L564.5 562.67 L570.5 559.19 L576.5 559.89 L583.5 561.97 L589.5 565.03 L595.5 565.03 L601.5 554.33 L607.5 545.31 L614.5 526.56 L620.5 531.42 L626.5 540.17 L632.5 547.39 L638.5 548.5 L645.5 546.69 L651.5 540.44 L657.5 524.47 L663.5 508.5 L670.5 513.36 L676.5 522.39 L682.5 518.22 L688.5 514.33 L694.5 514.33 L701.5 525.17 L707.5 545.31 L713.5 544.33 L719.5 552.94 L725.5 548.5 L732.5 558.22 L738.5 558.22 L744.5 562.67 L750.5 565.03 L757.5 560.58 L763.5 540.44 L769.5 523.78 L775.5 511 L781.5 516.14 L788.5 532.81 L794.5 543.64 L800.5 542.81 L806.5 534.19 L812.5 536.28 L819.5 532.39 L825.5 520.31 L831.5 511.69 L837.5 511.69 L844.5 511.69 L850.5 525.17 L856.5 533.22 L862.5 533.5 L868.5 513.36 L875.5 505.31 L881.5 509.19 L887.5 512.67 L893.5 529.33 L900.5 547.39 L906.5 564.47 L912.5 564.47 L918.5 543.92 L924.5 525.86 L931.5 518.5 L937.5 520.31 L943.5 540.44 L949.5 548.08 L955.5 556 L962.5 540.44 L968.5 520.72 L974.5 521.69 L980.5 537.25 L987.5 540.72 L993.5 533.5 L999.5 515.72 L1005.5 511.97 L1011.5 506.83 L1018.5 505.31 L1024.5 515.44 L1030.5 531.42 L1036.5 551.56 L1042.5 561.28 L1049.5 561.56 L1055.5 561.56 L1061.5 541.56 L1067.5 544.89 L1074.5 541.14 L1080.5 549.89 L1086.5 537.67 L1092.5 521 L1098.5 512.39 L1105.5 505.31 L1111.5 505.31 L1117.5 505.31 L1123.5 505.31 L1129.5 505.31 L1136.5 522.39 L1142.5 539.75 L1148.5 556 L1154.5 547.67 L1161.5 547.39 L1167.5 547.67 L1173.5 555.44 L1179.5 557.11 L1185.5 554.33 L1192.5 541.83 L1198.5 525.17 L1204.5 512.39 L1210.5 505.31 L1216.5 511 L1223.5 511 L1229.5 511.56" stroke="#2a2a2a" stroke-width="0.9" fill="none" stroke-linejoin="round"/>
<path d="M11.5 544.61 L17.5 530.72 L23.5 520.07 L29.5 512.9 L36.5 508.59 L42.5 506.14 L48.5 509.15 L54.5 519.01 L60.5 534.66 L67.5 549.24 L73.5 551.79 L79.5 545.77 L85.5 533.96 L92.5 529.56 L98.5 525.4 L104.5 527.94 L110.5 531.09 L116.5 535.95 L123.5 530.63 L129.5 519.47 L135.5 509.15 L141.5 506.83 L147.5 510.68 L154.5 518.69 L160.5 526.79 L166.5 538.82 L172.5 548.18 L179.5 553.96 L185.5 548.87 L191.5 537.67 L197.5 526 L203.5 523.22 L210.5 527.39 L216.5 536.14 L222.5 537.9 L228.5 540.44 L235.5 544.06 L241.5 553.41 L247.5 555.95 L253.5 549.01 L259.5 533.27 L266.5 519.15 L272.5 511.88 L278.5 516.05 L284.5 527.39 L290.5 543.22 L297.5 550.86 L303.5 546.69 L309.5 532.34 L315.5 517.16 L322.5 508.69 L328.5 505.31 L334.5 511.93 L340.5 521.32 L346.5 532.57 L353.5 533.96 L359.5 530.49 L365.5 523.31 L371.5 516 L377.5 516.93 L384.5 523.64 L390.5 538.82 L396.5 545.77 L402.5 544.15 L409.5 533.04 L415.5 519.24 L421.5 516.93 L427.5 525.72 L433.5 545.54 L440.5 557.34 L446.5 562.34 L452.5 561.19 L458.5 562.44 L464.5 562.3 L471.5 562.06 L477.5 553.87 L483.5 541.6 L489.5 523.18 L496.5 513.36 L502.5 514.98 L508.5 525.91 L514.5 532.71 L520.5 528.55 L527.5 517.62 L533.5 508.92 L539.5 505.31 L545.5 505.31 L551.5 512.16 L558.5 524.8 L564.5 543.92 L570.5 555.03 L576.5 560.58 L583.5 560.35 L589.5 562.3 L595.5 564.01 L601.5 561.46 L607.5 554.89 L614.5 542.06 L620.5 534.43 L626.5 532.71 L632.5 539.66 L638.5 545.35 L645.5 547.53 L651.5 545.21 L657.5 537.2 L663.5 524.47 L670.5 515.44 L676.5 514.75 L682.5 517.99 L688.5 518.31 L694.5 515.63 L701.5 517.94 L707.5 528.27 L713.5 538.27 L719.5 547.53 L725.5 548.59 L732.5 553.22 L738.5 554.98 L744.5 559.7 L750.5 561.97 L757.5 562.76 L763.5 555.35 L769.5 541.6 L775.5 525.07 L781.5 516.97 L788.5 519.98 L794.5 530.86 L800.5 539.75 L806.5 540.21 L812.5 537.76 L819.5 534.29 L825.5 529.66 L831.5 521.46 L837.5 514.56 L844.5 511.69 L850.5 516.19 L856.5 523.36 L862.5 530.63 L868.5 526.69 L875.5 517.39 L881.5 509.29 L887.5 509.06 L893.5 517.06 L900.5 529.8 L906.5 547.06 L912.5 558.78 L918.5 557.62 L924.5 544.75 L931.5 529.43 L937.5 521.56 L943.5 526.42 L949.5 536.28 L955.5 548.18 L962.5 548.18 L968.5 539.06 L974.5 527.62 L980.5 526.56 L987.5 533.22 L993.5 537.16 L999.5 529.98 L1005.5 520.4 L1011.5 511.51 L1018.5 508.04 L1024.5 509.19 L1030.5 517.39 L1036.5 532.81 L1042.5 548.08 L1049.5 558.13 L1055.5 561.46 L1061.5 554.89 L1067.5 549.33 L1074.5 542.53 L1080.5 545.31 L1086.5 542.9 L1092.5 536.19 L1098.5 523.69 L1105.5 512.9 L1111.5 507.67 L1117.5 505.31 L1123.5 505.31 L1129.5 505.31 L1136.5 511 L1142.5 522.48 L1148.5 539.38 L1154.5 547.81 L1161.5 550.35 L1167.5 547.57 L1173.5 550.17 L1179.5 553.41 L1185.5 555.63 L1192.5 551.09 L1198.5 540.44 L1204.5 526.46 L1210.5 514.29 L1216.5 509.56 L1223.5 509.1 L1229.5 511.19" stroke="#9c27b0" stroke-width="2" fill="none" stroke-linejoin="round" opacity="0.85"/>
</g>
<line x1="10" y1="611.5" x2="1742" y2="611.5" stroke="#787b86" stroke-width="1" stroke-dasharray="5 6" stroke-dashoffset="-0.36"/>
<line x1="10" y1="643.5" x2="1742" y2="643.5" stroke="#787b86" stroke-width="1" stroke-dasharray="5 6" stroke-dashoffset="-0.36"/>
<line x1="10" y1="675.5" x2="1742" y2="675.5" stroke="#787b86" stroke-width="1" stroke-dasharray="5 6" stroke-dashoffset="-0.36"/>
<path d="M11.5 647.58 L17.5 646.89 L23.5 644.53 L29.5 636.19 L36.5 635.08 L42.5 626.19 L48.5 634.53 L54.5 634.25 L60.5 637.58 L67.5 636.19 L73.5 628.97 L79.5 634.11 L85.5 632.03 L92.5 630.64 L98.5 629.53 L104.5 634.81 L110.5 632.03 L116.5 628.97 L123.5 626.89 L129.5 617.44 L135.5 612.31 L141.5 617.86 L147.5 609.81 L154.5 613.69 L160.5 613.97 L166.5 631.61 L172.5 629.94 L179.5 620.92 L185.5 619.25 L191.5 621.61 L197.5 613.97 L203.5 628.97 L210.5 623 L216.5 617.72 L222.5 622.72 L228.5 633.69 L235.5 632.31 L241.5 638.28 L247.5 632.03 L253.5 627.17 L259.5 619.81 L266.5 623.42 L272.5 620.64 L278.5 625.5 L284.5 627.86 L290.5 626.06 L297.5 624.39 L303.5 616.33 L309.5 608.83 L315.5 605.5 L322.5 604.11 L328.5 603.28 L334.5 614.39 L340.5 606.33 L346.5 604.39 L353.5 607.44 L359.5 604.94 L365.5 596.89 L371.5 584.11 L377.5 604.67 L384.5 597.17 L390.5 598.97 L396.5 598.42 L402.5 595.22 L409.5 591.06 L415.5 587.31 L421.5 606.33 L427.5 608.83 L433.5 621.19 L440.5 616.06 L446.5 630.36 L452.5 632.31 L458.5 636.19 L464.5 633 L471.5 639.25 L477.5 629.67 L483.5 626.89 L489.5 625.36 L496.5 630.22 L502.5 629.25 L508.5 628.14 L514.5 620.92 L520.5 610.22 L527.5 601.75 L533.5 599.11 L539.5 594.11 L545.5 589.39 L551.5 601.47 L558.5 622.58 L564.5 618.42 L570.5 617.44 L576.5 640.36 L583.5 642.03 L589.5 650.78 L595.5 661.89 L601.5 654.94 L607.5 656.06 L614.5 652.86 L620.5 662.31 L626.5 662.58 L632.5 658 L638.5 662.31 L645.5 663.56 L651.5 659.11 L657.5 651.47 L663.5 653.28 L670.5 654.25 L676.5 655.22 L682.5 642.03 L688.5 641.06 L694.5 646.61 L701.5 648.28 L707.5 648.42 L713.5 644.11 L719.5 649.39 L725.5 648.28 L732.5 648.69 L738.5 651.06 L744.5 657.72 L750.5 662.31 L757.5 660.08 L763.5 643.14 L769.5 645.64 L775.5 645.64 L781.5 646.89 L788.5 651.75 L794.5 649.81 L800.5 647.03 L806.5 649.67 L812.5 650.5 L819.5 645.5 L825.5 643.83 L831.5 645.92 L837.5 641.33 L844.5 638.56 L850.5 646.61 L856.5 640.64 L862.5 633.69 L868.5 613.97 L875.5 605.22 L881.5 609.81 L887.5 607.72 L893.5 623.28 L900.5 628.97 L906.5 628.56 L912.5 633 L918.5 624.11 L924.5 623 L931.5 628.97 L937.5 624.39 L943.5 631.33 L949.5 637.58 L955.5 632.03 L962.5 627.86 L968.5 627.44 L974.5 633.69 L980.5 636.89 L987.5 629.67 L993.5 630.36 L999.5 630.22 L1005.5 617.44 L1011.5 613.69 L1018.5 608.14 L1024.5 617.44 L1030.5 615.36 L1036.5 626.47 L1042.5 627.58 L1049.5 625.78 L1055.5 630.22 L1061.5 624.67 L1067.5 634.11 L1074.5 632.31 L1080.5 629.67 L1086.5 629.25 L1092.5 623.69 L1098.5 618.14 L1105.5 616.47 L1111.5 616.06 L1117.5 602.44 L1123.5 594.94 L1129.5 590.64 L1136.5 611.47 L1142.5 607.44 L1148.5 604.67 L1154.5 601.89 L1161.5 608.69 L1167.5 606.61 L1173.5 626.47 L1179.5 624.67 L1185.5 619.53 L1192.5 615.78 L1198.5 615.08 L1204.5 602.44 L1210.5 600.78 L1216.5 604.67 L1223.5 599.81 L1229.5 594.53" stroke="#7e57c2" stroke-width="1" fill="none" stroke-linejoin="round"/>
<g shape-rendering="crispEdges">
<rect x="10" y="725" width="3" height="5" fill="rgba(255,0,0,0.66)"/>
<rect x="15" y="725" width="4" height="6" fill="rgba(255,0,0,0.66)"/>
<rect x="21" y="725" width="4" height="7" fill="rgba(255,0,0,0.66)"/>
<rect x="27" y="725" width="4" height="6" fill="rgba(128,0,0,0.66)"/>
<rect x="34" y="725" width="4" height="5" fill="rgba(128,0,0,0.66)"/>
<rect x="40" y="725" width="4" height="5" fill="rgba(128,0,0,0.66)"/>
<rect x="46" y="725" width="4" height="5" fill="rgba(128,0,0,0.66)"/>
<rect x="52" y="725" width="4" height="4" fill="rgba(128,0,0,0.66)"/>
<rect x="58" y="725" width="4" height="4" fill="rgba(128,0,0,0.66)"/>
<rect x="65" y="725" width="4" height="3" fill="rgba(128,0,0,0.66)"/>
<rect x="71" y="725" width="4" height="1" fill="rgba(128,0,0,0.66)"/>
<rect x="77" y="724" width="4" height="1" fill="rgba(0,255,0,0.66)"/>
<rect x="83" y="723" width="4" height="2" fill="rgba(0,255,0,0.66)"/>
<rect x="90" y="721" width="4" height="4" fill="rgba(0,255,0,0.66)"/>
<rect x="96" y="720" width="4" height="5" fill="rgba(0,255,0,0.66)"/>
<rect x="102" y="719" width="4" height="6" fill="rgba(0,255,0,0.66)"/>
<rect x="108" y="718" width="4" height="7" fill="rgba(0,255,0,0.66)"/>
<rect x="114" y="718" width="4" height="7" fill="rgba(0,255,0,0.66)"/>
<rect x="121" y="718" width="4" height="7" fill="rgba(0,255,0,0.66)"/>
<rect x="127" y="718" width="4" height="7" fill="rgba(0,255,0,0.66)"/>
<rect x="133" y="717" width="4" height="8" fill="rgba(0,255,0,0.66)"/>
<rect x="139" y="717" width="4" height="8" fill="rgba(0,128,0,0.66)"/>
<rect x="145" y="717" width="4" height="8" fill="rgba(0,255,0,0.66)"/>
<rect x="152" y="717" width="4" height="8" fill="rgba(0,255,0,0.66)"/>
<rect x="158" y="717" width="4" height="8" fill="rgba(0,255,0,0.66)"/>
<rect x="164" y="717" width="4" height="8" fill="rgba(0,128,0,0.66)"/>
<rect x="170" y="718" width="4" height="7" fill="rgba(0,128,0,0.66)"/>
<rect x="177" y="718" width="4" height="7" fill="rgba(0,128,0,0.66)"/>
<rect x="183" y="718" width="4" height="7" fill="rgba(0,128,0,0.66)"/>
<rect x="189" y="719" width="4" height="6" fill="rgba(0,128,0,0.66)"/>
<rect x="195" y="719" width="4" height="6" fill="rgba(0,255,0,0.66)"/>
<rect x="201" y="719" width="4" height="6" fill="rgba(0,128,0,0.66)"/>
<rect x="208" y="719" width="4" height="6" fill="rgba(0,128,0,0.66)"/>
<rect x="214" y="719" width="4" height="6" fill="rgba(0,255,0,0.66)"/>
<rect x="220" y="719" width="4" height="6" fill="rgba(0,128,0,0.66)"/>
<rect x="226" y="720" width="4" height="5" fill="rgba(0,128,0,0.66)"/>
<rect x="233" y="721" width="4" height="4" fill="rgba(0,128,0,0.66)"/>
<rect x="239" y="722" width="4" height="3" fill="rgba(0,128,0,0.66)"/>
<rect x="245" y="723" width="4" height="2" fill="rgba(0,128,0,0.66)"/>
<rect x="251" y="723" width="4" height="2" fill="rgba(0,128,0,0.66)"/>
<rect x="257" y="722" width="4" height="3" fill="rgba(0,255,0,0.66)"/>
<rect x="264" y="722" width="4" height="3" fill="rgba(0,255,0,0.66)"/>
<rect x="270" y="721" width="4" height="4" fill="rgba(0,255,0,0.66)"/>
<rect x="276" y="721" width="4" height="4" fill="rgba(0,255,0,0.66)"/>
<rect x="282" y="721" width="4" height="4" fill="rgba(0,255,0,0.66)"/>
<rect x="288" y="721" width="4" height="4" fill="rgba(0,128,0,0.66)"/>
<rect x="295" y="721" width="4" height="4" fill="rgba(0,128,0,0.66)"/>
<rect x="301" y="721" width="4" height="4" fill="rgba(0,255,0,0.66)"/>
<rect x="307" y="720" width="4" height="5" fill="rgba(0,255,0,0.66)"/>
<rect x="313" y="719" width="4" height="6" fill="rgba(0,255,0,0.66)"/>
<rect x="320" y="718" width="4" height="7" fill="rgba(0,255,0,0.66)"/>
<rect x="326" y="717" width="4" height="8" fill="rgba(0,255,0,0.66)"/>
<rect x="332" y="717" width="4" height="8" fill="rgba(0,255,0,0.66)"/>
<rect x="338" y="715" width="4" height="10" fill="rgba(0,255,0,0.66)"/>
<rect x="344" y="714" width="4" height="11" fill="rgba(0,255,0,0.66)"/>
<rect x="351" y="714" width="4" height="11" fill="rgba(0,255,0,0.66)"/>
<rect x="357" y="713" width="4" height="12" fill="rgba(0,255,0,0.66)"/>
<rect x="363" y="713" width="4" height="12" fill="rgba(0,255,0,0.66)"/>
<rect x="369" y="710" width="4" height="15" fill="rgba(0,255,0,0.66)"/>
<rect x="375" y="709" width="4" height="16" fill="rgba(0,255,0,0.66)"/>
<rect x="382" y="707" width="4" height="18" fill="rgba(0,255,0,0.66)"/>
<rect x="388" y="705" width="4" height="20" fill="rgba(0,255,0,0.66)"/>
<rect x="394" y="703" width="4" height="22" fill="rgba(0,255,0,0.66)"/>
<rect x="400" y="701" width="4" height="24" fill="rgba(0,255,0,0.66)"/>
<rect x="407" y="699" width="4" height="26" fill="rgba(0,255,0,0.66)"/>
<rect x="413" y="697" width="4" height="28" fill="rgba(0,255,0,0.66)"/>
<rect x="419" y="697" width="4" height="28" fill="rgba(0,128,0,0.66)"/>
<rect x="425" y="698" width="4" height="27" fill="rgba(0,128,0,0.66)"/>
<rect x="431" y="700" width="4" height="25" fill="rgba(0,128,0,0.66)"/>
<rect x="438" y="702" width="4" height="23" fill="rgba(0,128,0,0.66)"/>
<rect x="444" y="705" width="4" height="20" fill="rgba(0,128,0,0.66)"/>
<rect x="450" y="708" width="4" height="17" fill="rgba(0,128,0,0.66)"/>
<rect x="456" y="712" width="4" height="13" fill="rgba(0,128,0,0.66)"/>
<rect x="462" y="716" width="4" height="9" fill="rgba(0,128,0,0.66)"/>
<rect x="469" y="720" width="4" height="5" fill="rgba(0,128,0,0.66)"/>
<rect x="475" y="723" width="4" height="2" fill="rgba(0,128,0,0.66)"/>
<rect x="487" y="725" width="4" height="4" fill="rgba(255,0,0,0.66)"/>
<rect x="494" y="725" width="4" height="5" fill="rgba(255,0,0,0.66)"/>
<rect x="500" y="725" width="4" height="7" fill="rgba(255,0,0,0.66)"/>
<rect x="506" y="725" width="4" height="9" fill="rgba(255,0,0,0.66)"/>
<rect x="512" y="725" width="4" height="8" fill="rgba(128,0,0,0.66)"/>
<rect x="518" y="725" width="4" height="6" fill="rgba(128,0,0,0.66)"/>
<rect x="525" y="725" width="4" height="2" fill="rgba(128,0,0,0.66)"/>
<rect x="531" y="720" width="4" height="5" fill="rgba(0,255,0,0.66)"/>
<rect x="537" y="713" width="4" height="12" fill="rgba(0,255,0,0.66)"/>
<rect x="543" y="706" width="4" height="19" fill="rgba(0,255,0,0.66)"/>
<rect x="549" y="700" width="4" height="25" fill="rgba(0,255,0,0.66)"/>
<rect x="556" y="699" width="4" height="26" fill="rgba(0,255,0,0.66)"/>
<rect x="562" y="697" width="4" height="28" fill="rgba(0,255,0,0.66)"/>
<rect x="568" y="695" width="4" height="30" fill="rgba(0,255,0,0.66)"/>
<rect x="574" y="699" width="4" height="26" fill="rgba(0,128,0,0.66)"/>
<rect x="581" y="703" width="4" height="22" fill="rgba(0,128,0,0.66)"/>
<rect x="587" y="709" width="4" height="16" fill="rgba(0,128,0,0.66)"/>
<rect x="593" y="718" width="4" height="7" fill="rgba(0,128,0,0.66)"/>
<rect x="605" y="725" width="4" height="8" fill="rgba(255,0,0,0.66)"/>
<rect x="612" y="725" width="4" height="14" fill="rgba(255,0,0,0.66)"/>
<rect x="618" y="725" width="4" height="22" fill="rgba(255,0,0,0.66)"/>
<rect x="624" y="725" width="4" height="29" fill="rgba(255,0,0,0.66)"/>
<rect x="630" y="725" width="4" height="35" fill="rgba(255,0,0,0.66)"/>
<rect x="636" y="725" width="4" height="41" fill="rgba(255,0,0,0.66)"/>
<rect x="643" y="725" width="4" height="45" fill="rgba(255,0,0,0.66)"/>
<rect x="649" y="725" width="4" height="47" fill="rgba(255,0,0,0.66)"/>
<rect x="655" y="725" width="4" height="47" fill="rgba(128,0,0,0.66)"/>
<rect x="661" y="725" width="4" height="45" fill="rgba(128,0,0,0.66)"/>
<rect x="668" y="725" width="4" height="42" fill="rgba(128,0,0,0.66)"/>
<rect x="674" y="725" width="4" height="37" fill="rgba(128,0,0,0.66)"/>
<rect x="680" y="725" width="4" height="32" fill="rgba(128,0,0,0.66)"/>
<rect x="686" y="725" width="4" height="25" fill="rgba(128,0,0,0.66)"/>
<rect x="692" y="725" width="4" height="18" fill="rgba(128,0,0,0.66)"/>
<rect x="699" y="725" width="4" height="13" fill="rgba(128,0,0,0.66)"/>
<rect x="705" y="725" width="4" height="7" fill="rgba(128,0,0,0.66)"/>
<rect x="711" y="725" width="4" height="1" fill="rgba(128,0,0,0.66)"/>
<rect x="717" y="723" width="4" height="2" fill="rgba(0,255,0,0.66)"/>
<rect x="723" y="720" width="4" height="5" fill="rgba(0,255,0,0.66)"/>
<rect x="730" y="718" width="4" height="7" fill="rgba(0,255,0,0.66)"/>
<rect x="736" y="716" width="4" height="9" fill="rgba(0,255,0,0.66)"/>
<rect x="742" y="716" width="4" height="9" fill="rgba(0,128,0,0.66)"/>
<rect x="748" y="717" width="4" height="8" fill="rgba(0,128,0,0.66)"/>
<rect x="755" y="719" width="4" height="6" fill="rgba(0,128,0,0.66)"/>
<rect x="761" y="719" width="4" height="6" fill="rgba(0,255,0,0.66)"/>
<rect x="767" y="720" width="4" height="5" fill="rgba(0,128,0,0.66)"/>
<rect x="773" y="721" width="4" height="4" fill="rgba(0,128,0,0.66)"/>
<rect x="779" y="722" width="4" height="3" fill="rgba(0,128,0,0.66)"/>
<rect x="786" y="723" width="4" height="2" fill="rgba(0,128,0,0.66)"/>
<rect x="798" y="725" width="4" height="1" fill="rgba(255,0,0,0.66)"/>
<rect x="804" y="725" width="4" height="3" fill="rgba(255,0,0,0.66)"/>
<rect x="810" y="725" width="4" height="4" fill="rgba(255,0,0,0.66)"/>
<rect x="817" y="725" width="4" height="4" fill="rgba(128,0,0,0.66)"/>
<rect x="823" y="725" width="4" height="4" fill="rgba(128,0,0,0.66)"/>
<rect x="829" y="725" width="4" height="3" fill="rgba(128,0,0,0.66)"/>
<rect x="835" y="725" width="4" height="1" fill="rgba(128,0,0,0.66)"/>
<rect x="848" y="724" width="4" height="1" fill="rgba(0,255,0,0.66)"/>
<rect x="854" y="723" width="4" height="2" fill="rgba(0,255,0,0.66)"/>
<rect x="860" y="721" width="4" height="4" fill="rgba(0,255,0,0.66)"/>
<rect x="866" y="719" width="4" height="6" fill="rgba(0,255,0,0.66)"/>
<rect x="873" y="716" width="4" height="9" fill="rgba(0,255,0,0.66)"/>
<rect x="879" y="714" width="4" height="11" fill="rgba(0,255,0,0.66)"/>
<rect x="885" y="712" width="4" height="13" fill="rgba(0,255,0,0.66)"/>
<rect x="891" y="711" width="4" height="14" fill="rgba(0,255,0,0.66)"/>
<rect x="898" y="711" width="4" height="14" fill="rgba(0,128,0,0.66)"/>
<rect x="904" y="711" width="4" height="14" fill="rgba(0,128,0,0.66)"/>
<rect x="910" y="713" width="4" height="12" fill="rgba(0,128,0,0.66)"/>
<rect x="916" y="713" width="4" height="12" fill="rgba(0,128,0,0.66)"/>
<rect x="922" y="713" width="4" height="12" fill="rgba(0,128,0,0.66)"/>
<rect x="929" y="714" width="4" height="11" fill="rgba(0,128,0,0.66)"/>
<rect x="935" y="714" width="4" height="11" fill="rgba(0,128,0,0.66)"/>
<rect x="941" y="716" width="4" height="9" fill="rgba(0,128,0,0.66)"/>
<rect x="947" y="718" width="4" height="7" fill="rgba(0,128,0,0.66)"/>
<rect x="953" y="719" width="4" height="6" fill="rgba(0,128,0,0.66)"/>
<rect x="960" y="720" width="4" height="5" fill="rgba(0,128,0,0.66)"/>
<rect x="966" y="721" width="4" height="4" fill="rgba(0,128,0,0.66)"/>
<rect x="972" y="723" width="4" height="2" fill="rgba(0,128,0,0.66)"/>
<rect x="985" y="725" width="4" height="1" fill="rgba(255,0,0,0.66)"/>
<rect x="991" y="725" width="4" height="2" fill="rgba(255,0,0,0.66)"/>
<rect x="997" y="725" width="4" height="1" fill="rgba(128,0,0,0.66)"/>
<rect x="1009" y="722" width="4" height="3" fill="rgba(0,255,0,0.66)"/>
<rect x="1016" y="720" width="4" height="5" fill="rgba(0,255,0,0.66)"/>
<rect x="1022" y="719" width="4" height="6" fill="rgba(0,255,0,0.66)"/>
<rect x="1028" y="718" width="4" height="7" fill="rgba(0,255,0,0.66)"/>
<rect x="1034" y="718" width="4" height="7" fill="rgba(0,128,0,0.66)"/>
<rect x="1040" y="718" width="4" height="7" fill="rgba(0,255,0,0.66)"/>
<rect x="1047" y="717" width="4" height="8" fill="rgba(0,255,0,0.66)"/>
<rect x="1053" y="717" width="4" height="8" fill="rgba(0,128,0,0.66)"/>
<rect x="1059" y="717" width="4" height="8" fill="rgba(0,255,0,0.66)"/>
<rect x="1065" y="717" width="4" height="8" fill="rgba(0,128,0,0.66)"/>
<rect x="1072" y="718" width="4" height="7" fill="rgba(0,128,0,0.66)"/>
<rect x="1078" y="719" width="4" height="6" fill="rgba(0,128,0,0.66)"/>
<rect x="1084" y="719" width="4" height="6" fill="rgba(0,128,0,0.66)"/>
<rect x="1090" y="719" width="4" height="6" fill="rgba(0,255,0,0.66)"/>
<rect x="1096" y="719" width="4" height="6" fill="rgba(0,255,0,0.66)"/>
<rect x="1103" y="719" width="4" height="6" fill="rgba(0,128,0,0.66)"/>
<rect x="1109" y="719" width="4" height="6" fill="rgba(0,128,0,0.66)"/>
<rect x="1115" y="718" width="4" height="7" fill="rgba(0,255,0,0.66)"/>
<rect x="1121" y="716" width="4" height="9" fill="rgba(0,255,0,0.66)"/>
<rect x="1127" y="713" width="4" height="12" fill="rgba(0,255,0,0.66)"/>
<rect x="1134" y="712" width="4" height="13" fill="rgba(0,255,0,0.66)"/>
<rect x="1140" y="710" width="4" height="15" fill="rgba(0,255,0,0.66)"/>
<rect x="1146" y="708" width="4" height="17" fill="rgba(0,255,0,0.66)"/>
<rect x="1152" y="705" width="4" height="20" fill="rgba(0,255,0,0.66)"/>
<rect x="1159" y="704" width="4" height="21" fill="rgba(0,255,0,0.66)"/>
<rect x="1165" y="703" width="4" height="22" fill="rgba(0,255,0,0.66)"/>
<rect x="1171" y="704" width="4" height="21" fill="rgba(0,128,0,0.66)"/>
<rect x="1177" y="705" width="4" height="20" fill="rgba(0,128,0,0.66)"/>
<rect x="1183" y="705" width="4" height="20" fill="rgba(0,128,0,0.66)"/>
<rect x="1190" y="705" width="4" height="20" fill="rgba(0,128,0,0.66)"/>
<rect x="1196" y="706" width="4" height="19" fill="rgba(0,128,0,0.66)"/>
<rect x="1202" y="705" width="4" height="20" fill="rgba(0,255,0,0.66)"/>
<rect x="1208" y="704" width="4" height="21" fill="rgba(0,255,0,0.66)"/>
<rect x="1214" y="704" width="4" height="21" fill="rgba(0,255,0,0.66)"/>
<rect x="1221" y="703" width="4" height="22" fill="rgba(0,255,0,0.66)"/>
<rect x="1227" y="701" width="4" height="24" fill="rgba(0,255,0,0.66)"/>
<rect x="10" y="724" width="4" height="2" fill="rgba(128,128,128,0.72)"/>
<rect x="10" y="722" width="2" height="6" fill="rgba(128,128,128,0.72)"/>
<rect x="14" y="724" width="6" height="2" fill="rgba(128,128,128,0.72)"/>
<rect x="16" y="722" width="2" height="6" fill="rgba(128,128,128,0.72)"/>
<rect x="20" y="724" width="6" height="2" fill="rgba(128,128,128,0.72)"/>
<rect x="22" y="722" width="2" height="6" fill="rgba(128,128,128,0.72)"/>
<rect x="26" y="724" width="6" height="2" fill="rgba(128,128,128,0.72)"/>
<rect x="28" y="722" width="2" height="6" fill="rgba(128,128,128,0.72)"/>
<rect x="33" y="724" width="6" height="2" fill="rgba(128,128,128,0.72)"/>
<rect x="35" y="722" width="2" height="6" fill="rgba(128,128,128,0.72)"/>
<rect x="39" y="724" width="6" height="2" fill="rgba(128,128,128,0.72)"/>
<rect x="41" y="722" width="2" height="6" fill="rgba(128,128,128,0.72)"/>
<rect x="45" y="724" width="6" height="2" fill="rgba(128,128,128,0.72)"/>
<rect x="47" y="722" width="2" height="6" fill="rgba(128,128,128,0.72)"/>
<rect x="51" y="724" width="6" height="2" fill="rgba(128,128,128,0.72)"/>
<rect x="53" y="722" width="2" height="6" fill="rgba(128,128,128,0.72)"/>
<rect x="57" y="724" width="6" height="2" fill="rgba(128,128,128,0.72)"/>
<rect x="59" y="722" width="2" height="6" fill="rgba(128,128,128,0.72)"/>
<rect x="64" y="724" width="6" height="2" fill="rgba(128,128,128,0.72)"/>
<rect x="66" y="722" width="2" height="6" fill="rgba(128,128,128,0.72)"/>
<rect x="70" y="724" width="6" height="2" fill="rgba(128,128,128,0.72)"/>
<rect x="72" y="722" width="2" height="6" fill="rgba(128,128,128,0.72)"/>
<rect x="76" y="724" width="6" height="2" fill="rgba(128,128,128,0.72)"/>
<rect x="78" y="722" width="2" height="6" fill="rgba(128,128,128,0.72)"/>
<rect x="82" y="724" width="6" height="2" fill="rgba(128,128,128,0.72)"/>
<rect x="84" y="722" width="2" height="6" fill="rgba(128,128,128,0.72)"/>
<rect x="89" y="724" width="6" height="2" fill="rgba(128,128,128,0.72)"/>
<rect x="91" y="722" width="2" height="6" fill="rgba(128,128,128,0.72)"/>
<rect x="95" y="724" width="6" height="2" fill="rgba(128,128,128,0.72)"/>
<rect x="97" y="722" width="2" height="6" fill="rgba(128,128,128,0.72)"/>
<rect x="101" y="724" width="6" height="2" fill="rgba(128,128,128,0.72)"/>
<rect x="103" y="722" width="2" height="6" fill="rgba(128,128,128,0.72)"/>
<rect x="107" y="724" width="6" height="2" fill="rgba(128,128,128,0.72)"/>
<rect x="109" y="722" width="2" height="6" fill="rgba(128,128,128,0.72)"/>
<rect x="113" y="724" width="6" height="2" fill="rgba(128,128,128,0.72)"/>
<rect x="115" y="722" width="2" height="6" fill="rgba(128,128,128,0.72)"/>
<rect x="120" y="724" width="6" height="2" fill="rgba(128,128,128,0.72)"/>
<rect x="122" y="722" width="2" height="6" fill="rgba(128,128,128,0.72)"/>
<rect x="126" y="724" width="6" height="2" fill="rgba(128,128,128,0.72)"/>
<rect x="128" y="722" width="2" height="6" fill="rgba(128,128,128,0.72)"/>
<rect x="132" y="724" width="6" height="2" fill="rgba(128,128,128,0.72)"/>
<rect x="134" y="722" width="2" height="6" fill="rgba(128,128,128,0.72)"/>
<rect x="138" y="724" width="6" height="2" fill="rgba(128,128,128,0.72)"/>
<rect x="140" y="722" width="2" height="6" fill="rgba(128,128,128,0.72)"/>
<rect x="144" y="724" width="6" height="2" fill="rgba(128,128,128,0.72)"/>
<rect x="146" y="722" width="2" height="6" fill="rgba(128,128,128,0.72)"/>
<rect x="151" y="724" width="6" height="2" fill="rgba(128,128,128,0.72)"/>
<rect x="153" y="722" width="2" height="6" fill="rgba(128,128,128,0.72)"/>
<rect x="157" y="724" width="6" height="2" fill="rgba(128,128,128,0.72)"/>
<rect x="159" y="722" width="2" height="6" fill="rgba(128,128,128,0.72)"/>
<rect x="163" y="724" width="6" height="2" fill="rgba(128,128,128,0.72)"/>
<rect x="165" y="722" width="2" height="6" fill="rgba(128,128,128,0.72)"/>
<rect x="169" y="724" width="6" height="2" fill="rgba(128,128,128,0.72)"/>
<rect x="171" y="722" width="2" height="6" fill="rgba(128,128,128,0.72)"/>
<rect x="176" y="724" width="6" height="2" fill="rgba(128,128,128,0.72)"/>
<rect x="178" y="722" width="2" height="6" fill="rgba(128,128,128,0.72)"/>
<rect x="182" y="724" width="6" height="2" fill="rgba(128,128,128,0.72)"/>
<rect x="184" y="722" width="2" height="6" fill="rgba(128,128,128,0.72)"/>
<rect x="188" y="724" width="6" height="2" fill="rgba(128,128,128,0.72)"/>
<rect x="190" y="722" width="2" height="6" fill="rgba(128,128,128,0.72)"/>
<rect x="194" y="724" width="6" height="2" fill="rgba(128,128,128,0.72)"/>
<rect x="196" y="722" width="2" height="6" fill="rgba(128,128,128,0.72)"/>
<rect x="200" y="724" width="6" height="2" fill="rgba(128,128,128,0.72)"/>
<rect x="202" y="722" width="2" height="6" fill="rgba(128,128,128,0.72)"/>
<rect x="207" y="724" width="6" height="2" fill="rgba(128,128,128,0.72)"/>
<rect x="209" y="722" width="2" height="6" fill="rgba(128,128,128,0.72)"/>
<rect x="213" y="724" width="6" height="2" fill="rgba(128,128,128,0.72)"/>
<rect x="215" y="722" width="2" height="6" fill="rgba(128,128,128,0.72)"/>
<rect x="219" y="724" width="6" height="2" fill="rgba(128,128,128,0.72)"/>
<rect x="221" y="722" width="2" height="6" fill="rgba(128,128,128,0.72)"/>
<rect x="225" y="724" width="6" height="2" fill="rgba(128,128,128,0.72)"/>
<rect x="227" y="722" width="2" height="6" fill="rgba(128,128,128,0.72)"/>
<rect x="232" y="724" width="6" height="2" fill="rgba(128,128,128,0.72)"/>
<rect x="234" y="722" width="2" height="6" fill="rgba(128,128,128,0.72)"/>
<rect x="238" y="724" width="6" height="2" fill="rgba(128,128,128,0.72)"/>
<rect x="240" y="722" width="2" height="6" fill="rgba(128,128,128,0.72)"/>
<rect x="244" y="724" width="6" height="2" fill="rgba(20,20,20,0.85)"/>
<rect x="246" y="722" width="2" height="6" fill="rgba(20,20,20,0.85)"/>
<rect x="250" y="724" width="6" height="2" fill="rgba(20,20,20,0.85)"/>
<rect x="252" y="722" width="2" height="6" fill="rgba(20,20,20,0.85)"/>
<rect x="256" y="724" width="6" height="2" fill="rgba(128,128,128,0.72)"/>
<rect x="258" y="722" width="2" height="6" fill="rgba(128,128,128,0.72)"/>
<rect x="263" y="724" width="6" height="2" fill="rgba(128,128,128,0.72)"/>
<rect x="265" y="722" width="2" height="6" fill="rgba(128,128,128,0.72)"/>
<rect x="269" y="724" width="6" height="2" fill="rgba(128,128,128,0.72)"/>
<rect x="271" y="722" width="2" height="6" fill="rgba(128,128,128,0.72)"/>
<rect x="275" y="724" width="6" height="2" fill="rgba(128,128,128,0.72)"/>
<rect x="277" y="722" width="2" height="6" fill="rgba(128,128,128,0.72)"/>
<rect x="281" y="724" width="6" height="2" fill="rgba(128,128,128,0.72)"/>
<rect x="283" y="722" width="2" height="6" fill="rgba(128,128,128,0.72)"/>
<rect x="287" y="724" width="6" height="2" fill="rgba(128,128,128,0.72)"/>
<rect x="289" y="722" width="2" height="6" fill="rgba(128,128,128,0.72)"/>
<rect x="294" y="724" width="6" height="2" fill="rgba(128,128,128,0.72)"/>
<rect x="296" y="722" width="2" height="6" fill="rgba(128,128,128,0.72)"/>
<rect x="300" y="724" width="6" height="2" fill="rgba(128,128,128,0.72)"/>
<rect x="302" y="722" width="2" height="6" fill="rgba(128,128,128,0.72)"/>
<rect x="306" y="724" width="6" height="2" fill="rgba(128,128,128,0.72)"/>
<rect x="308" y="722" width="2" height="6" fill="rgba(128,128,128,0.72)"/>
<rect x="312" y="724" width="6" height="2" fill="rgba(128,128,128,0.72)"/>
<rect x="314" y="722" width="2" height="6" fill="rgba(128,128,128,0.72)"/>
<rect x="319" y="724" width="6" height="2" fill="rgba(128,128,128,0.72)"/>
<rect x="321" y="722" width="2" height="6" fill="rgba(128,128,128,0.72)"/>
<rect x="325" y="724" width="6" height="2" fill="rgba(128,128,128,0.72)"/>
<rect x="327" y="722" width="2" height="6" fill="rgba(128,128,128,0.72)"/>
<rect x="331" y="724" width="6" height="2" fill="rgba(128,128,128,0.72)"/>
<rect x="333" y="722" width="2" height="6" fill="rgba(128,128,128,0.72)"/>
<rect x="337" y="724" width="6" height="2" fill="rgba(128,128,128,0.72)"/>
<rect x="339" y="722" width="2" height="6" fill="rgba(128,128,128,0.72)"/>
<rect x="343" y="724" width="6" height="2" fill="rgba(128,128,128,0.72)"/>
<rect x="345" y="722" width="2" height="6" fill="rgba(128,128,128,0.72)"/>
<rect x="350" y="724" width="6" height="2" fill="rgba(128,128,128,0.72)"/>
<rect x="352" y="722" width="2" height="6" fill="rgba(128,128,128,0.72)"/>
<rect x="356" y="724" width="6" height="2" fill="rgba(128,128,128,0.72)"/>
<rect x="358" y="722" width="2" height="6" fill="rgba(128,128,128,0.72)"/>
<rect x="362" y="724" width="6" height="2" fill="rgba(128,128,128,0.72)"/>
<rect x="364" y="722" width="2" height="6" fill="rgba(128,128,128,0.72)"/>
<rect x="368" y="724" width="6" height="2" fill="rgba(128,128,128,0.72)"/>
<rect x="370" y="722" width="2" height="6" fill="rgba(128,128,128,0.72)"/>
<rect x="374" y="724" width="6" height="2" fill="rgba(128,128,128,0.72)"/>
<rect x="376" y="722" width="2" height="6" fill="rgba(128,128,128,0.72)"/>
<rect x="381" y="724" width="6" height="2" fill="rgba(128,128,128,0.72)"/>
<rect x="383" y="722" width="2" height="6" fill="rgba(128,128,128,0.72)"/>
<rect x="387" y="724" width="6" height="2" fill="rgba(128,128,128,0.72)"/>
<rect x="389" y="722" width="2" height="6" fill="rgba(128,128,128,0.72)"/>
<rect x="393" y="724" width="6" height="2" fill="rgba(128,128,128,0.72)"/>
<rect x="395" y="722" width="2" height="6" fill="rgba(128,128,128,0.72)"/>
<rect x="399" y="724" width="6" height="2" fill="rgba(128,128,128,0.72)"/>
<rect x="401" y="722" width="2" height="6" fill="rgba(128,128,128,0.72)"/>
<rect x="406" y="724" width="6" height="2" fill="rgba(128,128,128,0.72)"/>
<rect x="408" y="722" width="2" height="6" fill="rgba(128,128,128,0.72)"/>
<rect x="412" y="724" width="6" height="2" fill="rgba(128,128,128,0.72)"/>
<rect x="414" y="722" width="2" height="6" fill="rgba(128,128,128,0.72)"/>
<rect x="418" y="724" width="6" height="2" fill="rgba(128,128,128,0.72)"/>
<rect x="420" y="722" width="2" height="6" fill="rgba(128,128,128,0.72)"/>
<rect x="424" y="724" width="6" height="2" fill="rgba(128,128,128,0.72)"/>
<rect x="426" y="722" width="2" height="6" fill="rgba(128,128,128,0.72)"/>
<rect x="430" y="724" width="6" height="2" fill="rgba(128,128,128,0.72)"/>
<rect x="432" y="722" width="2" height="6" fill="rgba(128,128,128,0.72)"/>
<rect x="437" y="724" width="6" height="2" fill="rgba(128,128,128,0.72)"/>
<rect x="439" y="722" width="2" height="6" fill="rgba(128,128,128,0.72)"/>
<rect x="443" y="724" width="6" height="2" fill="rgba(128,128,128,0.72)"/>
<rect x="445" y="722" width="2" height="6" fill="rgba(128,128,128,0.72)"/>
<rect x="449" y="724" width="6" height="2" fill="rgba(128,128,128,0.72)"/>
<rect x="451" y="722" width="2" height="6" fill="rgba(128,128,128,0.72)"/>
<rect x="455" y="724" width="6" height="2" fill="rgba(128,128,128,0.72)"/>
<rect x="457" y="722" width="2" height="6" fill="rgba(128,128,128,0.72)"/>
<rect x="461" y="724" width="6" height="2" fill="rgba(128,128,128,0.72)"/>
<rect x="463" y="722" width="2" height="6" fill="rgba(128,128,128,0.72)"/>
<rect x="468" y="724" width="6" height="2" fill="rgba(128,128,128,0.72)"/>
<rect x="470" y="722" width="2" height="6" fill="rgba(128,128,128,0.72)"/>
<rect x="474" y="724" width="6" height="2" fill="rgba(128,128,128,0.72)"/>
<rect x="476" y="722" width="2" height="6" fill="rgba(128,128,128,0.72)"/>
<rect x="480" y="724" width="6" height="2" fill="rgba(128,128,128,0.72)"/>
<rect x="482" y="722" width="2" height="6" fill="rgba(128,128,128,0.72)"/>
<rect x="486" y="724" width="6" height="2" fill="rgba(128,128,128,0.72)"/>
<rect x="488" y="722" width="2" height="6" fill="rgba(128,128,128,0.72)"/>
<rect x="493" y="724" width="6" height="2" fill="rgba(128,128,128,0.72)"/>
<rect x="495" y="722" width="2" height="6" fill="rgba(128,128,128,0.72)"/>
<rect x="499" y="724" width="6" height="2" fill="rgba(128,128,128,0.72)"/>
<rect x="501" y="722" width="2" height="6" fill="rgba(128,128,128,0.72)"/>
<rect x="505" y="724" width="6" height="2" fill="rgba(128,128,128,0.72)"/>
<rect x="507" y="722" width="2" height="6" fill="rgba(128,128,128,0.72)"/>
<rect x="511" y="724" width="6" height="2" fill="rgba(128,128,128,0.72)"/>
<rect x="513" y="722" width="2" height="6" fill="rgba(128,128,128,0.72)"/>
<rect x="517" y="724" width="6" height="2" fill="rgba(128,128,128,0.72)"/>
<rect x="519" y="722" width="2" height="6" fill="rgba(128,128,128,0.72)"/>
<rect x="524" y="724" width="6" height="2" fill="rgba(128,128,128,0.72)"/>
<rect x="526" y="722" width="2" height="6" fill="rgba(128,128,128,0.72)"/>
<rect x="530" y="724" width="6" height="2" fill="rgba(128,128,128,0.72)"/>
<rect x="532" y="722" width="2" height="6" fill="rgba(128,128,128,0.72)"/>
<rect x="536" y="724" width="6" height="2" fill="rgba(128,128,128,0.72)"/>
<rect x="538" y="722" width="2" height="6" fill="rgba(128,128,128,0.72)"/>
<rect x="542" y="724" width="6" height="2" fill="rgba(128,128,128,0.72)"/>
<rect x="544" y="722" width="2" height="6" fill="rgba(128,128,128,0.72)"/>
<rect x="548" y="724" width="6" height="2" fill="rgba(128,128,128,0.72)"/>
<rect x="550" y="722" width="2" height="6" fill="rgba(128,128,128,0.72)"/>
<rect x="555" y="724" width="6" height="2" fill="rgba(128,128,128,0.72)"/>
<rect x="557" y="722" width="2" height="6" fill="rgba(128,128,128,0.72)"/>
<rect x="561" y="724" width="6" height="2" fill="rgba(128,128,128,0.72)"/>
<rect x="563" y="722" width="2" height="6" fill="rgba(128,128,128,0.72)"/>
<rect x="567" y="724" width="6" height="2" fill="rgba(128,128,128,0.72)"/>
<rect x="569" y="722" width="2" height="6" fill="rgba(128,128,128,0.72)"/>
<rect x="573" y="724" width="6" height="2" fill="rgba(128,128,128,0.72)"/>
<rect x="575" y="722" width="2" height="6" fill="rgba(128,128,128,0.72)"/>
<rect x="580" y="724" width="6" height="2" fill="rgba(128,128,128,0.72)"/>
<rect x="582" y="722" width="2" height="6" fill="rgba(128,128,128,0.72)"/>
<rect x="586" y="724" width="6" height="2" fill="rgba(128,128,128,0.72)"/>
<rect x="588" y="722" width="2" height="6" fill="rgba(128,128,128,0.72)"/>
<rect x="592" y="724" width="6" height="2" fill="rgba(128,128,128,0.72)"/>
<rect x="594" y="722" width="2" height="6" fill="rgba(128,128,128,0.72)"/>
<rect x="598" y="724" width="6" height="2" fill="rgba(128,128,128,0.72)"/>
<rect x="600" y="722" width="2" height="6" fill="rgba(128,128,128,0.72)"/>
<rect x="604" y="724" width="6" height="2" fill="rgba(128,128,128,0.72)"/>
<rect x="606" y="722" width="2" height="6" fill="rgba(128,128,128,0.72)"/>
<rect x="611" y="724" width="6" height="2" fill="rgba(128,128,128,0.72)"/>
<rect x="613" y="722" width="2" height="6" fill="rgba(128,128,128,0.72)"/>
<rect x="617" y="724" width="6" height="2" fill="rgba(128,128,128,0.72)"/>
<rect x="619" y="722" width="2" height="6" fill="rgba(128,128,128,0.72)"/>
<rect x="623" y="724" width="6" height="2" fill="rgba(128,128,128,0.72)"/>
<rect x="625" y="722" width="2" height="6" fill="rgba(128,128,128,0.72)"/>
<rect x="629" y="724" width="6" height="2" fill="rgba(128,128,128,0.72)"/>
<rect x="631" y="722" width="2" height="6" fill="rgba(128,128,128,0.72)"/>
<rect x="635" y="724" width="6" height="2" fill="rgba(128,128,128,0.72)"/>
<rect x="637" y="722" width="2" height="6" fill="rgba(128,128,128,0.72)"/>
<rect x="642" y="724" width="6" height="2" fill="rgba(128,128,128,0.72)"/>
<rect x="644" y="722" width="2" height="6" fill="rgba(128,128,128,0.72)"/>
<rect x="648" y="724" width="6" height="2" fill="rgba(128,128,128,0.72)"/>
<rect x="650" y="722" width="2" height="6" fill="rgba(128,128,128,0.72)"/>
<rect x="654" y="724" width="6" height="2" fill="rgba(128,128,128,0.72)"/>
<rect x="656" y="722" width="2" height="6" fill="rgba(128,128,128,0.72)"/>
<rect x="660" y="724" width="6" height="2" fill="rgba(128,128,128,0.72)"/>
<rect x="662" y="722" width="2" height="6" fill="rgba(128,128,128,0.72)"/>
<rect x="667" y="724" width="6" height="2" fill="rgba(128,128,128,0.72)"/>
<rect x="669" y="722" width="2" height="6" fill="rgba(128,128,128,0.72)"/>
<rect x="673" y="724" width="6" height="2" fill="rgba(128,128,128,0.72)"/>
<rect x="675" y="722" width="2" height="6" fill="rgba(128,128,128,0.72)"/>
<rect x="679" y="724" width="6" height="2" fill="rgba(128,128,128,0.72)"/>
<rect x="681" y="722" width="2" height="6" fill="rgba(128,128,128,0.72)"/>
<rect x="685" y="724" width="6" height="2" fill="rgba(128,128,128,0.72)"/>
<rect x="687" y="722" width="2" height="6" fill="rgba(128,128,128,0.72)"/>
<rect x="691" y="724" width="6" height="2" fill="rgba(128,128,128,0.72)"/>
<rect x="693" y="722" width="2" height="6" fill="rgba(128,128,128,0.72)"/>
<rect x="698" y="724" width="6" height="2" fill="rgba(128,128,128,0.72)"/>
<rect x="700" y="722" width="2" height="6" fill="rgba(128,128,128,0.72)"/>
<rect x="704" y="724" width="6" height="2" fill="rgba(128,128,128,0.72)"/>
<rect x="706" y="722" width="2" height="6" fill="rgba(128,128,128,0.72)"/>
<rect x="710" y="724" width="6" height="2" fill="rgba(20,20,20,0.85)"/>
<rect x="712" y="722" width="2" height="6" fill="rgba(20,20,20,0.85)"/>
<rect x="716" y="724" width="6" height="2" fill="rgba(128,128,128,0.72)"/>
<rect x="718" y="722" width="2" height="6" fill="rgba(128,128,128,0.72)"/>
<rect x="722" y="724" width="6" height="2" fill="rgba(128,128,128,0.72)"/>
<rect x="724" y="722" width="2" height="6" fill="rgba(128,128,128,0.72)"/>
<rect x="729" y="724" width="6" height="2" fill="rgba(128,128,128,0.72)"/>
<rect x="731" y="722" width="2" height="6" fill="rgba(128,128,128,0.72)"/>
<rect x="735" y="724" width="6" height="2" fill="rgba(128,128,128,0.72)"/>
<rect x="737" y="722" width="2" height="6" fill="rgba(128,128,128,0.72)"/>
<rect x="741" y="724" width="6" height="2" fill="rgba(128,128,128,0.72)"/>
<rect x="743" y="722" width="2" height="6" fill="rgba(128,128,128,0.72)"/>
<rect x="747" y="724" width="6" height="2" fill="rgba(128,128,128,0.72)"/>
<rect x="749" y="722" width="2" height="6" fill="rgba(128,128,128,0.72)"/>
<rect x="754" y="724" width="6" height="2" fill="rgba(128,128,128,0.72)"/>
<rect x="756" y="722" width="2" height="6" fill="rgba(128,128,128,0.72)"/>
<rect x="760" y="724" width="6" height="2" fill="rgba(128,128,128,0.72)"/>
<rect x="762" y="722" width="2" height="6" fill="rgba(128,128,128,0.72)"/>
<rect x="766" y="724" width="6" height="2" fill="rgba(128,128,128,0.72)"/>
<rect x="768" y="722" width="2" height="6" fill="rgba(128,128,128,0.72)"/>
<rect x="772" y="724" width="6" height="2" fill="rgba(128,128,128,0.72)"/>
<rect x="774" y="722" width="2" height="6" fill="rgba(128,128,128,0.72)"/>
<rect x="778" y="724" width="6" height="2" fill="rgba(128,128,128,0.72)"/>
<rect x="780" y="722" width="2" height="6" fill="rgba(128,128,128,0.72)"/>
<rect x="785" y="724" width="6" height="2" fill="rgba(128,128,128,0.72)"/>
<rect x="787" y="722" width="2" height="6" fill="rgba(128,128,128,0.72)"/>
<rect x="791" y="724" width="6" height="2" fill="rgba(128,128,128,0.72)"/>
<rect x="793" y="722" width="2" height="6" fill="rgba(128,128,128,0.72)"/>
<rect x="797" y="724" width="6" height="2" fill="rgba(128,128,128,0.72)"/>
<rect x="799" y="722" width="2" height="6" fill="rgba(128,128,128,0.72)"/>
<rect x="803" y="724" width="6" height="2" fill="rgba(128,128,128,0.72)"/>
<rect x="805" y="722" width="2" height="6" fill="rgba(128,128,128,0.72)"/>
<rect x="809" y="724" width="6" height="2" fill="rgba(128,128,128,0.72)"/>
<rect x="811" y="722" width="2" height="6" fill="rgba(128,128,128,0.72)"/>
<rect x="816" y="724" width="6" height="2" fill="rgba(128,128,128,0.72)"/>
<rect x="818" y="722" width="2" height="6" fill="rgba(128,128,128,0.72)"/>
<rect x="822" y="724" width="6" height="2" fill="rgba(128,128,128,0.72)"/>
<rect x="824" y="722" width="2" height="6" fill="rgba(128,128,128,0.72)"/>
<rect x="828" y="724" width="6" height="2" fill="rgba(128,128,128,0.72)"/>
<rect x="830" y="722" width="2" height="6" fill="rgba(128,128,128,0.72)"/>
<rect x="834" y="724" width="6" height="2" fill="rgba(20,20,20,0.85)"/>
<rect x="836" y="722" width="2" height="6" fill="rgba(20,20,20,0.85)"/>
<rect x="841" y="724" width="6" height="2" fill="rgba(128,128,128,0.72)"/>
<rect x="843" y="722" width="2" height="6" fill="rgba(128,128,128,0.72)"/>
<rect x="847" y="724" width="6" height="2" fill="rgba(128,128,128,0.72)"/>
<rect x="849" y="722" width="2" height="6" fill="rgba(128,128,128,0.72)"/>
<rect x="853" y="724" width="6" height="2" fill="rgba(128,128,128,0.72)"/>
<rect x="855" y="722" width="2" height="6" fill="rgba(128,128,128,0.72)"/>
<rect x="859" y="724" width="6" height="2" fill="rgba(128,128,128,0.72)"/>
<rect x="861" y="722" width="2" height="6" fill="rgba(128,128,128,0.72)"/>
<rect x="865" y="724" width="6" height="2" fill="rgba(128,128,128,0.72)"/>
<rect x="867" y="722" width="2" height="6" fill="rgba(128,128,128,0.72)"/>
<rect x="872" y="724" width="6" height="2" fill="rgba(128,128,128,0.72)"/>
<rect x="874" y="722" width="2" height="6" fill="rgba(128,128,128,0.72)"/>
<rect x="878" y="724" width="6" height="2" fill="rgba(128,128,128,0.72)"/>
<rect x="880" y="722" width="2" height="6" fill="rgba(128,128,128,0.72)"/>
<rect x="884" y="724" width="6" height="2" fill="rgba(128,128,128,0.72)"/>
<rect x="886" y="722" width="2" height="6" fill="rgba(128,128,128,0.72)"/>
<rect x="890" y="724" width="6" height="2" fill="rgba(128,128,128,0.72)"/>
<rect x="892" y="722" width="2" height="6" fill="rgba(128,128,128,0.72)"/>
<rect x="897" y="724" width="6" height="2" fill="rgba(128,128,128,0.72)"/>
<rect x="899" y="722" width="2" height="6" fill="rgba(128,128,128,0.72)"/>
<rect x="903" y="724" width="6" height="2" fill="rgba(128,128,128,0.72)"/>
<rect x="905" y="722" width="2" height="6" fill="rgba(128,128,128,0.72)"/>
<rect x="909" y="724" width="6" height="2" fill="rgba(128,128,128,0.72)"/>
<rect x="911" y="722" width="2" height="6" fill="rgba(128,128,128,0.72)"/>
<rect x="915" y="724" width="6" height="2" fill="rgba(128,128,128,0.72)"/>
<rect x="917" y="722" width="2" height="6" fill="rgba(128,128,128,0.72)"/>
<rect x="921" y="724" width="6" height="2" fill="rgba(128,128,128,0.72)"/>
<rect x="923" y="722" width="2" height="6" fill="rgba(128,128,128,0.72)"/>
<rect x="928" y="724" width="6" height="2" fill="rgba(128,128,128,0.72)"/>
<rect x="930" y="722" width="2" height="6" fill="rgba(128,128,128,0.72)"/>
<rect x="934" y="724" width="6" height="2" fill="rgba(128,128,128,0.72)"/>
<rect x="936" y="722" width="2" height="6" fill="rgba(128,128,128,0.72)"/>
<rect x="940" y="724" width="6" height="2" fill="rgba(128,128,128,0.72)"/>
<rect x="942" y="722" width="2" height="6" fill="rgba(128,128,128,0.72)"/>
<rect x="946" y="724" width="6" height="2" fill="rgba(128,128,128,0.72)"/>
<rect x="948" y="722" width="2" height="6" fill="rgba(128,128,128,0.72)"/>
<rect x="952" y="724" width="6" height="2" fill="rgba(128,128,128,0.72)"/>
<rect x="954" y="722" width="2" height="6" fill="rgba(128,128,128,0.72)"/>
<rect x="959" y="724" width="6" height="2" fill="rgba(128,128,128,0.72)"/>
<rect x="961" y="722" width="2" height="6" fill="rgba(128,128,128,0.72)"/>
<rect x="965" y="724" width="6" height="2" fill="rgba(128,128,128,0.72)"/>
<rect x="967" y="722" width="2" height="6" fill="rgba(128,128,128,0.72)"/>
<rect x="971" y="724" width="6" height="2" fill="rgba(128,128,128,0.72)"/>
<rect x="973" y="722" width="2" height="6" fill="rgba(128,128,128,0.72)"/>
<rect x="977" y="724" width="6" height="2" fill="rgba(20,20,20,0.85)"/>
<rect x="979" y="722" width="2" height="6" fill="rgba(20,20,20,0.85)"/>
<rect x="984" y="724" width="6" height="2" fill="rgba(20,20,20,0.85)"/>
<rect x="986" y="722" width="2" height="6" fill="rgba(20,20,20,0.85)"/>
<rect x="990" y="724" width="6" height="2" fill="rgba(20,20,20,0.85)"/>
<rect x="992" y="722" width="2" height="6" fill="rgba(20,20,20,0.85)"/>
<rect x="996" y="724" width="6" height="2" fill="rgba(20,20,20,0.85)"/>
<rect x="998" y="722" width="2" height="6" fill="rgba(20,20,20,0.85)"/>
<rect x="1002" y="724" width="6" height="2" fill="rgba(20,20,20,0.85)"/>
<rect x="1004" y="722" width="2" height="6" fill="rgba(20,20,20,0.85)"/>
<rect x="1008" y="724" width="6" height="2" fill="rgba(128,128,128,0.72)"/>
<rect x="1010" y="722" width="2" height="6" fill="rgba(128,128,128,0.72)"/>
<rect x="1015" y="724" width="6" height="2" fill="rgba(128,128,128,0.72)"/>
<rect x="1017" y="722" width="2" height="6" fill="rgba(128,128,128,0.72)"/>
<rect x="1021" y="724" width="6" height="2" fill="rgba(128,128,128,0.72)"/>
<rect x="1023" y="722" width="2" height="6" fill="rgba(128,128,128,0.72)"/>
<rect x="1027" y="724" width="6" height="2" fill="rgba(128,128,128,0.72)"/>
<rect x="1029" y="722" width="2" height="6" fill="rgba(128,128,128,0.72)"/>
<rect x="1033" y="724" width="6" height="2" fill="rgba(128,128,128,0.72)"/>
<rect x="1035" y="722" width="2" height="6" fill="rgba(128,128,128,0.72)"/>
<rect x="1039" y="724" width="6" height="2" fill="rgba(128,128,128,0.72)"/>
<rect x="1041" y="722" width="2" height="6" fill="rgba(128,128,128,0.72)"/>
<rect x="1046" y="724" width="6" height="2" fill="rgba(128,128,128,0.72)"/>
<rect x="1048" y="722" width="2" height="6" fill="rgba(128,128,128,0.72)"/>
<rect x="1052" y="724" width="6" height="2" fill="rgba(128,128,128,0.72)"/>
<rect x="1054" y="722" width="2" height="6" fill="rgba(128,128,128,0.72)"/>
<rect x="1058" y="724" width="6" height="2" fill="rgba(128,128,128,0.72)"/>
<rect x="1060" y="722" width="2" height="6" fill="rgba(128,128,128,0.72)"/>
<rect x="1064" y="724" width="6" height="2" fill="rgba(128,128,128,0.72)"/>
<rect x="1066" y="722" width="2" height="6" fill="rgba(128,128,128,0.72)"/>
<rect x="1071" y="724" width="6" height="2" fill="rgba(128,128,128,0.72)"/>
<rect x="1073" y="722" width="2" height="6" fill="rgba(128,128,128,0.72)"/>
<rect x="1077" y="724" width="6" height="2" fill="rgba(128,128,128,0.72)"/>
<rect x="1079" y="722" width="2" height="6" fill="rgba(128,128,128,0.72)"/>
<rect x="1083" y="724" width="6" height="2" fill="rgba(128,128,128,0.72)"/>
<rect x="1085" y="722" width="2" height="6" fill="rgba(128,128,128,0.72)"/>
<rect x="1089" y="724" width="6" height="2" fill="rgba(128,128,128,0.72)"/>
<rect x="1091" y="722" width="2" height="6" fill="rgba(128,128,128,0.72)"/>
<rect x="1095" y="724" width="6" height="2" fill="rgba(128,128,128,0.72)"/>
<rect x="1097" y="722" width="2" height="6" fill="rgba(128,128,128,0.72)"/>
<rect x="1102" y="724" width="6" height="2" fill="rgba(128,128,128,0.72)"/>
<rect x="1104" y="722" width="2" height="6" fill="rgba(128,128,128,0.72)"/>
<rect x="1108" y="724" width="6" height="2" fill="rgba(128,128,128,0.72)"/>
<rect x="1110" y="722" width="2" height="6" fill="rgba(128,128,128,0.72)"/>
<rect x="1114" y="724" width="6" height="2" fill="rgba(128,128,128,0.72)"/>
<rect x="1116" y="722" width="2" height="6" fill="rgba(128,128,128,0.72)"/>
<rect x="1120" y="724" width="6" height="2" fill="rgba(128,128,128,0.72)"/>
<rect x="1122" y="722" width="2" height="6" fill="rgba(128,128,128,0.72)"/>
<rect x="1126" y="724" width="6" height="2" fill="rgba(128,128,128,0.72)"/>
<rect x="1128" y="722" width="2" height="6" fill="rgba(128,128,128,0.72)"/>
<rect x="1133" y="724" width="6" height="2" fill="rgba(128,128,128,0.72)"/>
<rect x="1135" y="722" width="2" height="6" fill="rgba(128,128,128,0.72)"/>
<rect x="1139" y="724" width="6" height="2" fill="rgba(128,128,128,0.72)"/>
<rect x="1141" y="722" width="2" height="6" fill="rgba(128,128,128,0.72)"/>
<rect x="1145" y="724" width="6" height="2" fill="rgba(128,128,128,0.72)"/>
<rect x="1147" y="722" width="2" height="6" fill="rgba(128,128,128,0.72)"/>
<rect x="1151" y="724" width="6" height="2" fill="rgba(128,128,128,0.72)"/>
<rect x="1153" y="722" width="2" height="6" fill="rgba(128,128,128,0.72)"/>
<rect x="1158" y="724" width="6" height="2" fill="rgba(128,128,128,0.72)"/>
<rect x="1160" y="722" width="2" height="6" fill="rgba(128,128,128,0.72)"/>
<rect x="1164" y="724" width="6" height="2" fill="rgba(128,128,128,0.72)"/>
<rect x="1166" y="722" width="2" height="6" fill="rgba(128,128,128,0.72)"/>
<rect x="1170" y="724" width="6" height="2" fill="rgba(128,128,128,0.72)"/>
<rect x="1172" y="722" width="2" height="6" fill="rgba(128,128,128,0.72)"/>
<rect x="1176" y="724" width="6" height="2" fill="rgba(128,128,128,0.72)"/>
<rect x="1178" y="722" width="2" height="6" fill="rgba(128,128,128,0.72)"/>
<rect x="1182" y="724" width="6" height="2" fill="rgba(128,128,128,0.72)"/>
<rect x="1184" y="722" width="2" height="6" fill="rgba(128,128,128,0.72)"/>
<rect x="1189" y="724" width="6" height="2" fill="rgba(128,128,128,0.72)"/>
<rect x="1191" y="722" width="2" height="6" fill="rgba(128,128,128,0.72)"/>
<rect x="1195" y="724" width="6" height="2" fill="rgba(128,128,128,0.72)"/>
<rect x="1197" y="722" width="2" height="6" fill="rgba(128,128,128,0.72)"/>
<rect x="1201" y="724" width="6" height="2" fill="rgba(128,128,128,0.72)"/>
<rect x="1203" y="722" width="2" height="6" fill="rgba(128,128,128,0.72)"/>
<rect x="1207" y="724" width="6" height="2" fill="rgba(128,128,128,0.72)"/>
<rect x="1209" y="722" width="2" height="6" fill="rgba(128,128,128,0.72)"/>
<rect x="1213" y="724" width="6" height="2" fill="rgba(128,128,128,0.72)"/>
<rect x="1215" y="722" width="2" height="6" fill="rgba(128,128,128,0.72)"/>
<rect x="1220" y="724" width="6" height="2" fill="rgba(128,128,128,0.72)"/>
<rect x="1222" y="722" width="2" height="6" fill="rgba(128,128,128,0.72)"/>
<rect x="1226" y="724" width="6" height="2" fill="rgba(128,128,128,0.72)"/>
<rect x="1228" y="722" width="2" height="6" fill="rgba(128,128,128,0.72)"/>
</g>
<g shape-rendering="crispEdges">
<rect x="10" y="497" width="1815" height="1" fill="#e0e3eb"/>
<rect x="10" y="572" width="1815" height="1" fill="#e0e3eb"/>
<rect x="10" y="685" width="1815" height="1" fill="#e0e3eb"/>
</g>
<text x="1750.5" y="55.2" font-size="12" fill="#131722" textLength="64.8" lengthAdjust="spacingAndGlyphs">560,000.000</text>
<text x="1750.5" y="102.2" font-size="12" fill="#131722" textLength="64.8" lengthAdjust="spacingAndGlyphs">520,000.000</text>
<text x="1750.5" y="149.2" font-size="12" fill="#131722" textLength="64.8" lengthAdjust="spacingAndGlyphs">480,000.000</text>
<text x="1750.5" y="197.2" font-size="12" fill="#131722" textLength="64.8" lengthAdjust="spacingAndGlyphs">440,000.000</text>
<text x="1750.5" y="244.2" font-size="12" fill="#131722" textLength="64.8" lengthAdjust="spacingAndGlyphs">400,000.000</text>
<text x="1750.5" y="291.2" font-size="12" fill="#131722" textLength="64.8" lengthAdjust="spacingAndGlyphs">360,000.000</text>
<text x="1750.5" y="339.2" font-size="12" fill="#131722" textLength="64.8" lengthAdjust="spacingAndGlyphs">320,000.000</text>
<text x="1750.5" y="386.2" font-size="12" fill="#131722" textLength="64.8" lengthAdjust="spacingAndGlyphs">280,000.000</text>
<text x="1750.5" y="433.2" font-size="12" fill="#131722" textLength="64.8" lengthAdjust="spacingAndGlyphs">240,000.000</text>
<text x="1750.5" y="481.2" font-size="12" fill="#131722" textLength="64.8" lengthAdjust="spacingAndGlyphs">200,000.000</text>
<text x="1750.5" y="569.7" font-size="12" fill="#131722" textLength="23.2" lengthAdjust="spacingAndGlyphs">0.00</text>
<text x="1750.5" y="631.8" font-size="12" fill="#131722" textLength="29.2" lengthAdjust="spacingAndGlyphs">60.00</text>
<text x="1750.5" y="663.8" font-size="12" fill="#131722" textLength="29.2" lengthAdjust="spacingAndGlyphs">40.00</text>
<text x="1750.5" y="697.2" font-size="12" fill="#131722" textLength="52.5" lengthAdjust="spacingAndGlyphs">50,000.00</text>
<text x="1750" y="758.6" font-size="12" fill="#131722" textLength="59" lengthAdjust="spacingAndGlyphs">−50,000.00</text>
<clipPath id="c3"><rect x="1742" y="497.5" width="83" height="75"/></clipPath><g clip-path="url(#c3)">
<path d="M1742 486 h41 q2 0 2 2 v13 q0 2 -2 2 h-41Z" fill="#800080"/>
<text x="1750.5" y="498.1" font-size="12" fill="#fff" font-weight="bold" textLength="29.5" lengthAdjust="spacingAndGlyphs">89.90</text>
</g>
<path d="M1742 129.3 h77 q2 0 2 2 v13 q0 2 -2 2 h-77Z" fill="#089981"/>
<text x="1750.5" y="141.4" font-size="12" fill="#fff" font-weight="bold" textLength="65.5" lengthAdjust="spacingAndGlyphs">488,250.000</text>
<path d="M1742 153 h71 q2 0 2 2 v13 q0 2 -2 2 h-71Z" fill="#f23645"/>
<text x="1750.5" y="165.1" font-size="12" fill="#fff" font-weight="bold" textLength="59" lengthAdjust="spacingAndGlyphs">467,235.41</text>
<path d="M1742 170 h71 q2 0 2 2 v13 q0 2 -2 2 h-71Z" fill="#2962ff"/>
<text x="1750.5" y="182.1" font-size="12" fill="#fff" font-weight="bold" textLength="59" lengthAdjust="spacingAndGlyphs">458,001.00</text>
<path d="M1742 187 h77 q2 0 2 2 v13 q0 2 -2 2 h-77Z" fill="#ff6d00"/>
<text x="1750.5" y="199.1" font-size="12" fill="#fff" font-weight="bold" textLength="65.5" lengthAdjust="spacingAndGlyphs">455,614.789</text>
<path d="M1742 204 h71 q2 0 2 2 v13 q0 2 -2 2 h-71Z" fill="#2962ff"/>
<text x="1750.5" y="216.1" font-size="12" fill="#fff" font-weight="bold" textLength="59" lengthAdjust="spacingAndGlyphs">448,766.59</text>
<path d="M1742 221 h77 q2 0 2 2 v13 q0 2 -2 2 h-77Z" fill="#43a047"/>
<text x="1750.5" y="233.1" font-size="12" fill="#fff" font-weight="bold" textLength="65.5" lengthAdjust="spacingAndGlyphs">425,234.830</text>
<path d="M1742 256 h71 q2 0 2 2 v13 q0 2 -2 2 h-71Z" fill="#ff0000"/>
<text x="1750.5" y="268.1" font-size="12" fill="#fff" font-weight="bold" textLength="59" lengthAdjust="spacingAndGlyphs">380,600.00</text>
<path d="M1742 329.5 h77 q2 0 2 2 v13 q0 2 -2 2 h-77Z" fill="#2196f3"/>
<text x="1750.5" y="341.6" font-size="12" fill="#fff" font-weight="bold" textLength="65.5" lengthAdjust="spacingAndGlyphs">319,162.874</text>
<path d="M1742 355 h71 q2 0 2 2 v13 q0 2 -2 2 h-71Z" fill="#233dee"/>
<text x="1750.5" y="367.1" font-size="12" fill="#fff" font-weight="bold" textLength="59" lengthAdjust="spacingAndGlyphs">297,149.00</text>
<path d="M1742 372 h58 q2 0 2 2 v13 q0 2 -2 2 h-58Z" fill="#22ab94"/>
<text x="1750.5" y="384.1" font-size="12" fill="#fff" font-weight="bold" textLength="46.5" lengthAdjust="spacingAndGlyphs">12.665M</text>
<path d="M1742 503 h41 q2 0 2 2 v13 q0 2 -2 2 h-41Z" fill="#000000"/>
<text x="1750.5" y="515.1" font-size="12" fill="#fff" font-weight="bold" textLength="29.5" lengthAdjust="spacingAndGlyphs">89.90</text>
<path d="M1742 587 h41 q2 0 2 2 v13 q0 2 -2 2 h-41Z" fill="#7e57c2"/>
<text x="1750.5" y="599.1" font-size="12" fill="#fff" font-weight="bold" textLength="29.5" lengthAdjust="spacingAndGlyphs">80.19</text>
<path d="M1742 693 h64 q2 0 2 2 v13 q0 2 -2 2 h-64Z" fill="#00ff00"/>
<text x="1750.5" y="705.1" font-size="12" fill="#000" textLength="52" lengthAdjust="spacingAndGlyphs">39,784.27</text>
<path d="M1742 717 h35 q2 0 2 2 v13 q0 2 -2 2 h-35Z" fill="#808080"/>
<text x="1750.5" y="729.1" font-size="12" fill="#fff" font-weight="bold" textLength="23.5" lengthAdjust="spacingAndGlyphs">0.00</text>
<text x="79.4" y="797.6" font-size="12" fill="#131722" text-anchor="middle" textLength="19.2" lengthAdjust="spacingAndGlyphs">Dec</text>
<text x="222.5" y="797.6" font-size="12" fill="#131722" font-weight="bold" text-anchor="middle" textLength="27" lengthAdjust="spacingAndGlyphs">2025</text>
<text x="340.3" y="797.6" font-size="12" fill="#131722" text-anchor="middle" textLength="19" lengthAdjust="spacingAndGlyphs">Feb</text>
<text x="446.3" y="797.6" font-size="12" fill="#131722" text-anchor="middle" textLength="19" lengthAdjust="spacingAndGlyphs">Mar</text>
<text x="558.3" y="797.6" font-size="12" fill="#131722" text-anchor="middle" textLength="18" lengthAdjust="spacingAndGlyphs">Apr</text>
<text x="682.3" y="797.6" font-size="12" fill="#131722" text-anchor="middle" textLength="20.5" lengthAdjust="spacingAndGlyphs">May</text>
<text x="812.6" y="797.6" font-size="12" fill="#131722" text-anchor="middle" textLength="18.3" lengthAdjust="spacingAndGlyphs">Jun</text>
<text x="893.4" y="797.6" font-size="12" fill="#131722" text-anchor="middle" textLength="6.3" lengthAdjust="spacingAndGlyphs">7</text>
<text x="1005.3" y="797.6" font-size="12" fill="#131722" text-anchor="middle" textLength="19.5" lengthAdjust="spacingAndGlyphs">Aug</text>
<text x="1136.3" y="797.6" font-size="12" fill="#131722" text-anchor="middle" textLength="18.7" lengthAdjust="spacingAndGlyphs">Sep</text>
<text x="1260.4" y="797.6" font-size="12" fill="#131722" text-anchor="middle" textLength="18.5" lengthAdjust="spacingAndGlyphs">Oct</text>
<text x="1390.3" y="797.6" font-size="12" fill="#131722" text-anchor="middle" textLength="19.5" lengthAdjust="spacingAndGlyphs">Nov</text>
<text x="1527.3" y="797.6" font-size="12" fill="#131722" text-anchor="middle" textLength="19.2" lengthAdjust="spacingAndGlyphs">Dec</text>
<text x="1670.4" y="797.6" font-size="12" fill="#131722" font-weight="bold" text-anchor="middle" textLength="26.8" lengthAdjust="spacingAndGlyphs">2026</text>
<text x="18.3" y="28.3" font-size="12" fill="#131722" textLength="201.5" lengthAdjust="spacingAndGlyphs" direction="ltr" style='font-family:"Liberation Sans","DejaVu Sans",sans-serif'>ص.س. در اوراق بهادار مبتنی بر طلای کیان, 1D</text>
<text x="228.3" y="28.3" font-size="12" fill="#131722">O</text>
<text x="235.8" y="28.3" font-size="12" fill="#089981" textLength="65" lengthAdjust="spacingAndGlyphs">486,150.000</text>
<text x="309.2" y="28.3" font-size="12" fill="#131722">H</text>
<text x="316.7" y="28.3" font-size="12" fill="#089981" textLength="64.6" lengthAdjust="spacingAndGlyphs">488,739.000</text>
<text x="390" y="28.3" font-size="12" fill="#131722">L</text>
<text x="395.8" y="28.3" font-size="12" fill="#089981" textLength="64.2" lengthAdjust="spacingAndGlyphs">485,000.000</text>
<text x="468.3" y="28.3" font-size="12" fill="#131722">C</text>
<text x="475" y="28.3" font-size="12" fill="#089981" textLength="65" lengthAdjust="spacingAndGlyphs">488,250.000</text>
<text x="548.3" y="28.3" font-size="12" fill="#089981" textLength="63.7" lengthAdjust="spacingAndGlyphs">+16,361.000</text>
<text x="617.8" y="28.3" font-size="12" fill="#089981" textLength="44.2" lengthAdjust="spacingAndGlyphs">(+3.47%)</text>
<text x="18.3" y="45.4" font-size="12" fill="#131722" textLength="37.7" lengthAdjust="spacingAndGlyphs">Volume</text>
<text x="64" y="45.4" font-size="12" fill="#22ab94" textLength="46.5" lengthAdjust="spacingAndGlyphs">12.665M</text>
<text x="18.3" y="62.5" font-size="12" fill="#131722" textLength="91.7" lengthAdjust="spacingAndGlyphs">EMA Cross (9, 26)</text>
<text x="118.7" y="62.5" font-size="12" fill="#ff6d00" textLength="64.6" lengthAdjust="spacingAndGlyphs">455,614.789</text>
<text x="190.8" y="62.5" font-size="12" fill="#43a047" textLength="65" lengthAdjust="spacingAndGlyphs">425,234.830</text>
<text x="264" y="62.5" font-size="12" fill="#131722" textLength="17.7" lengthAdjust="spacingAndGlyphs">n/a</text>
<text x="18.3" y="79.6" font-size="12" fill="#131722" textLength="81.7" lengthAdjust="spacingAndGlyphs">HalfTrend (2, 2)</text>
<text x="108" y="79.6" font-size="12" fill="#2962ff" textLength="60" lengthAdjust="spacingAndGlyphs">458,001.00</text>
<text x="176.7" y="79.6" font-size="12" fill="#f23645" textLength="58.3" lengthAdjust="spacingAndGlyphs">467,235.41</text>
<text x="243.3" y="79.6" font-size="12" fill="#2962ff" textLength="58.7" lengthAdjust="spacingAndGlyphs">448,766.59</text>
<text x="310" y="79.6" font-size="12" fill="#131722" textLength="18.3" lengthAdjust="spacingAndGlyphs">n/a</text>
<text x="336.3" y="79.6" font-size="12" fill="#131722" textLength="18.4" lengthAdjust="spacingAndGlyphs">n/a</text>
<text x="362.5" y="79.6" font-size="12" fill="#131722" textLength="18.5" lengthAdjust="spacingAndGlyphs">n/a</text>
<text x="389" y="79.6" font-size="12" fill="#131722" textLength="19" lengthAdjust="spacingAndGlyphs">n/a</text>
<text x="18.3" y="96.7" font-size="12" fill="#131722" textLength="295" lengthAdjust="spacingAndGlyphs">Support And Resistance Levels With Breaks (15, 15, 20)</text>
<text x="321.7" y="96.7" font-size="12" fill="#ff0000" textLength="58.3" lengthAdjust="spacingAndGlyphs">380,600.00</text>
<text x="387.8" y="96.7" font-size="12" fill="#233dee" textLength="58.9" lengthAdjust="spacingAndGlyphs">297,149.00</text>
<text x="454" y="96.7" font-size="12" fill="#131722" textLength="18.5" lengthAdjust="spacingAndGlyphs">n/a</text>
<text x="480.8" y="96.7" font-size="12" fill="#131722" textLength="18.2" lengthAdjust="spacingAndGlyphs">n/a</text>
<text x="507" y="96.7" font-size="12" fill="#131722" textLength="18.5" lengthAdjust="spacingAndGlyphs">n/a</text>
<text x="533.3" y="96.7" font-size="12" fill="#131722" textLength="18.7" lengthAdjust="spacingAndGlyphs">n/a</text>
<text x="18" y="516.8" font-size="12" fill="#131722" textLength="93.3" lengthAdjust="spacingAndGlyphs">DTOsc (8, 5, 3, 3)</text>
<text x="119" y="516.8" font-size="12" fill="#000" textLength="29.7" lengthAdjust="spacingAndGlyphs">89.90</text>
<text x="156.3" y="516.8" font-size="12" fill="#800080" textLength="29" lengthAdjust="spacingAndGlyphs">89.90</text>
<text x="193.3" y="516.8" font-size="12" fill="#131722" textLength="18.7" lengthAdjust="spacingAndGlyphs">n/a</text>
<text x="18" y="591.8" font-size="12" fill="#131722" textLength="40.3" lengthAdjust="spacingAndGlyphs">RSI (14)</text>
<text x="66.7" y="591.8" font-size="12" fill="#7e57c2" textLength="29.1" lengthAdjust="spacingAndGlyphs">80.19</text>
<text x="18" y="705" font-size="12" fill="#131722" textLength="149.2" lengthAdjust="spacingAndGlyphs">SQZMOM_LB (20, 2, 20, 1.5)</text>
<text x="175" y="705" font-size="12" fill="#00ff00" textLength="52.5" lengthAdjust="spacingAndGlyphs">39,784.27</text>
<text x="235" y="705" font-size="12" fill="#808080" textLength="23" lengthAdjust="spacingAndGlyphs">0.00</text>
<rect x="10" y="10" width="589" height="55" fill="rgba(255,255,255,0.85)"/>
<rect x="10" y="65" width="275" height="36.5" fill="rgba(255,255,255,0.85)"/>
<rect x="10" y="101.5" width="152.5" height="38" fill="rgba(255,255,255,0.85)"/>
<rect x="10" y="139.5" width="107.5" height="37.5" fill="rgba(255,255,255,0.85)"/>
<text x="590" y="43.2" font-size="17" fill="#000" direction="rtl" text-anchor="start" textLength="578.5" lengthAdjust="spacingAndGlyphs" style='font-family:"Liberation Serif", "DejaVu Sans", serif'>گوهر (ص.س. در اوراق بهادار مبتنی بر طلای کیان) / صندوق سرمایه گذاری قابل معامله</text>
<text x="235" y="82.3" font-size="17" fill="#000" direction="rtl" text-anchor="start" textLength="223.5" lengthAdjust="spacingAndGlyphs" style='font-family:"Liberation Serif", "DejaVu Sans", serif'>روزانه / آخرین قیمت / بدون تعدیل</text>
<text x="10.8" y="126.5" font-size="19.5" fill="#000" textLength="140.6" lengthAdjust="spacingAndGlyphs" style='font-family:"Liberation Serif", serif'>1404/07/05 10:52</text>
<text x="10.6" y="162.5" font-size="19.5" fill="#000" textLength="96.4" lengthAdjust="spacingAndGlyphs" style='font-family:"Liberation Serif", serif'>borjloo1352</text>
<g transform="translate(10,817.8) scale(0.546)" fill="#131722"><path d="M14 22H7V11H0V4h14v18zM28 22h-8l7.5-18h8L28 22z"/><circle cx="20" cy="8" r="4"/></g>
<text x="33" y="830" font-size="13" fill="#131722" textLength="70" lengthAdjust="spacingAndGlyphs">TradingView</text>
</svg>
</body></html>
